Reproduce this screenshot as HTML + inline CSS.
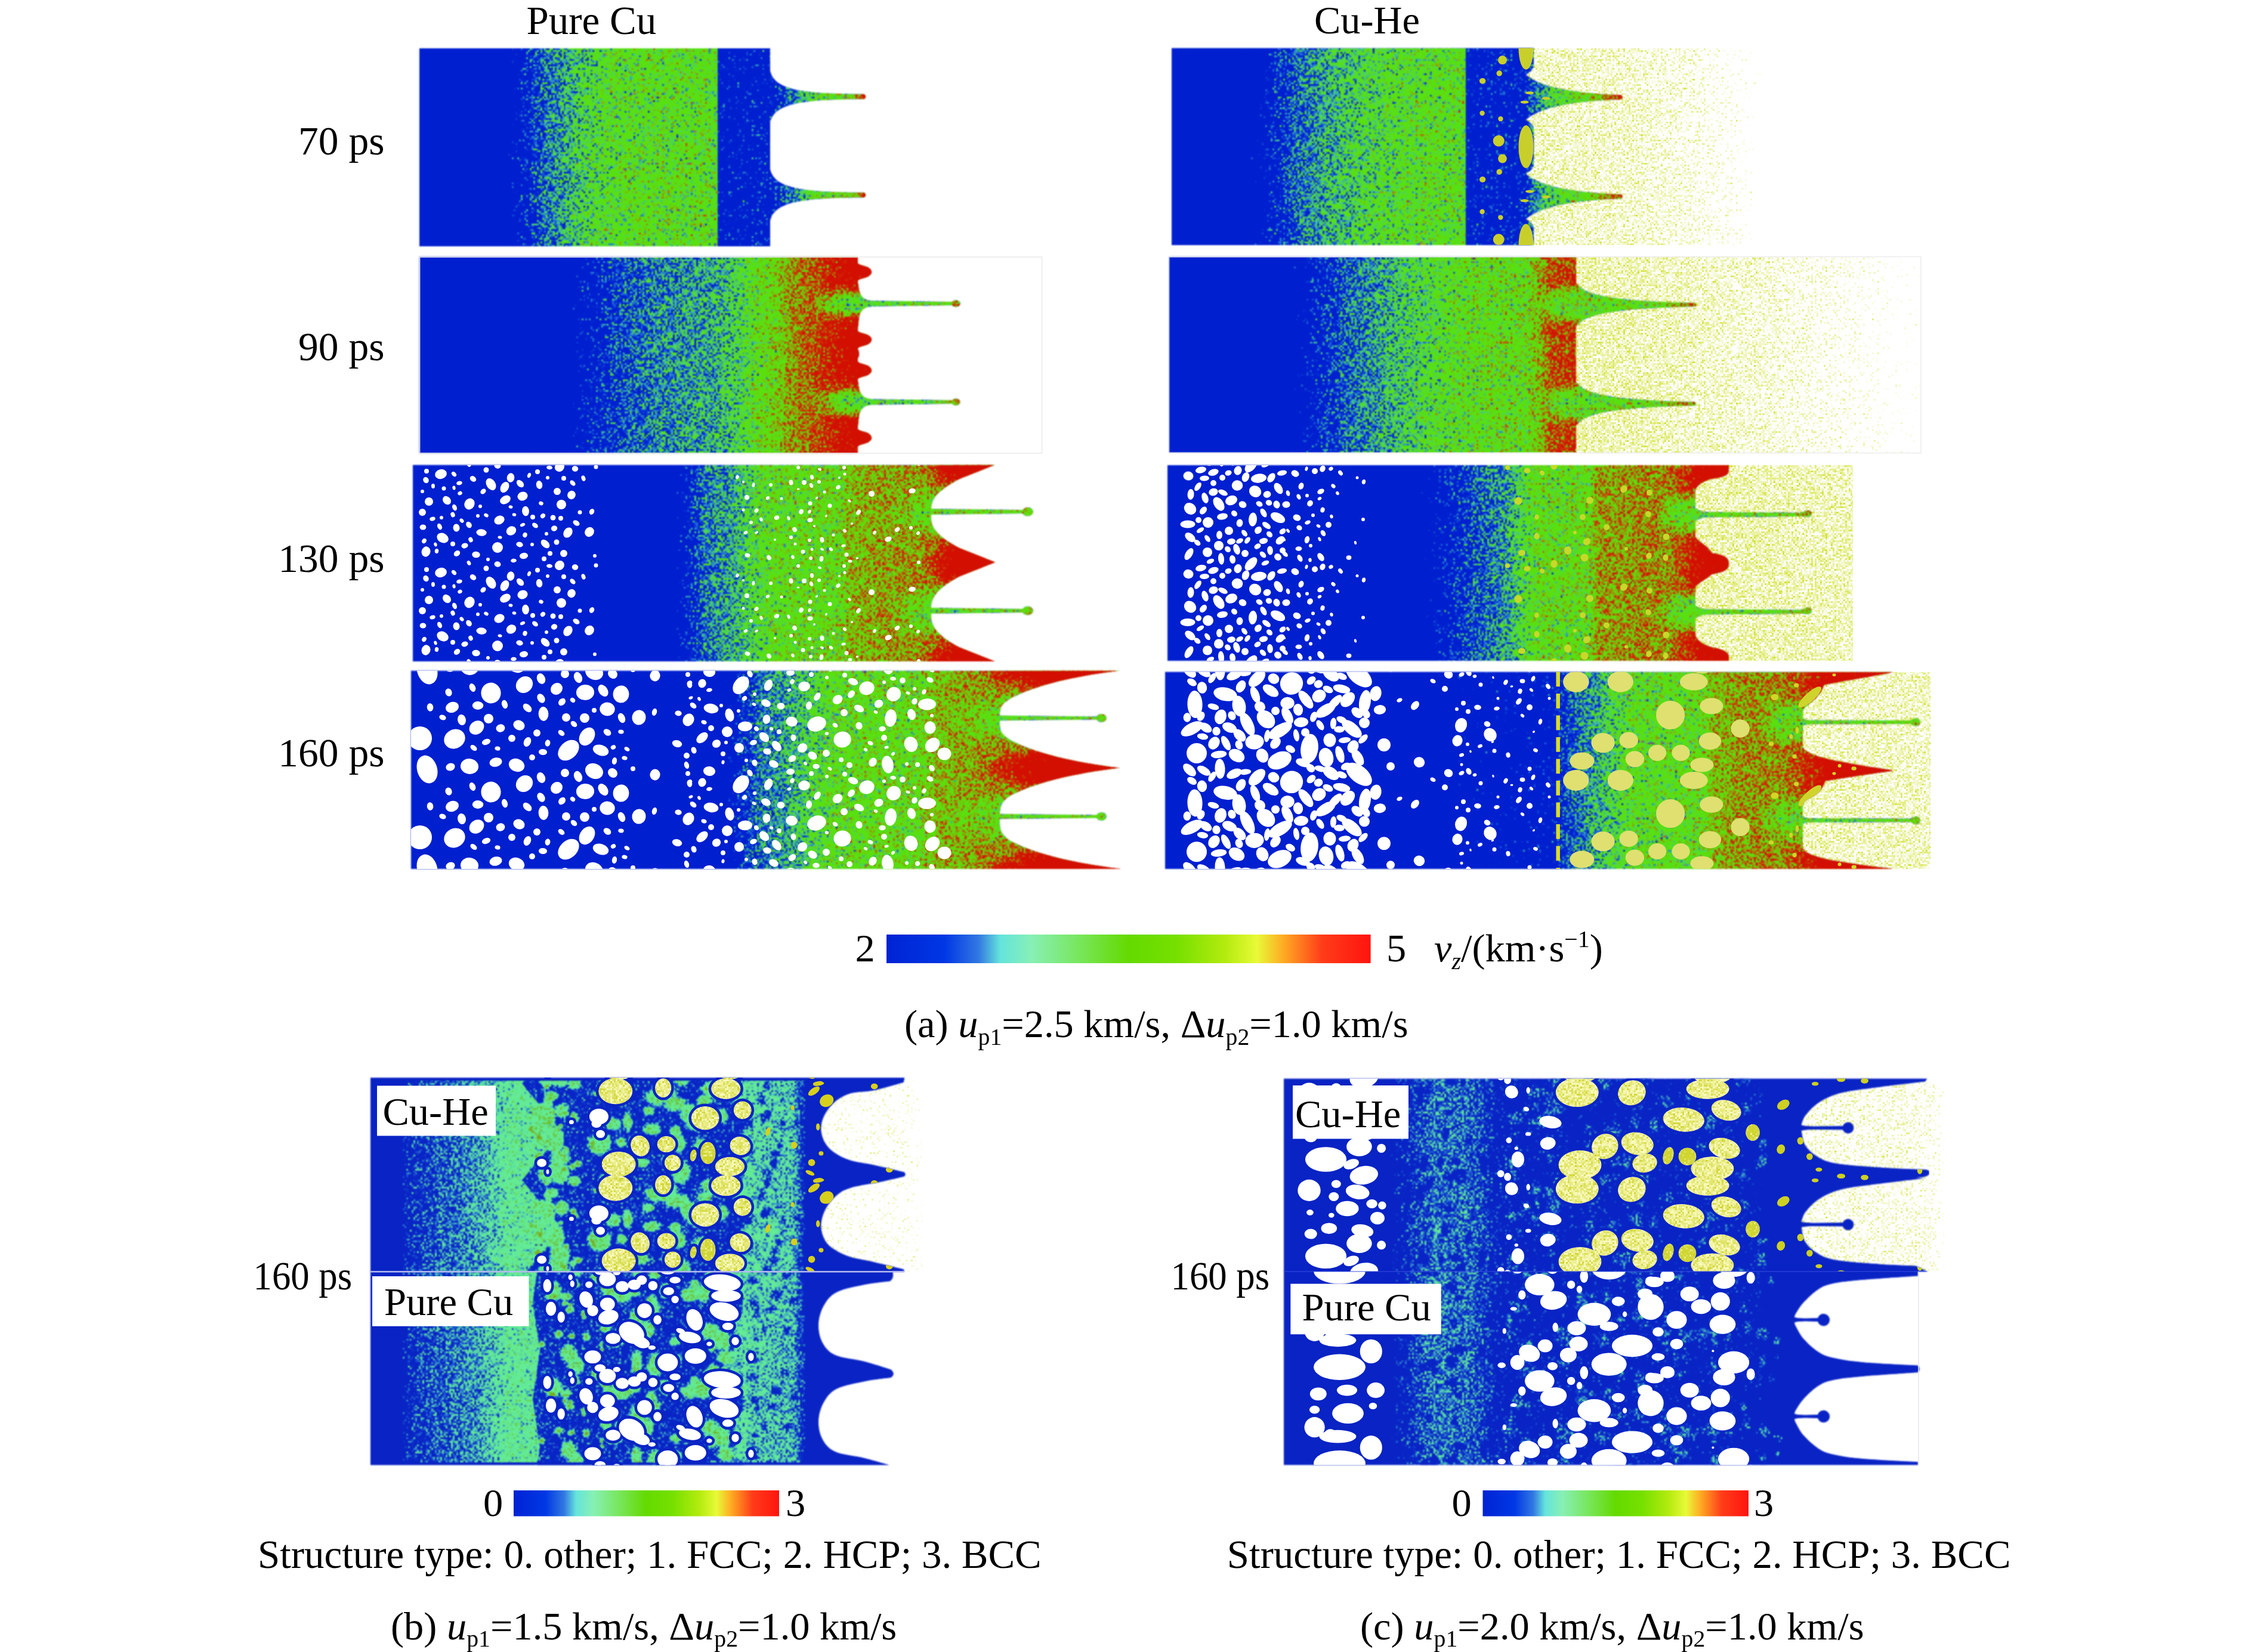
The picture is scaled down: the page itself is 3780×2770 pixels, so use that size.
<!DOCTYPE html>
<html><head><meta charset="utf-8"><title>figure</title>
<style>html,body{margin:0;padding:0;background:#fff;}body{width:3780px;height:2770px;overflow:hidden;}
svg{display:block;} text{font-family:"Liberation Serif",serif;fill:#000;}</style></head>
<body><svg width="3780" height="2770" viewBox="0 0 3780 2770">
<defs>
<filter id="fv" filterUnits="userSpaceOnUse" x="687" y="78" width="2535" height="1382" color-interpolation-filters="sRGB">
<feTurbulence type="fractalNoise" baseFrequency="0.46 0.54" numOctaves="1" seed="2" result="n"/>
<feColorMatrix in="n" type="matrix" values="1 0 0 0 0 1 0 0 0 0 1 0 0 0 0 0 0 0 0 1" result="n0"/>
<feFlood x="688" y="79" width="1" height="1" flood-color="#000" result="px"/>
<feComposite in="px" in2="px" operator="over" x="687" y="78" width="3" height="3" result="cell"/>
<feTile in="cell" result="grid"/>
<feComposite in="n0" in2="grid" operator="in" result="samp"/>
<feMorphology in="samp" operator="dilate" radius="1" result="n1"/>
<feComposite in="SourceGraphic" in2="n1" operator="arithmetic" k1="0" k2="1" k3="0.52" k4="-0.26" result="s"/>
<feComponentTransfer in="s" result="c"><feFuncR type="table" tableValues="0 0 0 0 0 0 0 0 0 0 0 0 0 0 0 0 0 0 0 0 0 0 0.065 0.131 0.206 0.277 0.305 0.333 0.338 0.342 0.347 0.352 0.356 0.361 0.456 0.55 0.642 0.732 0.805 0.813 0.82 0.824 0.824 0.824 0.824 0.824 0.824 0.824 0.824 0.824 0.824 0.824 0.824 0.824 0.824 0.824 0.824 0.824 0.824 0.824 0.824"/><feFuncG type="table" tableValues="0.122 0.122 0.122 0.122 0.122 0.122 0.122 0.122 0.122 0.122 0.122 0.122 0.122 0.122 0.122 0.122 0.124 0.125 0.127 0.129 0.131 0.133 0.294 0.455 0.637 0.808 0.845 0.882 0.882 0.882 0.882 0.882 0.882 0.882 0.776 0.67 0.529 0.366 0.222 0.157 0.092 0.059 0.059 0.059 0.059 0.059 0.059 0.059 0.059 0.059 0.059 0.059 0.059 0.059 0.059 0.059 0.059 0.059 0.059 0.059 0.059"/><feFuncB type="table" tableValues="0.812 0.812 0.812 0.812 0.812 0.812 0.812 0.812 0.812 0.812 0.812 0.812 0.812 0.812 0.812 0.812 0.814 0.816 0.818 0.82 0.822 0.824 0.838 0.853 0.702 0.528 0.313 0.098 0.088 0.078 0.069 0.059 0.049 0.039 0.039 0.039 0.034 0.026 0.018 0.011 0.004 0 0 0 0 0 0 0 0 0 0 0 0 0 0 0 0 0 0 0 0"/></feComponentTransfer>
<feComposite in="c" in2="SourceGraphic" operator="in" result="d"/><feGaussianBlur in="d" stdDeviation="0.85"/>
</filter>
<filter id="fh" filterUnits="userSpaceOnUse" x="1368" y="78" width="1893" height="2058" color-interpolation-filters="sRGB">
<feTurbulence type="fractalNoise" baseFrequency="0.46 0.54" numOctaves="1" seed="7" result="n"/>
<feColorMatrix in="n" type="matrix" values="1 0 0 0 0 1 0 0 0 0 1 0 0 0 0 0 0 0 0 1" result="n0"/>
<feFlood x="1369" y="79" width="1" height="1" flood-color="#000" result="px"/>
<feComposite in="px" in2="px" operator="over" x="1368" y="78" width="3" height="3" result="cell"/>
<feTile in="cell" result="grid"/>
<feComposite in="n0" in2="grid" operator="in" result="samp"/>
<feMorphology in="samp" operator="dilate" radius="1" result="n1"/>
<feComposite in="SourceGraphic" in2="n1" operator="arithmetic" k1="0" k2="1" k3="0.95" k4="-0.475" result="s"/>
<feComponentTransfer in="s" result="c"><feFuncR type="table" tableValues="1 1 1 1 1 1 1 1 1 1 1 1 1 1 1 1 1 1 1 0.996 0.987 0.978 0.969 0.96 0.951 0.942 0.933 0.924 0.915 0.906 0.897 0.888 0.879 0.869 0.86 0.851 0.842 0.833 0.831 0.831 0.831 0.831 0.831 0.831 0.831 0.831 0.831 0.831 0.831 0.831 0.831 0.831 0.831 0.831 0.831 0.831 0.831 0.831 0.831 0.831 0.831"/><feFuncG type="table" tableValues="1 1 1 1 1 1 1 1 1 1 1 1 1 1 1 1 1 1 1 0.998 0.992 0.986 0.981 0.975 0.969 0.964 0.958 0.952 0.946 0.941 0.935 0.929 0.924 0.918 0.912 0.907 0.901 0.895 0.894 0.894 0.894 0.894 0.894 0.894 0.894 0.894 0.894 0.894 0.894 0.894 0.894 0.894 0.894 0.894 0.894 0.894 0.894 0.894 0.894 0.894 0.894"/><feFuncB type="table" tableValues="1 1 1 1 1 1 1 1 1 1 1 1 1 1 1 1 1 1 1 0.984 0.942 0.901 0.86 0.819 0.778 0.737 0.696 0.655 0.614 0.572 0.531 0.49 0.449 0.408 0.367 0.326 0.285 0.244 0.235 0.235 0.235 0.235 0.235 0.235 0.235 0.235 0.235 0.235 0.235 0.235 0.235 0.235 0.235 0.235 0.235 0.235 0.235 0.235 0.235 0.235 0.235"/></feComponentTransfer>
<feComposite in="c" in2="SourceGraphic" operator="in" result="d"/><feGaussianBlur in="d" stdDeviation="0.6"/>
</filter>
<linearGradient id="g1" gradientUnits="userSpaceOnUse" x1="703" y1="0" x2="1452" y2="0"><stop offset="0.0000" stop-color="#1a1a1a"/><stop offset="0.1696" stop-color="#292929"/><stop offset="0.2296" stop-color="#4a4a4a"/><stop offset="0.2897" stop-color="#616161"/><stop offset="0.3431" stop-color="#6e6e6e"/><stop offset="0.3965" stop-color="#787878"/><stop offset="0.4633" stop-color="#7d7d7d"/><stop offset="0.6676" stop-color="#7e7e7e"/><stop offset="0.6677" stop-color="#444444"/><stop offset="0.7850" stop-color="#494949"/><stop offset="0.8238" stop-color="#595959"/><stop offset="0.8772" stop-color="#797979"/><stop offset="0.9506" stop-color="#868686"/><stop offset="0.9840" stop-color="#999999"/><stop offset="1.0000" stop-color="#b9b9b9"/></linearGradient>
<linearGradient id="g2" gradientUnits="userSpaceOnUse" x1="703" y1="0" x2="1462" y2="0"><stop offset="0.0000" stop-color="#1a1a1a"/><stop offset="0.2859" stop-color="#2d2d2d"/><stop offset="0.3781" stop-color="#4a4a4a"/><stop offset="0.4572" stop-color="#5b5b5b"/><stop offset="0.5231" stop-color="#636363"/><stop offset="0.6548" stop-color="#6a6a6a"/><stop offset="0.7075" stop-color="#737373"/><stop offset="0.7470" stop-color="#808080"/><stop offset="0.7866" stop-color="#878787"/><stop offset="0.8155" stop-color="#949494"/><stop offset="0.8709" stop-color="#a1a1a1"/><stop offset="0.9183" stop-color="#b2b2b2"/><stop offset="0.9684" stop-color="#c6c6c6"/><stop offset="1.0000" stop-color="#cccccc"/></linearGradient>
<clipPath id="c3"><path d="M703,430.5 H1438 L1438,441 C1442,445.5 1453,444.75 1459,450.75 Q1464,456 1459,461.25 C1453,467.25 1442,466.5 1438,471 L1440,483 Q1442,504 1462,504 L1462,514 Q1442,514 1440,535 L1438,554.5 C1442,559.0 1453,558.25 1459,564.25 Q1464,569.5 1459,574.75 C1453,580.75 1442,580.0 1438,584.5 Q1443,595 1438,601 L1438,606 C1442,610.5 1453,609.75 1459,615.75 Q1464,621 1459,626.25 C1453,632.25 1442,631.5 1438,636 L1440,648 Q1442,669 1462,669 L1462,679 Q1442,679 1440,700 L1438,719 C1442,723.5 1453,722.75 1459,728.75 Q1464,734 1459,739.25 C1453,745.25 1442,744.5 1438,749 L1438,760 H703 Z"/></clipPath>
<linearGradient id="g4" gradientUnits="userSpaceOnUse" x1="1440" y1="0" x2="1609" y2="0"><stop offset="0.0000" stop-color="#6c6c6c"/><stop offset="0.1775" stop-color="#797979"/><stop offset="0.7101" stop-color="#808080"/><stop offset="0.8876" stop-color="#8a8a8a"/><stop offset="1.0000" stop-color="#999999"/></linearGradient>
<radialGradient id="g5"><stop offset="0.3" stop-color="#7c7c7c" stop-opacity="1"/><stop offset="1" stop-color="#7c7c7c" stop-opacity="0"/></radialGradient>
<radialGradient id="g6"><stop offset="0.3" stop-color="#7c7c7c" stop-opacity="1"/><stop offset="1" stop-color="#7c7c7c" stop-opacity="0"/></radialGradient>
<linearGradient id="g7" gradientUnits="userSpaceOnUse" x1="692" y1="0" x2="1668" y2="0"><stop offset="0.0000" stop-color="#1a1a1a"/><stop offset="0.4283" stop-color="#262626"/><stop offset="0.4693" stop-color="#4a4a4a"/><stop offset="0.5051" stop-color="#616161"/><stop offset="0.5564" stop-color="#6b6b6b"/><stop offset="0.5922" stop-color="#797979"/><stop offset="0.6230" stop-color="#808080"/><stop offset="0.7377" stop-color="#828282"/><stop offset="0.7459" stop-color="#8e8e8e"/><stop offset="0.8074" stop-color="#939393"/><stop offset="0.8893" stop-color="#989898"/><stop offset="0.9303" stop-color="#acacac"/><stop offset="0.9713" stop-color="#c6c6c6"/></linearGradient>
<clipPath id="c8"><path d="M692,779.5 L1668,779.5 L1608,803.5 C1573,822.5 1561,836 1561,853 L1561,869 C1561,886 1573,899.5 1608,918.5 L1668,942.5 L1668,943.0 L1608,967.0 C1573,986.0 1561,1001 1561,1018 L1561,1034 C1561,1051 1573,1066.0 1608,1085.0 L1668,1109.0 L1668,1109 H692 Z"/></clipPath>
<radialGradient id="g9"><stop offset="0.35" stop-color="#808080" stop-opacity="1"/><stop offset="1" stop-color="#808080" stop-opacity="0"/></radialGradient>
<radialGradient id="g10"><stop offset="0.35" stop-color="#808080" stop-opacity="1"/><stop offset="1" stop-color="#808080" stop-opacity="0"/></radialGradient>
<radialGradient id="g11"><stop offset="0.3" stop-color="#cccccc" stop-opacity="1"/><stop offset="1" stop-color="#cccccc" stop-opacity="0"/></radialGradient>
<radialGradient id="g12"><stop offset="0.3" stop-color="#cccccc" stop-opacity="1"/><stop offset="1" stop-color="#cccccc" stop-opacity="0"/></radialGradient>
<radialGradient id="g13"><stop offset="0.3" stop-color="#cccccc" stop-opacity="1"/><stop offset="1" stop-color="#cccccc" stop-opacity="0"/></radialGradient>
<linearGradient id="g14" gradientUnits="userSpaceOnUse" x1="1555" y1="0" x2="1731" y2="0"><stop offset="0.0000" stop-color="#808080"/><stop offset="0.8239" stop-color="#828282"/><stop offset="1.0000" stop-color="#8c8c8c"/></linearGradient>
<linearGradient id="g15" gradientUnits="userSpaceOnUse" x1="689" y1="0" x2="1878" y2="0"><stop offset="0.0000" stop-color="#1a1a1a"/><stop offset="0.4256" stop-color="#262626"/><stop offset="0.4592" stop-color="#4a4a4a"/><stop offset="0.4929" stop-color="#606060"/><stop offset="0.5307" stop-color="#696969"/><stop offset="0.5601" stop-color="#737373"/><stop offset="0.5896" stop-color="#7c7c7c"/><stop offset="0.6148" stop-color="#808080"/><stop offset="0.7157" stop-color="#828282"/><stop offset="0.7325" stop-color="#8c8c8c"/><stop offset="0.7998" stop-color="#959595"/><stop offset="0.8503" stop-color="#9c9c9c"/><stop offset="0.9008" stop-color="#b2b2b2"/><stop offset="0.9344" stop-color="#c6c6c6"/></linearGradient>
<clipPath id="c16"><path d="M689,1124.5 L1878,1124.5 C1788,1135.5 1734,1151.5 1695,1170.5 C1680,1180.5 1676,1184 1676,1200 L1676,1212 C1676,1228 1680,1231.5 1695,1241.5 C1734,1260.5 1788,1276.5 1878,1287.5 L1878,1287.5 C1788,1298.5 1734,1314.5 1695,1333.5 C1680,1343.5 1676,1350 1676,1366 L1676,1378 C1676,1394 1680,1400.5 1695,1410.5 C1734,1429.5 1788,1445.5 1878,1456.5 L1878,1457 H689 Z"/></clipPath>
<radialGradient id="g17"><stop offset="0.35" stop-color="#828282" stop-opacity="1"/><stop offset="1" stop-color="#828282" stop-opacity="0"/></radialGradient>
<radialGradient id="g18"><stop offset="0.35" stop-color="#828282" stop-opacity="1"/><stop offset="1" stop-color="#828282" stop-opacity="0"/></radialGradient>
<radialGradient id="g19"><stop offset="0.3" stop-color="#cccccc" stop-opacity="1"/><stop offset="1" stop-color="#cccccc" stop-opacity="0"/></radialGradient>
<radialGradient id="g20"><stop offset="0.3" stop-color="#cccccc" stop-opacity="1"/><stop offset="1" stop-color="#cccccc" stop-opacity="0"/></radialGradient>
<radialGradient id="g21"><stop offset="0.3" stop-color="#cccccc" stop-opacity="1"/><stop offset="1" stop-color="#cccccc" stop-opacity="0"/></radialGradient>
<linearGradient id="g22" gradientUnits="userSpaceOnUse" x1="1670" y1="0" x2="1854" y2="0"><stop offset="0.0000" stop-color="#808080"/><stop offset="0.7065" stop-color="#808080"/><stop offset="1.0000" stop-color="#868686"/></linearGradient>
<linearGradient id="g23" gradientUnits="userSpaceOnUse" x1="2550" y1="0" x2="2960" y2="0"><stop offset="0.0000" stop-color="#666666"/><stop offset="0.4634" stop-color="#5c5c5c"/><stop offset="0.7317" stop-color="#4a4a4a"/><stop offset="0.9024" stop-color="#333333"/><stop offset="1.0000" stop-color="#131313"/></linearGradient>
<linearGradient id="g24" gradientUnits="userSpaceOnUse" x1="1964" y1="0" x2="2720" y2="0"><stop offset="0.0000" stop-color="#1a1a1a"/><stop offset="0.1534" stop-color="#2a2a2a"/><stop offset="0.2196" stop-color="#4a4a4a"/><stop offset="0.2791" stop-color="#5e5e5e"/><stop offset="0.3452" stop-color="#6a6a6a"/><stop offset="0.4180" stop-color="#737373"/><stop offset="0.4841" stop-color="#797979"/><stop offset="0.5767" stop-color="#7d7d7d"/><stop offset="0.6521" stop-color="#7e7e7e"/><stop offset="0.6522" stop-color="#454545"/><stop offset="0.7817" stop-color="#4a4a4a"/><stop offset="0.8082" stop-color="#626262"/><stop offset="0.8413" stop-color="#757575"/><stop offset="0.8942" stop-color="#808080"/><stop offset="0.9405" stop-color="#8a8a8a"/><stop offset="0.9669" stop-color="#999999"/><stop offset="1.0000" stop-color="#ababab"/></linearGradient>
<clipPath id="c25"><path d="M1964,80.5 H2571 L2571,112 Q2567,121 2558,125 L2558,125 C2576,141 2618,156 2716,159 A4,4 0 0 1 2716,167 C2618,170 2576,185 2558,201 Q2567,205 2571,214 L2571,278 Q2567,287 2558,291 L2558,291.5 C2576,307.5 2618,322.5 2716,325.5 A4,4 0 0 1 2716,333.5 C2618,336.5 2576,351.5 2558,367.5 Q2567,372 2571,380 L2571,411 H1964 Z"/></clipPath>
<linearGradient id="g26" gradientUnits="userSpaceOnUse" x1="2630" y1="0" x2="3219" y2="0"><stop offset="0.0000" stop-color="#6e6e6e"/><stop offset="0.2886" stop-color="#666666"/><stop offset="0.5433" stop-color="#575757"/><stop offset="0.7640" stop-color="#424242"/><stop offset="0.8998" stop-color="#303030"/><stop offset="1.0000" stop-color="#202020"/></linearGradient>
<linearGradient id="g27" gradientUnits="userSpaceOnUse" x1="1960" y1="0" x2="2843" y2="0"><stop offset="0.0000" stop-color="#1a1a1a"/><stop offset="0.2039" stop-color="#2a2a2a"/><stop offset="0.2718" stop-color="#4a4a4a"/><stop offset="0.3398" stop-color="#5e5e5e"/><stop offset="0.4077" stop-color="#6a6a6a"/><stop offset="0.4700" stop-color="#747474"/><stop offset="0.5323" stop-color="#7c7c7c"/><stop offset="0.5889" stop-color="#808080"/><stop offset="0.6795" stop-color="#828282"/><stop offset="0.7044" stop-color="#919191"/><stop offset="0.7248" stop-color="#a1a1a1"/><stop offset="0.7758" stop-color="#ababab"/><stop offset="0.7769" stop-color="#797979"/><stop offset="0.8381" stop-color="#808080"/><stop offset="0.9287" stop-color="#828282"/><stop offset="0.9513" stop-color="#8f8f8f"/><stop offset="1.0000" stop-color="#9c9c9c"/></linearGradient>
<clipPath id="c28"><path d="M1960,430.5 H2642 L2642,475 Q2648,478 2648,481 C2662,493 2697,504.8 2840,507.8 A3.2,3.2 0 0 1 2840,514.2 C2697,517.2 2662,529 2648,541 Q2648,544 2642,547 L2642,641 Q2648,644 2648,647 C2662,659 2697,670.8 2840,673.8 A3.2,3.2 0 0 1 2840,680.2 C2697,683.2 2662,695 2648,707 Q2648,710 2642,713 L2642,759 H1960 Z"/></clipPath>
<radialGradient id="g29"><stop offset="0.5" stop-color="#808080" stop-opacity="1"/><stop offset="1" stop-color="#808080" stop-opacity="0"/></radialGradient>
<radialGradient id="g30"><stop offset="0.5" stop-color="#808080" stop-opacity="1"/><stop offset="1" stop-color="#808080" stop-opacity="0"/></radialGradient>
<linearGradient id="g31" gradientUnits="userSpaceOnUse" x1="2830" y1="0" x2="3106" y2="0"><stop offset="0.0000" stop-color="#6e6e6e"/><stop offset="1.0000" stop-color="#666666"/></linearGradient>
<linearGradient id="g32" gradientUnits="userSpaceOnUse" x1="1957" y1="0" x2="2899" y2="0"><stop offset="0.0000" stop-color="#1a1a1a"/><stop offset="0.4278" stop-color="#262626"/><stop offset="0.4809" stop-color="#474747"/><stop offset="0.5446" stop-color="#595959"/><stop offset="0.6030" stop-color="#666666"/><stop offset="0.6348" stop-color="#787878"/><stop offset="0.6614" stop-color="#808080"/><stop offset="0.7527" stop-color="#828282"/><stop offset="0.7633" stop-color="#939393"/><stop offset="0.8100" stop-color="#969696"/><stop offset="0.8949" stop-color="#999999"/><stop offset="0.9268" stop-color="#acacac"/><stop offset="0.9586" stop-color="#c6c6c6"/><stop offset="1.0000" stop-color="#cccccc"/></linearGradient>
<linearGradient id="g33" gradientUnits="userSpaceOnUse" x1="2835" y1="0" x2="3036" y2="0"><stop offset="0.0000" stop-color="#7d7d7d"/><stop offset="0.6219" stop-color="#808080"/><stop offset="0.8209" stop-color="#878787"/><stop offset="1.0000" stop-color="#949494"/></linearGradient>
<clipPath id="c34"><path d="M1957,780 H2898 L2898,790 Q2898,800 2870,803 C2856,807 2846,812 2842,822 L2842,869 L2842,900 C2848,909 2862,914 2870,927 Q2898,931 2898,942 L2898,948 Q2898,959 2870,963 C2862,971 2848,976 2842,985 L2842,1032 L2842,1065 C2846,1075 2856,1081 2870,1085 Q2898,1090 2898,1100 L2898,1108 H1957 Z"/></clipPath>
<radialGradient id="g35"><stop offset="0.45" stop-color="#808080" stop-opacity="1"/><stop offset="1" stop-color="#808080" stop-opacity="0"/></radialGradient>
<radialGradient id="g36"><stop offset="0.45" stop-color="#808080" stop-opacity="1"/><stop offset="1" stop-color="#808080" stop-opacity="0"/></radialGradient>
<linearGradient id="g37" gradientUnits="userSpaceOnUse" x1="3000" y1="0" x2="3236.5" y2="0"><stop offset="0.0000" stop-color="#666666"/><stop offset="0.9979" stop-color="#626262"/></linearGradient>
<linearGradient id="g38" gradientUnits="userSpaceOnUse" x1="1953" y1="0" x2="3172" y2="0"><stop offset="0.0000" stop-color="#1a1a1a"/><stop offset="0.3257" stop-color="#202020"/><stop offset="0.4077" stop-color="#3b3b3b"/><stop offset="0.5398" stop-color="#444444"/><stop offset="0.5406" stop-color="#505050"/><stop offset="0.5718" stop-color="#626262"/><stop offset="0.6046" stop-color="#6e6e6e"/><stop offset="0.6374" stop-color="#7c7c7c"/><stop offset="0.7358" stop-color="#808080"/><stop offset="0.7564" stop-color="#8f8f8f"/><stop offset="0.7933" stop-color="#959595"/><stop offset="0.8507" stop-color="#999999"/><stop offset="0.8835" stop-color="#acacac"/><stop offset="0.9163" stop-color="#c6c6c6"/><stop offset="1.0000" stop-color="#cccccc"/></linearGradient>
<linearGradient id="g39" gradientUnits="userSpaceOnUse" x1="3015" y1="0" x2="3217" y2="0"><stop offset="0.0000" stop-color="#7d7d7d"/><stop offset="0.6683" stop-color="#808080"/><stop offset="1.0000" stop-color="#8a8a8a"/></linearGradient>
<clipPath id="c40"><path d="M1953,1126.5 H3171 L3171,1128 C3125,1137 3085,1143 3058,1149 C3053,1160 3050,1168 3027,1185 Q3022,1190 3022,1195 L3022,1207 L3022,1215 L3022,1252 C3026,1262 3047,1268 3067,1273 C3102,1280 3122,1284 3172,1291 L3172,1293 C3122,1300 3082,1306 3060,1310 C3055,1322 3052,1330 3027,1342 Q3022,1346 3022,1350 L3022,1371.5 L3022,1379.5 L3022,1421 C3026,1431 3045,1436 3065,1441 C3100,1447 3130,1452 3171,1456 L3171,1457 H1953 Z"/></clipPath>
<radialGradient id="g41"><stop offset="0.4" stop-color="#828282" stop-opacity="1"/><stop offset="1" stop-color="#828282" stop-opacity="0"/></radialGradient>
<radialGradient id="g42"><stop offset="0.4" stop-color="#828282" stop-opacity="1"/><stop offset="1" stop-color="#828282" stop-opacity="0"/></radialGradient>
<linearGradient id="cb43" x1="0" y1="0" x2="1" y2="0"><stop offset="0.0" stop-color="rgb(0,35,212)"/><stop offset="0.12" stop-color="rgb(0,55,228)"/><stop offset="0.19" stop-color="rgb(50,120,226)"/><stop offset="0.235" stop-color="rgb(100,228,220)"/><stop offset="0.3" stop-color="rgb(135,240,180)"/><stop offset="0.4" stop-color="rgb(120,230,90)"/><stop offset="0.5" stop-color="rgb(100,218,0)"/><stop offset="0.6" stop-color="rgb(118,224,0)"/><stop offset="0.7" stop-color="rgb(180,235,15)"/><stop offset="0.765" stop-color="rgb(232,250,55)"/><stop offset="0.82" stop-color="rgb(255,170,35)"/><stop offset="0.9" stop-color="rgb(255,60,25)"/><stop offset="1.0" stop-color="rgb(255,20,15)"/></linearGradient>
<linearGradient id="cb44" x1="0" y1="0" x2="1" y2="0"><stop offset="0.0" stop-color="rgb(0,35,212)"/><stop offset="0.12" stop-color="rgb(0,55,228)"/><stop offset="0.19" stop-color="rgb(50,120,226)"/><stop offset="0.235" stop-color="rgb(100,228,220)"/><stop offset="0.3" stop-color="rgb(135,240,180)"/><stop offset="0.4" stop-color="rgb(120,230,90)"/><stop offset="0.5" stop-color="rgb(100,218,0)"/><stop offset="0.6" stop-color="rgb(118,224,0)"/><stop offset="0.7" stop-color="rgb(180,235,15)"/><stop offset="0.765" stop-color="rgb(232,250,55)"/><stop offset="0.82" stop-color="rgb(255,170,35)"/><stop offset="0.9" stop-color="rgb(255,60,25)"/><stop offset="1.0" stop-color="rgb(255,20,15)"/></linearGradient>
<linearGradient id="cb45" x1="0" y1="0" x2="1" y2="0"><stop offset="0.0" stop-color="rgb(0,35,212)"/><stop offset="0.12" stop-color="rgb(0,55,228)"/><stop offset="0.19" stop-color="rgb(50,120,226)"/><stop offset="0.235" stop-color="rgb(100,228,220)"/><stop offset="0.3" stop-color="rgb(135,240,180)"/><stop offset="0.4" stop-color="rgb(120,230,90)"/><stop offset="0.5" stop-color="rgb(100,218,0)"/><stop offset="0.6" stop-color="rgb(118,224,0)"/><stop offset="0.7" stop-color="rgb(180,235,15)"/><stop offset="0.765" stop-color="rgb(232,250,55)"/><stop offset="0.82" stop-color="rgb(255,170,35)"/><stop offset="0.9" stop-color="rgb(255,60,25)"/><stop offset="1.0" stop-color="rgb(255,20,15)"/></linearGradient>
<filter id="fs" filterUnits="userSpaceOnUse" x="618" y="1804" width="2616" height="655" color-interpolation-filters="sRGB">
<feTurbulence type="fractalNoise" baseFrequency="0.46 0.54" numOctaves="1" seed="5" result="n"/>
<feColorMatrix in="n" type="matrix" values="1 0 0 0 0 1 0 0 0 0 1 0 0 0 0 0 0 0 0 1" result="n0"/>
<feFlood x="619" y="1805" width="1" height="1" flood-color="#000" result="px"/>
<feComposite in="px" in2="px" operator="over" x="618" y="1804" width="3" height="3" result="cell"/>
<feTile in="cell" result="grid"/>
<feComposite in="n0" in2="grid" operator="in" result="samp"/>
<feMorphology in="samp" operator="dilate" radius="1" result="n1"/>
<feComposite in="SourceGraphic" in2="n1" operator="arithmetic" k1="0" k2="1" k3="0.6" k4="-0.3" result="s"/>
<feComponentTransfer in="s" result="c"><feFuncR type="table" tableValues="0.039 0.039 0.039 0.039 0.039 0.039 0.039 0.039 0.039 0.039 0.039 0.039 0.039 0.039 0.039 0.039 0.038 0.036 0.035 0.033 0.032 0.073 0.12 0.174 0.259 0.344 0.371 0.384 0.392 0.392 0.392 0.392 0.392 0.392 0.394 0.398 0.402 0.406 0.41 0.421 0.436 0.452 0.467 0.483 0.49 0.49 0.49 0.49 0.49 0.49 0.49 0.49 0.49 0.49 0.49 0.49 0.49 0.49 0.49 0.49 0.49"/><feFuncG type="table" tableValues="0.141 0.141 0.141 0.141 0.141 0.141 0.141 0.141 0.141 0.141 0.141 0.141 0.141 0.141 0.141 0.141 0.143 0.144 0.146 0.147 0.149 0.256 0.375 0.504 0.671 0.837 0.889 0.912 0.925 0.925 0.925 0.925 0.925 0.925 0.914 0.884 0.855 0.825 0.796 0.768 0.741 0.714 0.687 0.661 0.647 0.647 0.647 0.647 0.647 0.647 0.647 0.647 0.647 0.647 0.647 0.647 0.647 0.647 0.647 0.647 0.647"/><feFuncB type="table" tableValues="0.769 0.769 0.769 0.769 0.769 0.769 0.769 0.769 0.769 0.769 0.769 0.769 0.769 0.769 0.769 0.769 0.772 0.775 0.778 0.781 0.784 0.804 0.826 0.827 0.745 0.663 0.627 0.603 0.588 0.588 0.588 0.588 0.588 0.588 0.559 0.485 0.412 0.338 0.265 0.221 0.198 0.175 0.152 0.129 0.118 0.118 0.118 0.118 0.118 0.118 0.118 0.118 0.118 0.118 0.118 0.118 0.118 0.118 0.118 0.118 0.118"/></feComponentTransfer>
<feComposite in="c" in2="SourceGraphic" operator="in" result="d"/><feGaussianBlur in="d" stdDeviation="0.85"/>
</filter>
<filter id="fb" filterUnits="userSpaceOnUse" x="990" y="1804" width="1972" height="332" color-interpolation-filters="sRGB">
<feTurbulence type="fractalNoise" baseFrequency="0.46 0.54" numOctaves="1" seed="9" result="n"/>
<feColorMatrix in="n" type="matrix" values="1 0 0 0 0 1 0 0 0 0 1 0 0 0 0 0 0 0 0 1" result="n0"/>
<feFlood x="991" y="1805" width="1" height="1" flood-color="#000" result="px"/>
<feComposite in="px" in2="px" operator="over" x="990" y="1804" width="3" height="3" result="cell"/>
<feTile in="cell" result="grid"/>
<feComposite in="n0" in2="grid" operator="in" result="samp"/>
<feMorphology in="samp" operator="dilate" radius="1" result="n1"/>
<feComposite in="SourceGraphic" in2="n1" operator="arithmetic" k1="0" k2="1" k3="0.8" k4="-0.4" result="s"/>
<feComponentTransfer in="s" result="c"><feFuncR type="table" tableValues="0.98 0.98 0.98 0.98 0.98 0.98 0.98 0.98 0.98 0.98 0.98 0.98 0.98 0.98 0.98 0.98 0.98 0.98 0.98 0.98 0.98 0.98 0.98 0.975 0.964 0.953 0.942 0.931 0.92 0.909 0.898 0.887 0.876 0.865 0.854 0.843 0.832 0.821 0.816 0.816 0.816 0.816 0.816 0.816 0.816 0.816 0.816 0.816 0.816 0.816 0.816 0.816 0.816 0.816 0.816 0.816 0.816 0.816 0.816 0.816 0.816"/><feFuncG type="table" tableValues="0.98 0.98 0.98 0.98 0.98 0.98 0.98 0.98 0.98 0.98 0.98 0.98 0.98 0.98 0.98 0.98 0.98 0.98 0.98 0.98 0.98 0.98 0.98 0.976 0.966 0.957 0.947 0.938 0.929 0.919 0.91 0.9 0.891 0.882 0.872 0.863 0.853 0.844 0.839 0.839 0.839 0.839 0.839 0.839 0.839 0.839 0.839 0.839 0.839 0.839 0.839 0.839 0.839 0.839 0.839 0.839 0.839 0.839 0.839 0.839 0.839"/><feFuncB type="table" tableValues="0.745 0.745 0.745 0.745 0.745 0.745 0.745 0.745 0.745 0.745 0.745 0.745 0.745 0.745 0.745 0.745 0.745 0.745 0.745 0.745 0.745 0.745 0.745 0.727 0.69 0.654 0.617 0.58 0.544 0.507 0.471 0.434 0.397 0.361 0.324 0.288 0.251 0.214 0.196 0.196 0.196 0.196 0.196 0.196 0.196 0.196 0.196 0.196 0.196 0.196 0.196 0.196 0.196 0.196 0.196 0.196 0.196 0.196 0.196 0.196 0.196"/></feComponentTransfer>
<feComposite in="c" in2="SourceGraphic" operator="in" result="d"/><feGaussianBlur in="d" stdDeviation="0.6"/>
</filter>
<linearGradient id="g46" gradientUnits="userSpaceOnUse" x1="1370" y1="0" x2="1546" y2="0"><stop offset="0.0000" stop-color="#3b3b3b"/><stop offset="0.7386" stop-color="#383838"/><stop offset="1.0000" stop-color="#2d2d2d"/></linearGradient>
<linearGradient id="g47" gradientUnits="userSpaceOnUse" x1="621" y1="0" x2="1520" y2="0"><stop offset="0.0000" stop-color="#1a1a1a"/><stop offset="0.0478" stop-color="#202020"/><stop offset="0.0701" stop-color="#4c4c4c"/><stop offset="0.1324" stop-color="#595959"/><stop offset="0.1991" stop-color="#656565"/><stop offset="0.2380" stop-color="#737373"/><stop offset="0.2547" stop-color="#808080"/><stop offset="0.6885" stop-color="#808080"/><stop offset="0.7130" stop-color="#707070"/><stop offset="0.7887" stop-color="#6e6e6e"/><stop offset="0.8065" stop-color="#4c4c4c"/><stop offset="0.8176" stop-color="#1a1a1a"/></linearGradient>
<clipPath id="c48"><path d="M621,1807 H1516.1 L1514.8,1815.0 C1506.6,1817.2 1480.4,1825.2 1465.6,1828.3 C1450.7,1831.4 1436.7,1830.3 1425.6,1833.6 C1414.6,1836.9 1406.3,1842.0 1399.0,1848.2 C1391.7,1854.4 1385.5,1863.3 1381.7,1870.8 C1378.0,1878.4 1376.2,1885.9 1376.4,1893.4 C1376.6,1901.0 1379.3,1909.5 1383.1,1916.1 C1386.8,1922.6 1391.9,1927.9 1399.0,1932.8 C1406.1,1937.8 1414.6,1942.1 1425.6,1945.6 C1436.7,1949.1 1450.6,1950.3 1465.6,1953.6 C1480.5,1956.9 1507.2,1963.3 1515.6,1965.3 Q1520.1,1969.3 1515.6,1972.7 L1515.6,1972.7 C1509.5,1974.2 1493.8,1978.1 1478.9,1981.3 C1463.9,1984.4 1438.5,1987.9 1425.6,1991.9 C1412.8,1995.9 1408.8,1999.0 1401.7,2005.2 C1394.6,2011.4 1387.3,2020.7 1383.1,2029.2 C1378.9,2037.6 1376.4,2047.3 1376.4,2055.8 C1376.4,2064.2 1379.3,2073.1 1383.1,2079.7 C1386.8,2086.3 1391.9,2090.5 1399.0,2095.1 C1406.1,2099.8 1414.6,2104.1 1425.6,2107.6 C1436.7,2111.1 1450.7,2112.7 1465.6,2116.2 C1480.4,2119.6 1506.6,2126.1 1514.8,2128.1 L1516.1,2132.3 H621 Z"/></clipPath>
<radialGradient id="g49"><stop offset="0.55" stop-color="#8f8f8f" stop-opacity="1"/><stop offset="1" stop-color="#8f8f8f" stop-opacity="0"/></radialGradient>
<radialGradient id="g50"><stop offset="0.2" stop-color="#b2b2b2" stop-opacity="1"/><stop offset="1" stop-color="#b2b2b2" stop-opacity="0"/></radialGradient>
<radialGradient id="g51"><stop offset="0.5" stop-color="#797979" stop-opacity="1"/><stop offset="1" stop-color="#797979" stop-opacity="0"/></radialGradient>
<radialGradient id="g52"><stop offset="0.35" stop-color="#464646" stop-opacity="1"/><stop offset="1" stop-color="#464646" stop-opacity="0"/></radialGradient>
<linearGradient id="g53" gradientUnits="userSpaceOnUse" x1="621" y1="0" x2="1520" y2="0"><stop offset="0.0000" stop-color="#1a1a1a"/><stop offset="0.0478" stop-color="#202020"/><stop offset="0.0701" stop-color="#4c4c4c"/><stop offset="0.1324" stop-color="#595959"/><stop offset="0.1991" stop-color="#656565"/><stop offset="0.2380" stop-color="#737373"/><stop offset="0.2547" stop-color="#808080"/><stop offset="0.6719" stop-color="#808080"/><stop offset="0.6974" stop-color="#6f6f6f"/><stop offset="0.7887" stop-color="#6b6b6b"/><stop offset="0.8065" stop-color="#4c4c4c"/><stop offset="0.8176" stop-color="#1a1a1a"/></linearGradient>
<clipPath id="c54"><path d="M621,2132.3 H1496.4 Q1499.4,2143.3 1491.7,2148.6 L1491.7,2148.6 C1484.7,2149.5 1464.5,2151.1 1449.8,2154.1 C1435.1,2157.1 1414.6,2160.9 1403.2,2166.6 C1391.9,2172.3 1386.7,2179.5 1381.5,2188.3 C1376.3,2197.1 1372.7,2209.0 1372.2,2219.3 C1371.7,2229.7 1373.7,2241.6 1378.4,2250.4 C1383.1,2259.2 1388.2,2266.7 1400.1,2272.1 C1412.0,2277.5 1434.3,2278.9 1449.8,2283.0 C1465.3,2287.0 1486.0,2294.1 1493.3,2296.3 Q1502.4,2303.8 1493.3,2310.0 L1493.3,2310.0 C1486.0,2311.0 1464.8,2313.1 1449.8,2316.2 C1434.8,2319.3 1414.6,2322.9 1403.2,2328.6 C1391.9,2334.3 1386.7,2341.5 1381.5,2350.3 C1376.3,2359.1 1372.7,2371.0 1372.2,2381.4 C1371.7,2391.7 1373.7,2403.6 1378.4,2412.4 C1383.1,2421.2 1388.2,2428.7 1400.1,2434.1 C1412.0,2439.6 1434.5,2441.2 1449.8,2445.0 C1465.1,2448.8 1484.7,2454.8 1491.7,2456.8 L1491.7,2456.5 H621 Z"/></clipPath>
<radialGradient id="g55"><stop offset="0.55" stop-color="#8f8f8f" stop-opacity="1"/><stop offset="1" stop-color="#8f8f8f" stop-opacity="0"/></radialGradient>
<radialGradient id="g56"><stop offset="0.2" stop-color="#b2b2b2" stop-opacity="1"/><stop offset="1" stop-color="#b2b2b2" stop-opacity="0"/></radialGradient>
<radialGradient id="g57"><stop offset="0.5" stop-color="#797979" stop-opacity="1"/><stop offset="1" stop-color="#797979" stop-opacity="0"/></radialGradient>
<radialGradient id="g58"><stop offset="0.35" stop-color="#464646" stop-opacity="1"/><stop offset="1" stop-color="#464646" stop-opacity="0"/></radialGradient>
<linearGradient id="g59" gradientUnits="userSpaceOnUse" x1="3000" y1="0" x2="3259" y2="0"><stop offset="0.0000" stop-color="#4f4f4f"/><stop offset="0.7722" stop-color="#4c4c4c"/><stop offset="0.9266" stop-color="#424242"/><stop offset="1.0000" stop-color="#2d2d2d"/></linearGradient>
<linearGradient id="g60" gradientUnits="userSpaceOnUse" x1="2152" y1="0" x2="3260" y2="0"><stop offset="0.0000" stop-color="#0d0d0d"/><stop offset="0.1498" stop-color="#0d0d0d"/><stop offset="0.1679" stop-color="#3d3d3d"/><stop offset="0.2013" stop-color="#525252"/><stop offset="0.2283" stop-color="#5d5d5d"/><stop offset="0.2735" stop-color="#5d5d5d"/><stop offset="0.3005" stop-color="#525252"/><stop offset="0.3249" stop-color="#404040"/><stop offset="0.3547" stop-color="#3d3d3d"/><stop offset="0.7202" stop-color="#3b3b3b"/><stop offset="0.7428" stop-color="#0d0d0d"/><stop offset="1.0000" stop-color="#0d0d0d"/></linearGradient>
<clipPath id="c61"><path d="M2152,1808.5 H3230.5 L3227.4,1813.6 C3214.5,1815.2 3173.1,1819.8 3149.8,1822.9 C3126.5,1826.0 3104.3,1828.1 3087.7,1832.3 C3071.2,1836.4 3060.6,1841.6 3050.5,1847.8 C3040.4,1854.0 3032.3,1863.3 3027.2,1869.5 C3022.1,1875.7 3021.2,1882.4 3020.0,1885.0 L3019.5,1886.2 Q3024,1888.2 3040,1888.4 L3089,1888.0 A9.5,9.5 0 1 1 3089,1894.4 L3040,1894.0 Q3024,1894.2 3019.5,1896.2 L3020.0,1897.4 C3021.0,1901.1 3021.6,1912.4 3025.6,1919.2 C3029.7,1925.9 3036.0,1932.6 3044.3,1937.8 C3052.5,1943.0 3057.7,1947.0 3075.3,1950.2 C3092.9,1953.5 3127.0,1955.6 3149.8,1957.3 C3172.6,1959.1 3201.5,1959.9 3211.9,1960.5 Q3236.5,1959.7 3234.5,1965.7 Q3236.5,1973.7 3211.9,1975.0 L3227.4,1975.7 C3214.5,1977.2 3173.1,1981.9 3149.8,1985.0 C3126.5,1988.1 3104.3,1990.2 3087.7,1994.3 C3071.2,1998.4 3060.6,2003.6 3050.5,2009.8 C3040.4,2016.0 3032.3,2025.3 3027.2,2031.5 C3022.1,2037.7 3021.2,2044.5 3020.0,2047.1 L3019.5,2048.3 Q3024,2050.3 3040,2050.5 L3089,2050.1 A9.5,9.5 0 1 1 3089,2056.5 L3040,2056.1 Q3024,2056.3 3019.5,2058.3 L3020.0,2059.5 C3021.0,2063.1 3021.6,2074.5 3025.6,2081.2 C3029.7,2087.9 3036.0,2094.7 3044.3,2099.8 C3052.5,2105.0 3057.7,2109.0 3075.3,2112.2 C3092.9,2115.5 3127.0,2117.7 3149.8,2119.4 C3172.6,2121.1 3201.5,2122.0 3211.9,2122.5 L3230.5,2132 H2152 Z"/></clipPath>
<radialGradient id="g62"><stop offset="0.3" stop-color="#595959" stop-opacity="1"/><stop offset="1" stop-color="#595959" stop-opacity="0"/></radialGradient>
<radialGradient id="g63"><stop offset="0.2" stop-color="#333333" stop-opacity="1"/><stop offset="1" stop-color="#333333" stop-opacity="0"/></radialGradient>
<linearGradient id="g64" gradientUnits="userSpaceOnUse" x1="2152" y1="0" x2="3260" y2="0"><stop offset="0.0000" stop-color="#0d0d0d"/><stop offset="0.1498" stop-color="#0d0d0d"/><stop offset="0.1679" stop-color="#3d3d3d"/><stop offset="0.2013" stop-color="#525252"/><stop offset="0.2283" stop-color="#5d5d5d"/><stop offset="0.2735" stop-color="#5d5d5d"/><stop offset="0.3005" stop-color="#525252"/><stop offset="0.3249" stop-color="#404040"/><stop offset="0.3547" stop-color="#3d3d3d"/><stop offset="0.7202" stop-color="#3b3b3b"/><stop offset="0.7428" stop-color="#0d0d0d"/><stop offset="1.0000" stop-color="#0d0d0d"/></linearGradient>
<clipPath id="c65"><path d="M2152,2132 H3215.3 L3215.3,2139.4 C3199.8,2140.5 3146.0,2143.9 3122.2,2146.1 C3098.4,2148.2 3084.9,2149.6 3072.5,2152.3 C3060.1,2155.0 3056.0,2156.8 3047.7,2162.2 C3039.4,2167.6 3029.3,2177.5 3022.8,2184.6 C3016.4,2191.6 3011.5,2201.1 3009.2,2204.4 L3008,2208.6 Q3012,2210.5 3026,2210.6 L3047,2210.1 A10.3,10.3 0 1 1 3047,2216.1 L3026,2215.6 Q3012,2215.7 3008,2217.6 L3009.2,2221.8 C3011.5,2225.5 3016.4,2236.7 3022.8,2244.2 C3029.3,2251.6 3039.4,2261.1 3047.7,2266.5 C3056.0,2271.9 3060.1,2273.6 3072.5,2276.5 C3084.9,2279.4 3098.4,2281.8 3122.2,2283.9 C3146.0,2286.1 3199.8,2288.5 3215.3,2289.4 Q3220.3,2295.1 3215.3,2301.1 L3215.3,2301.3 C3199.8,2302.4 3146.0,2305.8 3122.2,2308.0 C3098.4,2310.1 3084.9,2311.5 3072.5,2314.2 C3060.1,2316.9 3056.0,2318.8 3047.7,2324.1 C3039.4,2329.5 3029.3,2339.4 3022.8,2346.5 C3016.4,2353.5 3011.5,2363.0 3009.2,2366.4 L3008,2370.5 Q3012,2372.4 3026,2372.5 L3047,2372.0 A10.3,10.3 0 1 1 3047,2378.0 L3026,2377.5 Q3012,2377.6 3008,2379.5 L3009.2,2383.7 C3011.5,2387.5 3016.4,2398.6 3022.8,2406.1 C3029.3,2413.5 3039.4,2423.1 3047.7,2428.4 C3056.0,2433.8 3060.1,2435.5 3072.5,2438.4 C3084.9,2441.3 3098.4,2443.7 3122.2,2445.8 C3146.0,2448.0 3199.8,2450.4 3215.3,2451.3 L3215.3,2456.5 H2152 Z"/></clipPath>
<radialGradient id="g66"><stop offset="0.3" stop-color="#595959" stop-opacity="1"/><stop offset="1" stop-color="#595959" stop-opacity="0"/></radialGradient>
<radialGradient id="g67"><stop offset="0.2" stop-color="#333333" stop-opacity="1"/><stop offset="1" stop-color="#333333" stop-opacity="0"/></radialGradient>
</defs>
<g filter="url(#fh)"><rect x="2550" y="80.5" width="410" height="330.5" fill="url(#g23)"/><rect x="2630" y="431" width="589" height="328" fill="url(#g26)"/><rect x="2830" y="780" width="276" height="328" fill="url(#g31)"/><rect x="3000" y="1126.5" width="236.5" height="330.5" fill="url(#g37)"/><rect x="1370" y="1810" width="176" height="322.3000000000002" fill="url(#g46)"/><rect x="3000" y="1812.5" width="259" height="319.5" fill="url(#g59)"/></g><g filter="url(#fv)"><path d="M703,81 H1291 L1291.0,118.0 C1297.2,148.8 1337.8,157.5 1447.0,157.5 A4.5,4.5 0 0 1 1447.0,166.5 C1337.8,166.5 1297.2,175.2 1291.0,206.0 L1291.0,283.0 C1297.2,313.8 1337.8,322.5 1447.0,322.5 A4.5,4.5 0 0 1 1447.0,331.5 C1337.8,331.5 1297.2,340.2 1291.0,371.0 L1291,413 H703 Z" fill="url(#g1)"/><path d="M703,430.5 H1438 L1438,441 C1442,445.5 1453,444.75 1459,450.75 Q1464,456 1459,461.25 C1453,467.25 1442,466.5 1438,471 L1440,483 Q1442,504 1462,504 L1462,514 Q1442,514 1440,535 L1438,554.5 C1442,559.0 1453,558.25 1459,564.25 Q1464,569.5 1459,574.75 C1453,580.75 1442,580.0 1438,584.5 Q1443,595 1438,601 L1438,606 C1442,610.5 1453,609.75 1459,615.75 Q1464,621 1459,626.25 C1453,632.25 1442,631.5 1438,636 L1440,648 Q1442,669 1462,669 L1462,679 Q1442,679 1440,700 L1438,719 C1442,723.5 1453,722.75 1459,728.75 Q1464,734 1459,739.25 C1453,745.25 1442,744.5 1438,749 L1438,760 H703 Z" fill="url(#g2)"/><g clip-path="url(#c3)"><ellipse cx="1432" cy="509" rx="85" ry="34" fill="url(#g5)"/><ellipse cx="1432" cy="674" rx="85" ry="34" fill="url(#g6)"/></g><path d="M1455,504 L1603,506 L1603,512 L1455,514 Z" fill="url(#g4)"/><ellipse cx="1602.4" cy="509" rx="7.5" ry="6" fill="url(#g4)"/><path d="M1455,669 L1603,671 L1603,677 L1455,679 Z" fill="url(#g4)"/><ellipse cx="1602.4" cy="674" rx="7.5" ry="6" fill="url(#g4)"/><path d="M692,779.5 L1668,779.5 L1608,803.5 C1573,822.5 1561,836 1561,853 L1561,869 C1561,886 1573,899.5 1608,918.5 L1668,942.5 L1668,943.0 L1608,967.0 C1573,986.0 1561,1001 1561,1018 L1561,1034 C1561,1051 1573,1066.0 1608,1085.0 L1668,1109.0 L1668,1109 H692 Z" fill="url(#g7)"/><g clip-path="url(#c8)"><ellipse cx="1575" cy="859" rx="95" ry="48" fill="url(#g9)"/><ellipse cx="1575" cy="1024" rx="95" ry="48" fill="url(#g10)"/><ellipse cx="1640" cy="779" rx="100" ry="40" fill="url(#g11)"/><ellipse cx="1640" cy="943" rx="100" ry="40" fill="url(#g12)"/><ellipse cx="1640" cy="1109" rx="100" ry="40" fill="url(#g13)"/></g><path d="M1558,853 L1723.5,855 L1723.5,861 L1558,863 Z" fill="url(#g14)"/><ellipse cx="1722.75" cy="858" rx="9.375" ry="7.5" fill="url(#g14)"/><path d="M1558,1019 L1723.5,1021 L1723.5,1027 L1558,1029 Z" fill="url(#g14)"/><ellipse cx="1722.75" cy="1024" rx="9.375" ry="7.5" fill="url(#g14)"/><path d="M689,1124.5 L1878,1124.5 C1788,1135.5 1734,1151.5 1695,1170.5 C1680,1180.5 1676,1184 1676,1200 L1676,1212 C1676,1228 1680,1231.5 1695,1241.5 C1734,1260.5 1788,1276.5 1878,1287.5 L1878,1287.5 C1788,1298.5 1734,1314.5 1695,1333.5 C1680,1343.5 1676,1350 1676,1366 L1676,1378 C1676,1394 1680,1400.5 1695,1410.5 C1734,1429.5 1788,1445.5 1878,1456.5 L1878,1457 H689 Z" fill="url(#g15)"/><g clip-path="url(#c16)"><ellipse cx="1690" cy="1204" rx="110" ry="50" fill="url(#g17)"/><ellipse cx="1690" cy="1370" rx="110" ry="50" fill="url(#g18)"/><ellipse cx="1800" cy="1124" rx="170" ry="34" fill="url(#g19)"/><ellipse cx="1800" cy="1290" rx="170" ry="34" fill="url(#g20)"/><ellipse cx="1800" cy="1457" rx="170" ry="34" fill="url(#g21)"/></g><path d="M1672,1199.5 L1847,1201.5 L1847,1206.5 L1672,1208.5 Z" fill="url(#g22)"/><ellipse cx="1846.3" cy="1204" rx="8.75" ry="7" fill="url(#g22)"/><path d="M1672,1364.5 L1847,1366.5 L1847,1371.5 L1672,1373.5 Z" fill="url(#g22)"/><ellipse cx="1846.3" cy="1369" rx="8.75" ry="7" fill="url(#g22)"/><path d="M1964,80.5 H2571 L2571,112 Q2567,121 2558,125 L2558,125 C2576,141 2618,156 2716,159 A4,4 0 0 1 2716,167 C2618,170 2576,185 2558,201 Q2567,205 2571,214 L2571,278 Q2567,287 2558,291 L2558,291.5 C2576,307.5 2618,322.5 2716,325.5 A4,4 0 0 1 2716,333.5 C2618,336.5 2576,351.5 2558,367.5 Q2567,372 2571,380 L2571,411 H1964 Z" fill="url(#g24)"/><path d="M1960,430.5 H2642 L2642,475 Q2648,478 2648,481 C2662,493 2697,504.8 2840,507.8 A3.2,3.2 0 0 1 2840,514.2 C2697,517.2 2662,529 2648,541 Q2648,544 2642,547 L2642,641 Q2648,644 2648,647 C2662,659 2697,670.8 2840,673.8 A3.2,3.2 0 0 1 2840,680.2 C2697,683.2 2662,695 2648,707 Q2648,710 2642,713 L2642,759 H1960 Z" fill="url(#g27)"/><g clip-path="url(#c28)"><ellipse cx="2640" cy="511" rx="75" ry="36" fill="url(#g29)"/><ellipse cx="2640" cy="677" rx="75" ry="36" fill="url(#g30)"/></g><path d="M1957,780 H2898 L2898,790 Q2898,800 2870,803 C2856,807 2846,812 2842,822 L2842,869 L2842,900 C2848,909 2862,914 2870,927 Q2898,931 2898,942 L2898,948 Q2898,959 2870,963 C2862,971 2848,976 2842,985 L2842,1032 L2842,1065 C2846,1075 2856,1081 2870,1085 Q2898,1090 2898,1100 L2898,1108 H1957 Z" fill="url(#g32)"/><g clip-path="url(#c34)"><ellipse cx="2832" cy="862" rx="60" ry="42" fill="url(#g35)"/><ellipse cx="2832" cy="1025" rx="60" ry="42" fill="url(#g36)"/></g><path d="M2838,848 Q2846,858 2862,858.5 L3020,859.5 L3029,855.5 Q3038,855 3037,862 Q3036,867.5 3028,867 L3020,866 L2862,867.5 Q2846,868 2838,878 Z" fill="url(#g33)"/><path d="M2838,1011 Q2846,1021 2862,1021.5 L3020,1022.5 L3029,1018.5 Q3038,1018 3037,1025 Q3036,1030.5 3028,1030 L3020,1029 L2862,1030.5 Q2846,1031 2838,1041 Z" fill="url(#g33)"/><path d="M1953,1126.5 H3171 L3171,1128 C3125,1137 3085,1143 3058,1149 C3053,1160 3050,1168 3027,1185 Q3022,1190 3022,1195 L3022,1207 L3022,1215 L3022,1252 C3026,1262 3047,1268 3067,1273 C3102,1280 3122,1284 3172,1291 L3172,1293 C3122,1300 3082,1306 3060,1310 C3055,1322 3052,1330 3027,1342 Q3022,1346 3022,1350 L3022,1371.5 L3022,1379.5 L3022,1421 C3026,1431 3045,1436 3065,1441 C3100,1447 3130,1452 3171,1456 L3171,1457 H1953 Z" fill="url(#g38)"/><g clip-path="url(#c40)"><ellipse cx="3008" cy="1211" rx="70" ry="50" fill="url(#g41)"/><ellipse cx="3008" cy="1375" rx="70" ry="50" fill="url(#g42)"/></g><path d="M3018,1202 Q3024,1207.4 3036,1207.4 L3203,1208 Q3206,1204.5 3212,1204.5 Q3219,1205 3219,1211 Q3219,1217 3212,1217.5 Q3206,1217.5 3203,1214 L3036,1214.6 Q3024,1214.6 3018,1220 Z" fill="url(#g39)"/><path d="M3018,1366.5 Q3024,1371.9 3036,1371.9 L3203,1372.5 Q3206,1369.0 3212,1369.0 Q3219,1369.5 3219,1375.5 Q3219,1381.5 3212,1382.0 Q3206,1382.0 3203,1378.5 L3036,1379.1 Q3024,1379.1 3018,1384.5 Z" fill="url(#g39)"/></g><g filter="url(#fs)"><path d="M621,1807 H1516.1 L1514.8,1815.0 C1506.6,1817.2 1480.4,1825.2 1465.6,1828.3 C1450.7,1831.4 1436.7,1830.3 1425.6,1833.6 C1414.6,1836.9 1406.3,1842.0 1399.0,1848.2 C1391.7,1854.4 1385.5,1863.3 1381.7,1870.8 C1378.0,1878.4 1376.2,1885.9 1376.4,1893.4 C1376.6,1901.0 1379.3,1909.5 1383.1,1916.1 C1386.8,1922.6 1391.9,1927.9 1399.0,1932.8 C1406.1,1937.8 1414.6,1942.1 1425.6,1945.6 C1436.7,1949.1 1450.6,1950.3 1465.6,1953.6 C1480.5,1956.9 1507.2,1963.3 1515.6,1965.3 Q1520.1,1969.3 1515.6,1972.7 L1515.6,1972.7 C1509.5,1974.2 1493.8,1978.1 1478.9,1981.3 C1463.9,1984.4 1438.5,1987.9 1425.6,1991.9 C1412.8,1995.9 1408.8,1999.0 1401.7,2005.2 C1394.6,2011.4 1387.3,2020.7 1383.1,2029.2 C1378.9,2037.6 1376.4,2047.3 1376.4,2055.8 C1376.4,2064.2 1379.3,2073.1 1383.1,2079.7 C1386.8,2086.3 1391.9,2090.5 1399.0,2095.1 C1406.1,2099.8 1414.6,2104.1 1425.6,2107.6 C1436.7,2111.1 1450.7,2112.7 1465.6,2116.2 C1480.4,2119.6 1506.6,2126.1 1514.8,2128.1 L1516.1,2132.3 H621 Z" fill="url(#g47)"/><g clip-path="url(#c48)"><path d="M1262,1700 L875,1654.4 L942,1735.7 L875,1816.7 L942,1897.9 L875,1979.0 L942,2060.0 L875,2141.0 L942,2222.0 L1262,2222 Z" fill="#4a4a4a"/><g fill="url(#g49)"><g id="p6"><ellipse cx="1103" cy="1839" rx="27" ry="17"/><ellipse cx="1063" cy="1915" rx="10" ry="15"/><ellipse cx="1001" cy="1919" rx="16" ry="10"/><ellipse cx="925" cy="1838" rx="13" ry="10"/><ellipse cx="1028" cy="1884" rx="15" ry="13"/><ellipse cx="1041" cy="1841" rx="13" ry="17"/><ellipse cx="939" cy="1941" rx="20" ry="17"/><ellipse cx="1209" cy="1871" rx="14" ry="15"/><ellipse cx="1042" cy="1916" rx="10" ry="10"/><ellipse cx="1087" cy="1863" rx="12" ry="9"/><ellipse cx="903" cy="1899" rx="9" ry="16"/><ellipse cx="963" cy="1818" rx="13" ry="11"/><ellipse cx="1155" cy="1866" rx="18" ry="18"/><ellipse cx="1074" cy="1949" rx="17" ry="11"/><ellipse cx="1142" cy="1918" rx="8" ry="13"/><ellipse cx="911" cy="1863" rx="26" ry="17"/><ellipse cx="1194" cy="1826" rx="22" ry="16"/><ellipse cx="1183" cy="1936" rx="9" ry="14"/><ellipse cx="1177" cy="1927" rx="20" ry="21"/><ellipse cx="1211" cy="1830" rx="26" ry="17"/><ellipse cx="1018" cy="1818" rx="18" ry="15"/><ellipse cx="1023" cy="1816" rx="16" ry="11"/><ellipse cx="932" cy="1959" rx="11" ry="16"/><ellipse cx="939" cy="1966" rx="19" ry="23"/><ellipse cx="933" cy="1913" rx="15" ry="29"/><ellipse cx="1122" cy="1946" rx="16" ry="15"/><ellipse cx="1181" cy="1846" rx="15" ry="12"/><ellipse cx="1093" cy="1894" rx="18" ry="11"/><ellipse cx="1001" cy="1917" rx="19" ry="22"/><ellipse cx="919" cy="1843" rx="9" ry="14"/><ellipse cx="942" cy="1863" rx="14" ry="15"/><ellipse cx="1133" cy="1917" rx="17" ry="20"/><ellipse cx="1132" cy="1896" rx="12" ry="11"/><ellipse cx="1011" cy="1917" rx="16" ry="22"/><ellipse cx="1052" cy="1881" rx="10" ry="19"/><ellipse cx="917" cy="1968" rx="18" ry="20"/><ellipse cx="1133" cy="1851" rx="24" ry="15"/><ellipse cx="1171" cy="1882" rx="27" ry="17"/><ellipse cx="920" cy="1874" rx="13" ry="18"/><ellipse cx="1116" cy="1830" rx="23" ry="16"/><ellipse cx="922" cy="1919" rx="14" ry="12"/><ellipse cx="1142" cy="1966" rx="18" ry="22"/></g><use href="#p6" y="-162.3"/><use href="#p6" y="162.3"/><use href="#p6" y="324.6"/></g><g fill="url(#g50)"><g id="p7"><ellipse cx="904" cy="1907" rx="5" ry="4"/><ellipse cx="961" cy="1869" rx="7" ry="7"/><ellipse cx="890" cy="1893" rx="7" ry="7"/><ellipse cx="995" cy="1926" rx="5" ry="7"/><ellipse cx="901" cy="1938" rx="8" ry="7"/><ellipse cx="940" cy="1888" rx="5" ry="5"/><ellipse cx="903" cy="1908" rx="8" ry="6"/><ellipse cx="916" cy="1822" rx="6" ry="5"/><ellipse cx="949" cy="1928" rx="6" ry="7"/><ellipse cx="998" cy="1834" rx="5" ry="5"/><ellipse cx="964" cy="1877" rx="7" ry="7"/><ellipse cx="969" cy="1951" rx="9" ry="7"/><ellipse cx="944" cy="1961" rx="7" ry="6"/><ellipse cx="994" cy="1918" rx="7" ry="5"/><ellipse cx="960" cy="1956" rx="7" ry="7"/><ellipse cx="1007" cy="1893" rx="8" ry="5"/><ellipse cx="1003" cy="1835" rx="5" ry="4"/><ellipse cx="995" cy="1869" rx="6" ry="5"/></g><use href="#p7" y="-162.3"/><use href="#p7" y="162.3"/><use href="#p7" y="324.6"/></g><g fill="url(#g51)"><g id="p8"><ellipse cx="1259" cy="1864" rx="25" ry="16"/><ellipse cx="1247" cy="1932" rx="12" ry="19"/><ellipse cx="1248" cy="1929" rx="15" ry="12"/><ellipse cx="1248" cy="1834" rx="15" ry="17"/><ellipse cx="1250" cy="1950" rx="18" ry="25"/><ellipse cx="1262" cy="1906" rx="26" ry="18"/><ellipse cx="1252" cy="1848" rx="28" ry="16"/><ellipse cx="1254" cy="1826" rx="23" ry="17"/><ellipse cx="1259" cy="1965" rx="25" ry="19"/></g><use href="#p8" y="-162.3"/><use href="#p8" y="162.3"/><use href="#p8" y="324.6"/></g><g fill="url(#g52)"><g id="p9"><ellipse cx="1339" cy="1881" rx="11" ry="8"/><ellipse cx="1285" cy="1820" rx="7" ry="11"/><ellipse cx="1297" cy="1951" rx="8" ry="13"/><ellipse cx="1276" cy="1843" rx="7" ry="14"/><ellipse cx="1286" cy="1824" rx="6" ry="6"/><ellipse cx="1283" cy="1873" rx="11" ry="8"/><ellipse cx="1299" cy="1935" rx="10" ry="7"/><ellipse cx="1287" cy="1867" rx="11" ry="7"/><ellipse cx="1313" cy="1884" rx="6" ry="7"/><ellipse cx="1285" cy="1967" rx="13" ry="8"/><ellipse cx="1307" cy="1922" rx="7" ry="7"/><ellipse cx="1280" cy="1875" rx="5" ry="9"/></g><use href="#p9" y="-162.3"/><use href="#p9" y="162.3"/><use href="#p9" y="324.6"/></g><path d="M619,1807 h14 V2132.3 h-14 Z M621,1807 H1520 v5 H621Z" fill="#0d0d0d"/></g><path d="M621,2132.3 H1496.4 Q1499.4,2143.3 1491.7,2148.6 L1491.7,2148.6 C1484.7,2149.5 1464.5,2151.1 1449.8,2154.1 C1435.1,2157.1 1414.6,2160.9 1403.2,2166.6 C1391.9,2172.3 1386.7,2179.5 1381.5,2188.3 C1376.3,2197.1 1372.7,2209.0 1372.2,2219.3 C1371.7,2229.7 1373.7,2241.6 1378.4,2250.4 C1383.1,2259.2 1388.2,2266.7 1400.1,2272.1 C1412.0,2277.5 1434.3,2278.9 1449.8,2283.0 C1465.3,2287.0 1486.0,2294.1 1493.3,2296.3 Q1502.4,2303.8 1493.3,2310.0 L1493.3,2310.0 C1486.0,2311.0 1464.8,2313.1 1449.8,2316.2 C1434.8,2319.3 1414.6,2322.9 1403.2,2328.6 C1391.9,2334.3 1386.7,2341.5 1381.5,2350.3 C1376.3,2359.1 1372.7,2371.0 1372.2,2381.4 C1371.7,2391.7 1373.7,2403.6 1378.4,2412.4 C1383.1,2421.2 1388.2,2428.7 1400.1,2434.1 C1412.0,2439.6 1434.5,2441.2 1449.8,2445.0 C1465.1,2448.8 1484.7,2454.8 1491.7,2456.8 L1491.7,2456.5 H621 Z" fill="url(#g53)"/><g clip-path="url(#c54)"><path d="M1245,2100 L905,1939.5 L893,2020.7 L905,2101.8 L893,2183.0 L905,2264.2 L893,2345.4 L905,2426.5 L893,2507.7 L905,2588.9 L893,2670.1 L1245,2500 Z" fill="#4a4a4a"/><g fill="url(#g55)"><g id="p15"><ellipse cx="1179" cy="2167" rx="19" ry="19"/><ellipse cx="1039" cy="2232" rx="9" ry="13"/><ellipse cx="1047" cy="2170" rx="16" ry="17"/><ellipse cx="1035" cy="2177" rx="13" ry="10"/><ellipse cx="1203" cy="2189" rx="16" ry="20"/><ellipse cx="1157" cy="2171" rx="14" ry="16"/><ellipse cx="1193" cy="2256" rx="8" ry="13"/><ellipse cx="1060" cy="2167" rx="15" ry="9"/><ellipse cx="1216" cy="2135" rx="10" ry="9"/><ellipse cx="1218" cy="2276" rx="19" ry="15"/><ellipse cx="1067" cy="2212" rx="14" ry="24"/><ellipse cx="1132" cy="2249" rx="12" ry="9"/><ellipse cx="965" cy="2289" rx="17" ry="18"/><ellipse cx="1100" cy="2290" rx="11" ry="16"/><ellipse cx="1134" cy="2279" rx="12" ry="9"/><ellipse cx="1036" cy="2244" rx="18" ry="11"/><ellipse cx="1097" cy="2289" rx="15" ry="25"/><ellipse cx="1215" cy="2255" rx="11" ry="10"/><ellipse cx="998" cy="2140" rx="9" ry="10"/><ellipse cx="1194" cy="2144" rx="19" ry="13"/><ellipse cx="1028" cy="2249" rx="18" ry="13"/><ellipse cx="1067" cy="2292" rx="11" ry="16"/><ellipse cx="949" cy="2174" rx="13" ry="8"/><ellipse cx="953" cy="2269" rx="17" ry="18"/><ellipse cx="927" cy="2165" rx="18" ry="20"/><ellipse cx="1164" cy="2153" rx="9" ry="10"/><ellipse cx="1024" cy="2166" rx="17" ry="15"/><ellipse cx="1092" cy="2184" rx="12" ry="16"/><ellipse cx="1090" cy="2195" rx="21" ry="13"/><ellipse cx="1015" cy="2228" rx="12" ry="8"/><ellipse cx="1083" cy="2229" rx="12" ry="20"/><ellipse cx="1195" cy="2134" rx="11" ry="11"/><ellipse cx="1210" cy="2246" rx="17" ry="21"/><ellipse cx="1089" cy="2230" rx="9" ry="15"/><ellipse cx="1021" cy="2146" rx="7" ry="11"/><ellipse cx="1190" cy="2232" rx="18" ry="17"/><ellipse cx="1067" cy="2277" rx="11" ry="15"/><ellipse cx="1004" cy="2144" rx="8" ry="11"/><ellipse cx="1116" cy="2164" rx="12" ry="16"/><ellipse cx="1154" cy="2171" rx="16" ry="12"/></g><use href="#p15" y="-162.3"/><use href="#p15" y="162.3"/><use href="#p15" y="324.6"/></g><g fill="url(#g56)"><g id="p16"><ellipse cx="958" cy="2240" rx="8" ry="6"/><ellipse cx="1008" cy="2254" rx="4" ry="6"/><ellipse cx="955" cy="2196" rx="10" ry="8"/><ellipse cx="956" cy="2189" rx="5" ry="5"/><ellipse cx="1011" cy="2159" rx="6" ry="7"/><ellipse cx="973" cy="2174" rx="5" ry="4"/><ellipse cx="937" cy="2237" rx="9" ry="8"/><ellipse cx="1009" cy="2263" rx="4" ry="5"/><ellipse cx="979" cy="2210" rx="5" ry="3"/><ellipse cx="978" cy="2203" rx="5" ry="8"/><ellipse cx="966" cy="2155" rx="9" ry="6"/><ellipse cx="926" cy="2175" rx="8" ry="6"/><ellipse cx="920" cy="2196" rx="6" ry="9"/><ellipse cx="908" cy="2254" rx="7" ry="7"/><ellipse cx="965" cy="2149" rx="6" ry="6"/><ellipse cx="962" cy="2159" rx="4" ry="4"/><ellipse cx="983" cy="2241" rx="8" ry="9"/><ellipse cx="947" cy="2186" rx="7" ry="6"/><ellipse cx="1004" cy="2147" rx="8" ry="6"/><ellipse cx="990" cy="2202" rx="4" ry="5"/></g><use href="#p16" y="-162.3"/><use href="#p16" y="162.3"/><use href="#p16" y="324.6"/></g><g fill="url(#g57)"><g id="p17"><ellipse cx="1247" cy="2164" rx="10" ry="17"/><ellipse cx="1244" cy="2272" rx="24" ry="20"/><ellipse cx="1241" cy="2244" rx="17" ry="16"/><ellipse cx="1229" cy="2139" rx="24" ry="18"/><ellipse cx="1249" cy="2252" rx="14" ry="22"/><ellipse cx="1247" cy="2218" rx="24" ry="18"/><ellipse cx="1245" cy="2235" rx="19" ry="21"/><ellipse cx="1243" cy="2218" rx="23" ry="14"/><ellipse cx="1247" cy="2248" rx="15" ry="21"/></g><use href="#p17" y="-162.3"/><use href="#p17" y="162.3"/><use href="#p17" y="324.6"/></g><g fill="url(#g58)"><g id="p18"><ellipse cx="1258" cy="2273" rx="7" ry="14"/><ellipse cx="1302" cy="2171" rx="14" ry="9"/><ellipse cx="1281" cy="2229" rx="7" ry="10"/><ellipse cx="1292" cy="2196" rx="11" ry="7"/><ellipse cx="1317" cy="2139" rx="10" ry="6"/><ellipse cx="1320" cy="2231" rx="11" ry="9"/><ellipse cx="1269" cy="2198" rx="6" ry="9"/><ellipse cx="1314" cy="2138" rx="7" ry="6"/><ellipse cx="1331" cy="2181" rx="13" ry="9"/><ellipse cx="1268" cy="2281" rx="6" ry="6"/><ellipse cx="1262" cy="2148" rx="12" ry="8"/><ellipse cx="1265" cy="2185" rx="10" ry="9"/><ellipse cx="1267" cy="2245" rx="7" ry="5"/></g><use href="#p18" y="-162.3"/><use href="#p18" y="162.3"/><use href="#p18" y="324.6"/></g><path d="M619,2132.3 h14 V2456.5 h-14 Z M621,2452.5 H1520 v4 H621Z" fill="#0d0d0d"/></g><path d="M2152,1808.5 H3230.5 L3227.4,1813.6 C3214.5,1815.2 3173.1,1819.8 3149.8,1822.9 C3126.5,1826.0 3104.3,1828.1 3087.7,1832.3 C3071.2,1836.4 3060.6,1841.6 3050.5,1847.8 C3040.4,1854.0 3032.3,1863.3 3027.2,1869.5 C3022.1,1875.7 3021.2,1882.4 3020.0,1885.0 L3019.5,1886.2 Q3024,1888.2 3040,1888.4 L3089,1888.0 A9.5,9.5 0 1 1 3089,1894.4 L3040,1894.0 Q3024,1894.2 3019.5,1896.2 L3020.0,1897.4 C3021.0,1901.1 3021.6,1912.4 3025.6,1919.2 C3029.7,1925.9 3036.0,1932.6 3044.3,1937.8 C3052.5,1943.0 3057.7,1947.0 3075.3,1950.2 C3092.9,1953.5 3127.0,1955.6 3149.8,1957.3 C3172.6,1959.1 3201.5,1959.9 3211.9,1960.5 Q3236.5,1959.7 3234.5,1965.7 Q3236.5,1973.7 3211.9,1975.0 L3227.4,1975.7 C3214.5,1977.2 3173.1,1981.9 3149.8,1985.0 C3126.5,1988.1 3104.3,1990.2 3087.7,1994.3 C3071.2,1998.4 3060.6,2003.6 3050.5,2009.8 C3040.4,2016.0 3032.3,2025.3 3027.2,2031.5 C3022.1,2037.7 3021.2,2044.5 3020.0,2047.1 L3019.5,2048.3 Q3024,2050.3 3040,2050.5 L3089,2050.1 A9.5,9.5 0 1 1 3089,2056.5 L3040,2056.1 Q3024,2056.3 3019.5,2058.3 L3020.0,2059.5 C3021.0,2063.1 3021.6,2074.5 3025.6,2081.2 C3029.7,2087.9 3036.0,2094.7 3044.3,2099.8 C3052.5,2105.0 3057.7,2109.0 3075.3,2112.2 C3092.9,2115.5 3127.0,2117.7 3149.8,2119.4 C3172.6,2121.1 3201.5,2122.0 3211.9,2122.5 L3230.5,2132 H2152 Z" fill="url(#g60)"/><g clip-path="url(#c61)"><g fill="url(#g62)"><g id="p21"><ellipse cx="2559" cy="1861" rx="7" ry="9"/><ellipse cx="2854" cy="1921" rx="15" ry="11"/><ellipse cx="2724" cy="1949" rx="11" ry="18"/><ellipse cx="2774" cy="1886" rx="11" ry="16"/><ellipse cx="2829" cy="1839" rx="9" ry="13"/><ellipse cx="2645" cy="1838" rx="17" ry="14"/><ellipse cx="2543" cy="1902" rx="10" ry="8"/><ellipse cx="2705" cy="1896" rx="18" ry="13"/><ellipse cx="2824" cy="1856" rx="9" ry="9"/><ellipse cx="2760" cy="1953" rx="14" ry="21"/><ellipse cx="2707" cy="1924" rx="16" ry="10"/><ellipse cx="2536" cy="1876" rx="21" ry="13"/><ellipse cx="2748" cy="1849" rx="12" ry="16"/><ellipse cx="2830" cy="1864" rx="10" ry="9"/><ellipse cx="2862" cy="1888" rx="15" ry="13"/><ellipse cx="2755" cy="1809" rx="14" ry="10"/><ellipse cx="2750" cy="1936" rx="13" ry="24"/><ellipse cx="2843" cy="1888" rx="7" ry="10"/><ellipse cx="2742" cy="1883" rx="15" ry="18"/><ellipse cx="2869" cy="1875" rx="22" ry="14"/><ellipse cx="2600" cy="1941" rx="8" ry="10"/><ellipse cx="2911" cy="1879" rx="6" ry="12"/><ellipse cx="2954" cy="1948" rx="16" ry="20"/><ellipse cx="2661" cy="1920" rx="9" ry="8"/><ellipse cx="2596" cy="1839" rx="13" ry="18"/><ellipse cx="2955" cy="1917" rx="15" ry="13"/><ellipse cx="2633" cy="1964" rx="10" ry="7"/><ellipse cx="2759" cy="1906" rx="13" ry="14"/><ellipse cx="2601" cy="1866" rx="13" ry="16"/><ellipse cx="2872" cy="1921" rx="6" ry="11"/><ellipse cx="2894" cy="1895" rx="9" ry="9"/><ellipse cx="2766" cy="1923" rx="16" ry="10"/><ellipse cx="2536" cy="1952" rx="14" ry="16"/><ellipse cx="2574" cy="1832" rx="17" ry="14"/><ellipse cx="2758" cy="1822" rx="9" ry="9"/><ellipse cx="2576" cy="1856" rx="7" ry="10"/><ellipse cx="2767" cy="1939" rx="7" ry="9"/><ellipse cx="2673" cy="1844" rx="8" ry="17"/><ellipse cx="2611" cy="1851" rx="15" ry="19"/><ellipse cx="2827" cy="1932" rx="14" ry="16"/><ellipse cx="2665" cy="1894" rx="10" ry="13"/><ellipse cx="2690" cy="1818" rx="13" ry="15"/><ellipse cx="2556" cy="1863" rx="9" ry="9"/><ellipse cx="2767" cy="1966" rx="10" ry="9"/><ellipse cx="2870" cy="1848" rx="13" ry="12"/><ellipse cx="2578" cy="1881" rx="21" ry="14"/><ellipse cx="2921" cy="1811" rx="17" ry="13"/><ellipse cx="2665" cy="1847" rx="13" ry="16"/><ellipse cx="2923" cy="1860" rx="19" ry="15"/><ellipse cx="2696" cy="1924" rx="19" ry="15"/><ellipse cx="2651" cy="1827" rx="16" ry="12"/><ellipse cx="2793" cy="1847" rx="16" ry="13"/><ellipse cx="2698" cy="1921" rx="19" ry="12"/><ellipse cx="2538" cy="1963" rx="12" ry="20"/><ellipse cx="2601" cy="1869" rx="15" ry="13"/><ellipse cx="2709" cy="1948" rx="14" ry="13"/><ellipse cx="2832" cy="1945" rx="7" ry="13"/><ellipse cx="2732" cy="1943" rx="17" ry="17"/><ellipse cx="2594" cy="1912" rx="19" ry="14"/><ellipse cx="2606" cy="1816" rx="11" ry="15"/></g><use href="#p21" y="-162.2"/><use href="#p21" y="162.2"/><use href="#p21" y="324.4"/></g><g fill="url(#g63)"><g id="p22"><ellipse cx="2462" cy="1913" rx="8" ry="12"/><ellipse cx="2448" cy="1966" rx="12" ry="8"/><ellipse cx="2346" cy="1894" rx="8" ry="8"/><ellipse cx="2438" cy="1947" rx="13" ry="9"/><ellipse cx="2392" cy="1829" rx="12" ry="9"/><ellipse cx="2453" cy="1814" rx="7" ry="10"/><ellipse cx="2415" cy="1948" rx="6" ry="12"/><ellipse cx="2484" cy="1949" rx="9" ry="17"/><ellipse cx="2382" cy="1837" rx="10" ry="17"/><ellipse cx="2360" cy="1844" rx="10" ry="15"/><ellipse cx="2497" cy="1858" rx="9" ry="14"/><ellipse cx="2387" cy="1949" rx="12" ry="17"/><ellipse cx="2396" cy="1818" rx="8" ry="9"/><ellipse cx="2423" cy="1901" rx="8" ry="12"/><ellipse cx="2429" cy="1865" rx="12" ry="7"/><ellipse cx="2434" cy="1811" rx="18" ry="11"/></g><use href="#p22" y="-162.2"/><use href="#p22" y="162.2"/><use href="#p22" y="324.4"/></g></g><path d="M2152,2132 H3215.3 L3215.3,2139.4 C3199.8,2140.5 3146.0,2143.9 3122.2,2146.1 C3098.4,2148.2 3084.9,2149.6 3072.5,2152.3 C3060.1,2155.0 3056.0,2156.8 3047.7,2162.2 C3039.4,2167.6 3029.3,2177.5 3022.8,2184.6 C3016.4,2191.6 3011.5,2201.1 3009.2,2204.4 L3008,2208.6 Q3012,2210.5 3026,2210.6 L3047,2210.1 A10.3,10.3 0 1 1 3047,2216.1 L3026,2215.6 Q3012,2215.7 3008,2217.6 L3009.2,2221.8 C3011.5,2225.5 3016.4,2236.7 3022.8,2244.2 C3029.3,2251.6 3039.4,2261.1 3047.7,2266.5 C3056.0,2271.9 3060.1,2273.6 3072.5,2276.5 C3084.9,2279.4 3098.4,2281.8 3122.2,2283.9 C3146.0,2286.1 3199.8,2288.5 3215.3,2289.4 Q3220.3,2295.1 3215.3,2301.1 L3215.3,2301.3 C3199.8,2302.4 3146.0,2305.8 3122.2,2308.0 C3098.4,2310.1 3084.9,2311.5 3072.5,2314.2 C3060.1,2316.9 3056.0,2318.8 3047.7,2324.1 C3039.4,2329.5 3029.3,2339.4 3022.8,2346.5 C3016.4,2353.5 3011.5,2363.0 3009.2,2366.4 L3008,2370.5 Q3012,2372.4 3026,2372.5 L3047,2372.0 A10.3,10.3 0 1 1 3047,2378.0 L3026,2377.5 Q3012,2377.6 3008,2379.5 L3009.2,2383.7 C3011.5,2387.5 3016.4,2398.6 3022.8,2406.1 C3029.3,2413.5 3039.4,2423.1 3047.7,2428.4 C3056.0,2433.8 3060.1,2435.5 3072.5,2438.4 C3084.9,2441.3 3098.4,2443.7 3122.2,2445.8 C3146.0,2448.0 3199.8,2450.4 3215.3,2451.3 L3215.3,2456.5 H2152 Z" fill="url(#g64)"/><g clip-path="url(#c65)"><g fill="url(#g66)"><g id="p29"><ellipse cx="2790" cy="2252" rx="10" ry="7"/><ellipse cx="2821" cy="2238" rx="15" ry="18"/><ellipse cx="2898" cy="2242" rx="10" ry="8"/><ellipse cx="2804" cy="2265" rx="18" ry="15"/><ellipse cx="2810" cy="2283" rx="8" ry="12"/><ellipse cx="2831" cy="2241" rx="20" ry="16"/><ellipse cx="2778" cy="2278" rx="8" ry="11"/><ellipse cx="2980" cy="2248" rx="15" ry="14"/><ellipse cx="2559" cy="2194" rx="9" ry="12"/><ellipse cx="2748" cy="2149" rx="13" ry="21"/><ellipse cx="2531" cy="2215" rx="9" ry="13"/><ellipse cx="2864" cy="2235" rx="21" ry="13"/><ellipse cx="2656" cy="2219" rx="10" ry="13"/><ellipse cx="2654" cy="2189" rx="14" ry="11"/><ellipse cx="2979" cy="2275" rx="7" ry="10"/><ellipse cx="2955" cy="2282" rx="11" ry="16"/><ellipse cx="2561" cy="2137" rx="20" ry="15"/><ellipse cx="2792" cy="2234" rx="12" ry="11"/><ellipse cx="2629" cy="2249" rx="15" ry="13"/><ellipse cx="2587" cy="2139" rx="9" ry="7"/><ellipse cx="2955" cy="2237" rx="14" ry="16"/><ellipse cx="2751" cy="2167" rx="12" ry="23"/><ellipse cx="2893" cy="2276" rx="11" ry="9"/><ellipse cx="2733" cy="2269" rx="10" ry="10"/><ellipse cx="2769" cy="2187" rx="10" ry="14"/><ellipse cx="2784" cy="2234" rx="11" ry="19"/><ellipse cx="2957" cy="2239" rx="15" ry="10"/><ellipse cx="2969" cy="2150" rx="10" ry="16"/><ellipse cx="2879" cy="2230" rx="10" ry="9"/><ellipse cx="2929" cy="2227" rx="9" ry="15"/><ellipse cx="2544" cy="2190" rx="15" ry="18"/><ellipse cx="2580" cy="2146" rx="23" ry="14"/><ellipse cx="2560" cy="2253" rx="10" ry="7"/><ellipse cx="2744" cy="2207" rx="18" ry="15"/><ellipse cx="2799" cy="2210" rx="19" ry="14"/><ellipse cx="2815" cy="2140" rx="16" ry="10"/><ellipse cx="2714" cy="2140" rx="17" ry="13"/><ellipse cx="2759" cy="2223" rx="11" ry="7"/><ellipse cx="2737" cy="2133" rx="10" ry="6"/><ellipse cx="2624" cy="2285" rx="15" ry="12"/><ellipse cx="2558" cy="2259" rx="15" ry="13"/><ellipse cx="2695" cy="2173" rx="15" ry="16"/><ellipse cx="2874" cy="2247" rx="9" ry="16"/><ellipse cx="2667" cy="2173" rx="12" ry="8"/><ellipse cx="2716" cy="2212" rx="8" ry="8"/><ellipse cx="2684" cy="2246" rx="17" ry="14"/><ellipse cx="2873" cy="2288" rx="9" ry="15"/><ellipse cx="2651" cy="2177" rx="13" ry="21"/><ellipse cx="2823" cy="2275" rx="15" ry="12"/><ellipse cx="2558" cy="2268" rx="14" ry="24"/><ellipse cx="2632" cy="2231" rx="9" ry="14"/><ellipse cx="2618" cy="2244" rx="15" ry="12"/><ellipse cx="2616" cy="2233" rx="13" ry="13"/><ellipse cx="2923" cy="2195" rx="9" ry="14"/><ellipse cx="2732" cy="2242" rx="14" ry="11"/><ellipse cx="2533" cy="2237" rx="16" ry="17"/></g><use href="#p29" y="-162.2"/><use href="#p29" y="162.2"/><use href="#p29" y="324.4"/></g><g fill="url(#g67)"><g id="p30"><ellipse cx="2403" cy="2291" rx="9" ry="16"/><ellipse cx="2429" cy="2157" rx="9" ry="6"/><ellipse cx="2498" cy="2217" rx="9" ry="15"/><ellipse cx="2354" cy="2179" rx="9" ry="6"/><ellipse cx="2366" cy="2208" rx="6" ry="9"/><ellipse cx="2395" cy="2215" rx="9" ry="9"/><ellipse cx="2437" cy="2158" rx="8" ry="14"/><ellipse cx="2445" cy="2264" rx="17" ry="11"/><ellipse cx="2434" cy="2285" rx="13" ry="11"/><ellipse cx="2349" cy="2139" rx="11" ry="7"/><ellipse cx="2484" cy="2265" rx="8" ry="13"/><ellipse cx="2400" cy="2284" rx="11" ry="7"/><ellipse cx="2438" cy="2220" rx="8" ry="10"/><ellipse cx="2380" cy="2264" rx="7" ry="8"/><ellipse cx="2445" cy="2176" rx="11" ry="6"/><ellipse cx="2389" cy="2292" rx="12" ry="10"/></g><use href="#p30" y="-162.2"/><use href="#p30" y="162.2"/><use href="#p30" y="324.4"/></g></g></g>
<rect x="703.5" y="431" width="1043" height="329" fill="none" stroke="#e9e9e9" stroke-width="1.5"/>
<g clip-path="url(#c8)" fill="#fff"><g id="p1"><ellipse cx="837" cy="872" rx="8.9" ry="7.2" transform="rotate(154 837 872)"/><circle cx="759" cy="912" r="4.0"/><ellipse cx="730" cy="913" rx="3.4" ry="2.6" transform="rotate(71 730 913)"/><ellipse cx="838" cy="901" rx="3.6" ry="2.5" transform="rotate(11 838 901)"/><ellipse cx="714" cy="925" rx="8.7" ry="7.4" transform="rotate(106 714 925)"/><ellipse cx="761" cy="818" rx="3.5" ry="2.6" transform="rotate(82 761 818)"/><ellipse cx="786" cy="944" rx="4.1" ry="3.0" transform="rotate(57 786 944)"/><ellipse cx="771" cy="827" rx="3.9" ry="3.2" transform="rotate(152 771 827)"/><circle cx="818" cy="938" r="3.0"/><circle cx="719" cy="841" r="7.0"/><circle cx="934" cy="824" r="6.0"/><ellipse cx="759" cy="863" rx="4.4" ry="3.6" transform="rotate(69 759 863)"/><circle cx="999" cy="783" r="3.5"/><ellipse cx="834" cy="781" rx="5.5" ry="4.6" transform="rotate(13 834 781)"/><ellipse cx="765" cy="885" rx="6.6" ry="5.5" transform="rotate(82 765 885)"/><ellipse cx="960" cy="810" rx="5.4" ry="3.7" transform="rotate(45 960 810)"/><ellipse cx="907" cy="844" rx="3.9" ry="3.2" transform="rotate(19 907 844)"/><ellipse cx="779" cy="915" rx="5.7" ry="4.4" transform="rotate(167 779 915)"/><ellipse cx="897" cy="881" rx="5.5" ry="3.7" transform="rotate(37 897 881)"/><circle cx="708" cy="824" r="3.0"/><ellipse cx="861" cy="940" rx="4.9" ry="3.3" transform="rotate(176 861 940)"/><ellipse cx="878" cy="932" rx="7.1" ry="5.1" transform="rotate(173 878 932)"/><ellipse cx="709" cy="884" rx="5.4" ry="4.6" transform="rotate(180 709 884)"/><ellipse cx="725" cy="870" rx="4.8" ry="3.3" transform="rotate(165 725 870)"/><ellipse cx="807" cy="893" rx="8.7" ry="5.7" transform="rotate(5 807 893)"/><ellipse cx="876" cy="880" rx="4.4" ry="2.8" transform="rotate(158 876 880)"/><circle cx="834" cy="918" r="9.0"/><ellipse cx="846" cy="817" rx="9.6" ry="6.7" transform="rotate(119 846 817)"/><ellipse cx="904" cy="813" rx="7.0" ry="5.2" transform="rotate(80 904 813)"/><ellipse cx="762" cy="851" rx="5.5" ry="3.7" transform="rotate(69 762 851)"/><ellipse cx="876" cy="832" rx="8.7" ry="7.4" transform="rotate(161 876 832)"/><circle cx="715" cy="790" r="4.0"/><ellipse cx="857" cy="890" rx="8.6" ry="7.4" transform="rotate(149 857 890)"/><ellipse cx="786" cy="880" rx="5.7" ry="4.4" transform="rotate(56 786 880)"/><ellipse cx="938" cy="783" rx="8.4" ry="7.6" transform="rotate(138 938 783)"/><ellipse cx="988" cy="892" rx="8.5" ry="7.5" transform="rotate(129 988 892)"/><circle cx="927" cy="868" r="4.5"/><ellipse cx="910" cy="865" rx="4.4" ry="3.6" transform="rotate(143 910 865)"/><circle cx="918" cy="801" r="3.0"/><ellipse cx="766" cy="928" rx="5.7" ry="4.4" transform="rotate(142 766 928)"/><ellipse cx="798" cy="930" rx="6.8" ry="5.3" transform="rotate(7 798 930)"/><circle cx="805" cy="849" r="3.0"/><ellipse cx="952" cy="893" rx="9.2" ry="7.0" transform="rotate(124 952 893)"/><ellipse cx="793" cy="803" rx="5.7" ry="4.4" transform="rotate(36 793 803)"/><ellipse cx="862" cy="863" rx="3.4" ry="2.6" transform="rotate(8 862 863)"/><ellipse cx="739" cy="795" rx="10.0" ry="8.1" transform="rotate(166 739 795)"/><circle cx="941" cy="846" r="8.0"/><circle cx="945" cy="928" r="6.0"/><ellipse cx="714" cy="805" rx="5.4" ry="4.6" transform="rotate(64 714 805)"/><ellipse cx="887" cy="797" rx="4.2" ry="2.9" transform="rotate(112 887 797)"/><circle cx="916" cy="895" r="3.0"/><circle cx="893" cy="867" r="4.0"/><ellipse cx="761" cy="795" rx="4.7" ry="3.4" transform="rotate(47 761 795)"/><circle cx="972" cy="859" r="3.5"/><circle cx="997" cy="932" r="3.0"/><ellipse cx="856" cy="850" rx="3.5" ry="2.6" transform="rotate(7 856 850)"/><ellipse cx="823" cy="812" rx="10.8" ry="7.5" transform="rotate(58 823 812)"/><ellipse cx="872" cy="811" rx="7.2" ry="5.0" transform="rotate(46 872 811)"/><ellipse cx="929" cy="886" rx="5.3" ry="4.7" transform="rotate(163 929 886)"/><circle cx="892" cy="913" r="3.0"/><ellipse cx="787" cy="845" rx="9.6" ry="8.4" transform="rotate(118 787 845)"/><ellipse cx="711" cy="907" rx="4.4" ry="3.6" transform="rotate(123 711 907)"/><ellipse cx="737" cy="883" rx="5.5" ry="3.7" transform="rotate(64 737 883)"/><ellipse cx="749" cy="839" rx="7.8" ry="6.3" transform="rotate(47 749 839)"/><circle cx="945" cy="802" r="4.0"/><ellipse cx="810" cy="824" rx="5.2" ry="3.9" transform="rotate(136 810 824)"/><ellipse cx="964" cy="786" rx="5.3" ry="4.7" transform="rotate(5 964 786)"/><ellipse cx="847" cy="838" rx="9.5" ry="6.7" transform="rotate(151 847 838)"/><ellipse cx="789" cy="905" rx="4.4" ry="3.6" transform="rotate(66 789 905)"/><ellipse cx="732" cy="924" rx="3.9" ry="3.2" transform="rotate(102 732 924)"/><ellipse cx="726" cy="815" rx="4.1" ry="3.0" transform="rotate(89 726 815)"/><circle cx="940" cy="869" r="4.0"/><circle cx="922" cy="928" r="4.0"/><ellipse cx="914" cy="912" rx="8.6" ry="5.7" transform="rotate(44 914 912)"/><circle cx="708" cy="859" r="6.0"/><ellipse cx="770" cy="810" rx="4.9" ry="3.3" transform="rotate(169 770 810)"/><ellipse cx="742" cy="902" rx="10.2" ry="7.9" transform="rotate(27 742 902)"/><ellipse cx="958" cy="830" rx="7.3" ry="6.7" transform="rotate(123 958 830)"/><circle cx="901" cy="791" r="4.0"/><ellipse cx="978" cy="802" rx="4.8" ry="3.3" transform="rotate(69 978 802)"/><ellipse cx="815" cy="864" rx="4.0" ry="3.0" transform="rotate(29 815 864)"/><ellipse cx="774" cy="873" rx="4.0" ry="3.1" transform="rotate(48 774 873)"/><ellipse cx="881" cy="857" rx="8.3" ry="5.9" transform="rotate(87 881 857)"/><circle cx="801" cy="865" r="3.0"/><ellipse cx="992" cy="858" rx="5.1" ry="4.0" transform="rotate(118 992 858)"/><circle cx="740" cy="868" r="3.0"/><ellipse cx="966" cy="877" rx="6.1" ry="4.1" transform="rotate(33 966 877)"/><ellipse cx="921" cy="784" rx="5.0" ry="3.2" transform="rotate(6 921 784)"/><circle cx="933" cy="909" r="4.5"/><ellipse cx="880" cy="897" rx="4.3" ry="3.7" transform="rotate(109 880 897)"/><circle cx="912" cy="937" r="4.0"/><circle cx="815" cy="788" r="4.5"/><circle cx="744" cy="819" r="3.5"/><ellipse cx="856" cy="801" rx="7.7" ry="6.3" transform="rotate(98 856 801)"/><ellipse cx="871" cy="913" rx="5.8" ry="4.3" transform="rotate(12 871 913)"/><ellipse cx="1332" cy="888" rx="4.3" ry="3.7" transform="rotate(69 1332 888)"/><ellipse cx="1439" cy="859" rx="4.8" ry="3.3" transform="rotate(124 1439 859)"/><ellipse cx="1358" cy="872" rx="4.6" ry="3.5" transform="rotate(176 1358 872)"/><circle cx="1310" cy="836" r="2.5"/><ellipse cx="1250" cy="893" rx="3.5" ry="2.6" transform="rotate(144 1250 893)"/><ellipse cx="1253" cy="931" rx="4.5" ry="3.5" transform="rotate(16 1253 931)"/><ellipse cx="1437" cy="936" rx="2.3" ry="1.7" transform="rotate(175 1437 936)"/><circle cx="1346" cy="925" r="3.5"/><circle cx="1246" cy="808" r="2.0"/><ellipse cx="1357" cy="858" rx="3.4" ry="2.6" transform="rotate(115 1357 858)"/><ellipse cx="1289" cy="935" rx="4.4" ry="3.6" transform="rotate(56 1289 935)"/><ellipse cx="1287" cy="835" rx="3.4" ry="2.7" transform="rotate(146 1287 835)"/><circle cx="1338" cy="784" r="3.0"/><ellipse cx="1374" cy="787" rx="3.0" ry="2.1" transform="rotate(18 1374 787)"/><circle cx="1348" cy="809" r="4.0"/><circle cx="1246" cy="855" r="2.5"/><ellipse cx="1378" cy="921" rx="3.1" ry="2.0" transform="rotate(30 1378 921)"/><ellipse cx="1424" cy="840" rx="3.0" ry="2.1" transform="rotate(40 1424 840)"/><circle cx="1359" cy="936" r="3.0"/><ellipse cx="1338" cy="820" rx="2.5" ry="1.6" transform="rotate(180 1338 820)"/><ellipse cx="1416" cy="890" rx="3.5" ry="2.6" transform="rotate(41 1416 890)"/><ellipse cx="1343" cy="858" rx="4.4" ry="3.7" transform="rotate(123 1343 858)"/><circle cx="1326" cy="901" r="3.0"/><ellipse cx="1385" cy="865" rx="2.3" ry="1.7" transform="rotate(125 1385 865)"/><ellipse cx="1263" cy="813" rx="3.7" ry="2.4" transform="rotate(101 1263 813)"/><circle cx="1391" cy="848" r="3.5"/><ellipse cx="1276" cy="871" rx="3.5" ry="2.6" transform="rotate(69 1276 871)"/><ellipse cx="1268" cy="893" rx="3.1" ry="2.0" transform="rotate(144 1268 893)"/><circle cx="1419" cy="930" r="3.5"/><circle cx="1397" cy="897" r="2.5"/><ellipse cx="1360" cy="814" rx="4.1" ry="3.0" transform="rotate(71 1360 814)"/><circle cx="1252" cy="834" r="4.0"/><ellipse cx="1378" cy="905" rx="4.6" ry="3.5" transform="rotate(78 1378 905)"/><ellipse cx="1326" cy="809" rx="4.6" ry="3.5" transform="rotate(82 1326 809)"/><circle cx="1416" cy="795" r="2.5"/><circle cx="1292" cy="813" r="3.0"/><ellipse cx="1268" cy="856" rx="3.9" ry="3.1" transform="rotate(127 1268 856)"/><ellipse cx="1405" cy="817" rx="4.1" ry="3.0" transform="rotate(143 1405 817)"/><circle cx="1299" cy="905" r="2.0"/><circle cx="1333" cy="912" r="2.5"/><circle cx="1358" cy="844" r="3.5"/><ellipse cx="1414" cy="915" rx="3.7" ry="2.4" transform="rotate(165 1414 915)"/><ellipse cx="1393" cy="921" rx="3.6" ry="2.5" transform="rotate(38 1393 921)"/><circle cx="1415" cy="784" r="3.0"/><ellipse cx="1425" cy="941" rx="3.4" ry="2.6" transform="rotate(4 1425 941)"/><ellipse cx="1236" cy="800" rx="3.4" ry="2.7" transform="rotate(114 1236 800)"/><circle cx="1382" cy="825" r="2.5"/><ellipse cx="1377" cy="937" rx="4.8" ry="3.3" transform="rotate(99 1377 937)"/><circle cx="1407" cy="801" r="2.0"/><ellipse cx="1322" cy="869" rx="3.6" ry="2.5" transform="rotate(70 1322 869)"/><ellipse cx="1369" cy="835" rx="2.5" ry="1.6" transform="rotate(138 1369 835)"/><circle cx="1357" cy="906" r="3.0"/><circle cx="1365" cy="882" r="2.0"/><ellipse cx="1361" cy="800" rx="4.1" ry="3.0" transform="rotate(79 1361 800)"/><circle cx="1259" cy="876" r="3.0"/><circle cx="1428" cy="878" r="2.0"/><circle cx="1361" cy="921" r="2.5"/><ellipse cx="1302" cy="868" rx="4.5" ry="3.5" transform="rotate(156 1302 868)"/><circle cx="1373" cy="808" r="3.0"/><ellipse cx="1329" cy="934" rx="3.3" ry="2.7" transform="rotate(70 1329 934)"/><ellipse cx="1466" cy="893" rx="3.5" ry="2.6" transform="rotate(120 1466 893)"/><circle cx="1527" cy="885" r="3.0"/><circle cx="1461" cy="828" r="5.0"/><circle cx="1540" cy="943" r="3.0"/><ellipse cx="1529" cy="823" rx="5.9" ry="4.2" transform="rotate(171 1529 823)"/><ellipse cx="1489" cy="904" rx="5.8" ry="4.3" transform="rotate(160 1489 904)"/><ellipse cx="1504" cy="888" rx="4.8" ry="3.3" transform="rotate(144 1504 888)"/><ellipse cx="1539" cy="894" rx="3.3" ry="2.7" transform="rotate(131 1539 894)"/></g><use href="#p1" y="-165.0"/><use href="#p1" y="165.0"/><use href="#p1" y="330.0"/></g>
<g clip-path="url(#c16)" fill="#fff"><g id="p2"><ellipse cx="762" cy="1239" rx="18.2" ry="15.9" transform="rotate(152 762 1239)"/><ellipse cx="1071" cy="1203" rx="12.6" ry="11.5" transform="rotate(95 1071 1203)"/><ellipse cx="996" cy="1127" rx="15.5" ry="12.6" transform="rotate(26 996 1127)"/><ellipse cx="716" cy="1290" rx="23.9" ry="16.8" transform="rotate(73 716 1290)"/><ellipse cx="866" cy="1283" rx="13.5" ry="10.7" transform="rotate(21 866 1283)"/><ellipse cx="870" cy="1216" rx="9.9" ry="8.2" transform="rotate(27 870 1216)"/><circle cx="949" cy="1203" r="7.0"/><ellipse cx="953" cy="1258" rx="20.2" ry="14.3" transform="rotate(137 953 1258)"/><ellipse cx="918" cy="1246" rx="5.7" ry="4.4" transform="rotate(101 918 1246)"/><ellipse cx="846" cy="1181" rx="7.3" ry="4.9" transform="rotate(74 846 1181)"/><circle cx="819" cy="1205" r="8.0"/><ellipse cx="981" cy="1161" rx="15.1" ry="13.0" transform="rotate(176 981 1161)"/><ellipse cx="831" cy="1278" rx="10.7" ry="7.6" transform="rotate(167 831 1278)"/><ellipse cx="792" cy="1153" rx="7.2" ry="5.0" transform="rotate(67 792 1153)"/><ellipse cx="884" cy="1187" rx="8.6" ry="5.7" transform="rotate(44 884 1187)"/><ellipse cx="911" cy="1197" rx="11.9" ry="8.4" transform="rotate(87 911 1197)"/><circle cx="947" cy="1130" r="7.0"/><circle cx="980" cy="1204" r="8.0"/><ellipse cx="1042" cy="1204" rx="8.6" ry="5.7" transform="rotate(66 1042 1204)"/><ellipse cx="758" cy="1186" rx="11.2" ry="8.9" transform="rotate(162 758 1186)"/><ellipse cx="879" cy="1148" rx="15.0" ry="13.1" transform="rotate(138 879 1148)"/><circle cx="704" cy="1238" r="20.0"/><circle cx="858" cy="1238" r="6.0"/><ellipse cx="933" cy="1155" rx="10.5" ry="9.5" transform="rotate(134 933 1155)"/><ellipse cx="1028" cy="1253" rx="4.4" ry="3.6" transform="rotate(156 1028 1253)"/><ellipse cx="787" cy="1285" rx="15.1" ry="13.0" transform="rotate(8 787 1285)"/><ellipse cx="1007" cy="1258" rx="13.6" ry="8.9" transform="rotate(18 1007 1258)"/><circle cx="892" cy="1270" r="5.0"/><ellipse cx="823" cy="1162" rx="17.4" ry="16.6" transform="rotate(86 823 1162)"/><ellipse cx="884" cy="1244" rx="8.4" ry="5.9" transform="rotate(113 884 1244)"/><ellipse cx="984" cy="1235" rx="16.4" ry="11.9" transform="rotate(123 984 1235)"/><circle cx="1061" cy="1289" r="4.0"/><ellipse cx="907" cy="1138" rx="9.2" ry="6.9" transform="rotate(68 907 1138)"/><ellipse cx="839" cy="1221" rx="7.5" ry="6.6" transform="rotate(171 839 1221)"/><ellipse cx="755" cy="1286" rx="7.8" ry="6.3" transform="rotate(161 755 1286)"/><ellipse cx="1047" cy="1271" rx="4.7" ry="3.4" transform="rotate(13 1047 1271)"/><ellipse cx="801" cy="1183" rx="9.3" ry="6.9" transform="rotate(2 801 1183)"/><circle cx="996" cy="1191" r="4.0"/><circle cx="900" cy="1229" r="6.0"/><ellipse cx="1051" cy="1256" rx="4.9" ry="3.3" transform="rotate(31 1051 1256)"/><ellipse cx="1041" cy="1164" rx="14.6" ry="13.4" transform="rotate(97 1041 1164)"/><ellipse cx="752" cy="1161" rx="6.6" ry="5.5" transform="rotate(71 752 1161)"/><ellipse cx="721" cy="1186" rx="6.7" ry="5.3" transform="rotate(83 721 1186)"/><ellipse cx="969" cy="1136" rx="9.5" ry="6.7" transform="rotate(67 969 1136)"/><ellipse cx="794" cy="1254" rx="6.2" ry="4.1" transform="rotate(36 794 1254)"/><ellipse cx="960" cy="1174" rx="4.5" ry="3.6" transform="rotate(36 960 1174)"/><ellipse cx="941" cy="1229" rx="6.0" ry="4.2" transform="rotate(37 941 1229)"/><ellipse cx="962" cy="1214" rx="6.0" ry="4.2" transform="rotate(40 962 1214)"/><ellipse cx="834" cy="1255" rx="4.6" ry="3.5" transform="rotate(8 834 1255)"/><ellipse cx="774" cy="1207" rx="9.2" ry="6.9" transform="rotate(78 774 1207)"/><ellipse cx="910" cy="1261" rx="7.1" ry="5.1" transform="rotate(5 910 1261)"/><ellipse cx="742" cy="1203" rx="5.8" ry="4.3" transform="rotate(20 742 1203)"/><ellipse cx="1018" cy="1228" rx="6.9" ry="5.2" transform="rotate(36 1018 1228)"/><ellipse cx="1030" cy="1276" rx="6.1" ry="4.1" transform="rotate(100 1030 1276)"/><ellipse cx="1041" cy="1227" rx="4.7" ry="3.4" transform="rotate(6 1041 1227)"/><ellipse cx="907" cy="1171" rx="8.2" ry="6.0" transform="rotate(57 907 1171)"/><ellipse cx="799" cy="1220" rx="13.3" ry="10.8" transform="rotate(141 799 1220)"/><ellipse cx="815" cy="1244" rx="7.4" ry="4.8" transform="rotate(161 815 1244)"/><ellipse cx="1018" cy="1189" rx="12.7" ry="11.4" transform="rotate(5 1018 1189)"/><ellipse cx="1011" cy="1158" rx="10.9" ry="7.4" transform="rotate(56 1011 1158)"/><ellipse cx="1027" cy="1130" rx="8.5" ry="7.5" transform="rotate(47 1027 1130)"/><ellipse cx="942" cy="1177" rx="6.8" ry="5.3" transform="rotate(134 942 1177)"/><ellipse cx="1156" cy="1148" rx="5.8" ry="4.3" transform="rotate(80 1156 1148)"/><ellipse cx="1135" cy="1247" rx="8.4" ry="5.8" transform="rotate(14 1135 1247)"/><ellipse cx="1098" cy="1133" rx="9.4" ry="8.6" transform="rotate(99 1098 1133)"/><ellipse cx="1137" cy="1196" rx="5.7" ry="4.4" transform="rotate(4 1137 1196)"/><ellipse cx="1097" cy="1194" rx="6.1" ry="4.1" transform="rotate(105 1097 1194)"/><circle cx="1538" cy="1282" r="4.0"/><ellipse cx="1309" cy="1184" rx="6.4" ry="5.6" transform="rotate(3 1309 1184)"/><circle cx="1410" cy="1274" r="4.0"/><ellipse cx="1327" cy="1210" rx="9.8" ry="8.3" transform="rotate(10 1327 1210)"/><ellipse cx="1479" cy="1222" rx="5.8" ry="4.3" transform="rotate(175 1479 1222)"/><ellipse cx="1302" cy="1251" rx="9.9" ry="6.4" transform="rotate(51 1302 1251)"/><ellipse cx="1559" cy="1220" rx="10.4" ry="9.6" transform="rotate(87 1559 1220)"/><circle cx="1482" cy="1237" r="5.0"/><ellipse cx="1286" cy="1260" rx="6.9" ry="5.2" transform="rotate(15 1286 1260)"/><ellipse cx="1268" cy="1222" rx="4.4" ry="3.7" transform="rotate(52 1268 1222)"/><ellipse cx="1242" cy="1149" rx="16.7" ry="11.7" transform="rotate(127 1242 1149)"/><ellipse cx="1498" cy="1164" rx="12.4" ry="11.6" transform="rotate(134 1498 1164)"/><ellipse cx="1192" cy="1188" rx="12.4" ry="8.0" transform="rotate(10 1192 1188)"/><ellipse cx="1325" cy="1128" rx="7.0" ry="5.1" transform="rotate(175 1325 1128)"/><ellipse cx="1488" cy="1282" rx="14.8" ry="9.7" transform="rotate(80 1488 1282)"/><ellipse cx="1189" cy="1127" rx="10.1" ry="8.0" transform="rotate(7 1189 1127)"/><ellipse cx="1549" cy="1160" rx="4.6" ry="3.5" transform="rotate(117 1549 1160)"/><ellipse cx="1440" cy="1217" rx="6.4" ry="5.6" transform="rotate(76 1440 1217)"/><ellipse cx="1528" cy="1198" rx="9.3" ry="6.9" transform="rotate(75 1528 1198)"/><circle cx="1219" cy="1227" r="9.0"/><ellipse cx="1527" cy="1248" rx="12.9" ry="11.2" transform="rotate(74 1527 1248)"/><ellipse cx="1172" cy="1172" rx="3.5" ry="2.6" transform="rotate(60 1172 1172)"/><circle cx="1385" cy="1263" r="6.0"/><ellipse cx="1249" cy="1218" rx="12.0" ry="8.3" transform="rotate(178 1249 1218)"/><ellipse cx="1264" cy="1181" rx="3.6" ry="2.5" transform="rotate(26 1264 1181)"/><ellipse cx="1223" cy="1199" rx="11.1" ry="7.3" transform="rotate(76 1223 1199)"/><ellipse cx="1453" cy="1154" rx="12.9" ry="11.2" transform="rotate(162 1453 1154)"/><ellipse cx="1404" cy="1173" rx="8.8" ry="7.3" transform="rotate(145 1404 1173)"/><ellipse cx="1265" cy="1279" rx="5.5" ry="4.6" transform="rotate(76 1265 1279)"/><ellipse cx="1493" cy="1204" rx="14.7" ry="9.8" transform="rotate(97 1493 1204)"/><ellipse cx="1440" cy="1188" rx="8.7" ry="5.6" transform="rotate(26 1440 1188)"/><circle cx="1306" cy="1227" r="4.0"/><circle cx="1153" cy="1131" r="4.0"/><circle cx="1416" cy="1132" r="4.0"/><circle cx="1212" cy="1264" r="4.0"/><ellipse cx="1412" cy="1240" rx="14.6" ry="13.4" transform="rotate(176 1412 1240)"/><circle cx="1533" cy="1155" r="3.0"/><ellipse cx="1162" cy="1183" rx="6.1" ry="4.1" transform="rotate(37 1162 1183)"/><ellipse cx="1463" cy="1278" rx="7.8" ry="6.3" transform="rotate(119 1463 1278)"/><ellipse cx="1356" cy="1183" rx="7.1" ry="5.0" transform="rotate(96 1356 1183)"/><circle cx="1238" cy="1192" r="3.0"/><ellipse cx="1348" cy="1151" rx="9.8" ry="8.2" transform="rotate(172 1348 1151)"/><circle cx="1562" cy="1200" r="3.0"/><ellipse cx="1297" cy="1281" rx="8.3" ry="5.9" transform="rotate(26 1297 1281)"/><ellipse cx="1563" cy="1249" rx="13.4" ry="10.8" transform="rotate(135 1563 1249)"/><ellipse cx="1430" cy="1143" rx="8.7" ry="5.6" transform="rotate(20 1430 1143)"/><ellipse cx="1497" cy="1138" rx="5.0" ry="3.2" transform="rotate(6 1497 1138)"/><ellipse cx="1350" cy="1280" rx="3.4" ry="2.7" transform="rotate(49 1350 1280)"/><ellipse cx="1391" cy="1289" rx="3.7" ry="2.5" transform="rotate(36 1391 1289)"/><ellipse cx="1459" cy="1246" rx="4.7" ry="3.4" transform="rotate(24 1459 1246)"/><ellipse cx="1468" cy="1194" rx="3.5" ry="2.6" transform="rotate(25 1468 1194)"/><ellipse cx="1154" cy="1207" rx="10.8" ry="9.2" transform="rotate(121 1154 1207)"/><ellipse cx="1369" cy="1214" rx="16.1" ry="12.2" transform="rotate(161 1369 1214)"/><circle cx="1192" cy="1221" r="5.0"/><ellipse cx="1177" cy="1237" rx="11.2" ry="7.2" transform="rotate(138 1177 1237)"/><circle cx="1415" cy="1195" r="6.0"/><ellipse cx="1559" cy="1140" rx="5.9" ry="4.2" transform="rotate(27 1559 1140)"/><ellipse cx="1386" cy="1230" rx="3.3" ry="2.7" transform="rotate(10 1386 1230)"/><ellipse cx="1345" cy="1254" rx="8.6" ry="7.4" transform="rotate(144 1345 1254)"/><circle cx="1520" cy="1281" r="3.0"/><ellipse cx="1288" cy="1149" rx="9.9" ry="6.5" transform="rotate(114 1288 1149)"/><ellipse cx="1263" cy="1245" rx="6.0" ry="4.2" transform="rotate(161 1263 1245)"/><ellipse cx="1328" cy="1272" rx="6.9" ry="5.2" transform="rotate(147 1328 1272)"/><ellipse cx="1370" cy="1168" rx="7.5" ry="4.8" transform="rotate(124 1370 1168)"/><ellipse cx="1562" cy="1288" rx="5.6" ry="4.5" transform="rotate(58 1562 1288)"/><circle cx="1482" cy="1144" r="3.0"/><ellipse cx="1201" cy="1247" rx="7.3" ry="6.7" transform="rotate(150 1201 1247)"/><ellipse cx="1323" cy="1157" rx="3.6" ry="2.5" transform="rotate(162 1323 1157)"/><ellipse cx="1522" cy="1162" rx="3.6" ry="2.5" transform="rotate(24 1522 1162)"/><ellipse cx="1189" cy="1157" rx="5.0" ry="3.2" transform="rotate(170 1189 1157)"/><ellipse cx="1451" cy="1257" rx="3.4" ry="2.6" transform="rotate(31 1451 1257)"/><circle cx="1251" cy="1275" r="3.0"/><ellipse cx="1328" cy="1143" rx="4.4" ry="3.6" transform="rotate(120 1328 1143)"/><ellipse cx="1163" cy="1258" rx="5.7" ry="4.4" transform="rotate(69 1163 1258)"/><circle cx="1217" cy="1245" r="3.0"/><ellipse cx="1212" cy="1278" rx="3.4" ry="2.6" transform="rotate(100 1212 1278)"/><ellipse cx="1156" cy="1145" rx="4.6" ry="3.5" transform="rotate(146 1156 1145)"/><circle cx="1151" cy="1267" r="5.0"/><ellipse cx="1281" cy="1236" rx="9.5" ry="6.7" transform="rotate(46 1281 1236)"/><circle cx="1209" cy="1183" r="3.0"/><ellipse cx="1368" cy="1285" rx="5.9" ry="4.3" transform="rotate(4 1368 1285)"/><circle cx="1265" cy="1164" r="3.0"/><ellipse cx="1248" cy="1171" rx="4.5" ry="3.6" transform="rotate(146 1248 1171)"/><ellipse cx="1293" cy="1222" rx="3.4" ry="2.6" transform="rotate(22 1293 1222)"/><ellipse cx="1497" cy="1264" rx="3.5" ry="2.6" transform="rotate(136 1497 1264)"/><ellipse cx="1473" cy="1180" rx="7.6" ry="6.5" transform="rotate(153 1473 1180)"/><ellipse cx="1158" cy="1170" rx="3.7" ry="2.5" transform="rotate(157 1158 1170)"/><circle cx="1386" cy="1136" r="3.0"/><ellipse cx="1400" cy="1216" rx="4.8" ry="3.4" transform="rotate(32 1400 1216)"/><circle cx="1360" cy="1131" r="4.0"/><ellipse cx="1177" cy="1146" rx="7.4" ry="6.7" transform="rotate(105 1177 1146)"/><ellipse cx="1284" cy="1179" rx="8.3" ry="5.9" transform="rotate(25 1284 1179)"/><circle cx="1239" cy="1254" r="8.0"/><ellipse cx="1330" cy="1237" rx="5.6" ry="4.5" transform="rotate(83 1330 1237)"/><ellipse cx="1427" cy="1164" rx="7.1" ry="5.1" transform="rotate(131 1427 1164)"/><ellipse cx="1257" cy="1130" rx="6.0" ry="4.2" transform="rotate(59 1257 1130)"/><ellipse cx="1180" cy="1211" rx="4.8" ry="3.4" transform="rotate(19 1180 1211)"/><circle cx="1513" cy="1141" r="5.0"/><ellipse cx="1486" cy="1253" rx="3.7" ry="2.4" transform="rotate(169 1486 1253)"/><ellipse cx="1285" cy="1206" rx="7.8" ry="6.3" transform="rotate(97 1285 1206)"/><circle cx="1424" cy="1283" r="5.0"/><ellipse cx="1554" cy="1181" rx="14.9" ry="9.7" transform="rotate(178 1554 1181)"/><ellipse cx="1151" cy="1283" rx="6.2" ry="4.0" transform="rotate(73 1151 1283)"/><ellipse cx="1362" cy="1267" rx="8.1" ry="6.1" transform="rotate(32 1362 1267)"/><ellipse cx="1533" cy="1176" rx="5.4" ry="4.6" transform="rotate(125 1533 1176)"/><ellipse cx="1583" cy="1264" rx="11.5" ry="10.5" transform="rotate(180 1583 1264)"/></g><use href="#p2" y="-166.0"/><use href="#p2" y="166.0"/><use href="#p2" y="332.0"/></g>
<g clip-path="url(#c25)" fill="#c9cf2a"><circle cx="2518.5" cy="-64.6" r="7.4"/><circle cx="2513.2" cy="-42.3" r="4.2"/><circle cx="2484.6" cy="-29.6" r="4.7"/><circle cx="2484.6" cy="24.4" r="4.2"/><circle cx="2515.4" cy="34.0" r="4.2"/><circle cx="2512.2" cy="71.0" r="9.5"/><circle cx="2518.5" cy="100.7" r="6.8"/><circle cx="2513.2" cy="123.0" r="4.7"/><circle cx="2485.7" cy="135.7" r="4.7"/><ellipse cx="2558" cy="80.7" rx="12.5" ry="36"/><ellipse cx="2564.1" cy="-9.5" rx="7" ry="2.5"/><ellipse cx="2591.6" cy="-0.4" rx="7" ry="2.5"/><ellipse cx="2555.6" cy="6.0" rx="7" ry="2.5"/><circle cx="2518.5" cy="100.7" r="7.4"/><circle cx="2513.2" cy="123.0" r="4.2"/><circle cx="2484.6" cy="135.7" r="4.7"/><circle cx="2484.6" cy="189.7" r="4.2"/><circle cx="2515.4" cy="199.3" r="4.2"/><circle cx="2512.2" cy="236.3" r="9.5"/><circle cx="2518.5" cy="266.0" r="6.8"/><circle cx="2513.2" cy="288.3" r="4.7"/><circle cx="2485.7" cy="301.0" r="4.7"/><ellipse cx="2558" cy="246.0" rx="12.5" ry="36"/><ellipse cx="2564.1" cy="155.8" rx="7" ry="2.5"/><ellipse cx="2591.6" cy="164.9" rx="7" ry="2.5"/><ellipse cx="2555.6" cy="171.3" rx="7" ry="2.5"/><circle cx="2518.5" cy="266.0" r="7.4"/><circle cx="2513.2" cy="288.3" r="4.2"/><circle cx="2484.6" cy="301.0" r="4.7"/><circle cx="2484.6" cy="355.0" r="4.2"/><circle cx="2515.4" cy="364.6" r="4.2"/><circle cx="2512.2" cy="401.6" r="9.5"/><circle cx="2518.5" cy="431.3" r="6.8"/><circle cx="2513.2" cy="453.6" r="4.7"/><circle cx="2485.7" cy="466.3" r="4.7"/><ellipse cx="2558" cy="411.3" rx="12.5" ry="36"/><ellipse cx="2564.1" cy="321.1" rx="7" ry="2.5"/><ellipse cx="2591.6" cy="330.2" rx="7" ry="2.5"/><ellipse cx="2555.6" cy="336.6" rx="7" ry="2.5"/></g>
<path d="M1960,430.5 H3220 V759.5 H1960" fill="none" stroke="#ececec" stroke-width="1.5"/>
<g clip-path="url(#c34)" fill="#fff"><g id="p3"><ellipse cx="1992" cy="798" rx="8.5" ry="7.6" transform="rotate(8 1992 798)"/><ellipse cx="2142" cy="868" rx="13.0" ry="7.7" transform="rotate(27 2142 868)"/><ellipse cx="2109" cy="889" rx="6.6" ry="5.5" transform="rotate(132 2109 889)"/><ellipse cx="2074" cy="814" rx="9.3" ry="8.7" transform="rotate(4 2074 814)"/><ellipse cx="2140" cy="846" rx="6.5" ry="5.5" transform="rotate(71 2140 846)"/><circle cx="2025" cy="876" r="9.0"/><ellipse cx="2019" cy="802" rx="8.0" ry="4.5" transform="rotate(178 2019 802)"/><ellipse cx="1995" cy="901" rx="10.1" ry="6.3" transform="rotate(39 1995 901)"/><circle cx="2043" cy="915" r="8.0"/><ellipse cx="2043" cy="845" rx="12.6" ry="7.9" transform="rotate(57 2043 845)"/><ellipse cx="2024" cy="903" rx="6.6" ry="3.8" transform="rotate(55 2024 903)"/><ellipse cx="2124" cy="829" rx="6.5" ry="5.6" transform="rotate(166 2124 829)"/><ellipse cx="2086" cy="894" rx="6.3" ry="3.9" transform="rotate(51 2086 894)"/><ellipse cx="2104" cy="824" rx="10.5" ry="9.5" transform="rotate(35 2104 824)"/><ellipse cx="2044" cy="897" rx="7.1" ry="5.0" transform="rotate(90 2044 897)"/><ellipse cx="2146" cy="906" rx="8.4" ry="5.9" transform="rotate(141 2146 906)"/><ellipse cx="2050" cy="826" rx="8.4" ry="4.3" transform="rotate(24 2050 826)"/><ellipse cx="2100" cy="871" rx="11.5" ry="7.0" transform="rotate(94 2100 871)"/><ellipse cx="2049" cy="866" rx="9.1" ry="5.4" transform="rotate(170 2049 866)"/><ellipse cx="2108" cy="916" rx="5.9" ry="4.2" transform="rotate(149 2108 916)"/><ellipse cx="1995" cy="853" rx="10.8" ry="9.3" transform="rotate(39 1995 853)"/><ellipse cx="2008" cy="816" rx="8.1" ry="4.4" transform="rotate(125 2008 816)"/><circle cx="2034" cy="810" r="5.0"/><ellipse cx="2034" cy="825" rx="7.8" ry="6.2" transform="rotate(164 2034 825)"/><ellipse cx="2083" cy="846" rx="6.6" ry="5.5" transform="rotate(26 2083 846)"/><ellipse cx="2091" cy="906" rx="6.3" ry="3.9" transform="rotate(127 2091 906)"/><ellipse cx="1993" cy="929" rx="11.0" ry="5.8" transform="rotate(121 1993 929)"/><ellipse cx="2073" cy="921" rx="9.2" ry="5.3" transform="rotate(72 2073 921)"/><circle cx="2024" cy="926" r="8.0"/><ellipse cx="2143" cy="819" rx="10.2" ry="6.3" transform="rotate(58 2143 819)"/><ellipse cx="2013" cy="788" rx="9.2" ry="5.3" transform="rotate(168 2013 788)"/><ellipse cx="2097" cy="781" rx="13.3" ry="7.5" transform="rotate(131 2097 781)"/><ellipse cx="2064" cy="839" rx="10.4" ry="7.8" transform="rotate(157 2064 839)"/><ellipse cx="2110" cy="802" rx="13.1" ry="7.6" transform="rotate(172 2110 802)"/><ellipse cx="2129" cy="923" rx="7.5" ry="4.8" transform="rotate(84 2129 923)"/><circle cx="2060" cy="890" r="7.0"/><ellipse cx="2059" cy="793" rx="5.7" ry="4.4" transform="rotate(162 2059 793)"/><ellipse cx="2078" cy="907" rx="6.4" ry="3.9" transform="rotate(152 2078 907)"/><ellipse cx="2078" cy="877" rx="6.6" ry="5.4" transform="rotate(98 2078 877)"/><ellipse cx="2118" cy="860" rx="8.0" ry="4.5" transform="rotate(60 2118 860)"/><ellipse cx="2128" cy="896" rx="5.7" ry="4.4" transform="rotate(45 2128 896)"/><ellipse cx="2047" cy="937" rx="9.7" ry="5.0" transform="rotate(84 2047 937)"/><ellipse cx="2111" cy="845" rx="5.9" ry="4.2" transform="rotate(29 2111 845)"/><circle cx="2009" cy="872" r="5.0"/><ellipse cx="2121" cy="944" rx="6.7" ry="3.7" transform="rotate(158 2121 944)"/><ellipse cx="1996" cy="829" rx="9.0" ry="5.5" transform="rotate(93 1996 829)"/><ellipse cx="1991" cy="879" rx="12.5" ry="6.5" transform="rotate(179 1991 879)"/><ellipse cx="2075" cy="789" rx="7.6" ry="6.4" transform="rotate(108 2075 789)"/><ellipse cx="2142" cy="934" rx="6.4" ry="5.6" transform="rotate(40 2142 934)"/><ellipse cx="2069" cy="861" rx="5.4" ry="4.6" transform="rotate(43 2069 861)"/><ellipse cx="2020" cy="835" rx="9.2" ry="5.3" transform="rotate(72 2020 835)"/><ellipse cx="2118" cy="907" rx="7.3" ry="4.9" transform="rotate(169 2118 907)"/><ellipse cx="2123" cy="881" rx="8.1" ry="4.4" transform="rotate(36 2123 881)"/><ellipse cx="2034" cy="792" rx="9.0" ry="5.4" transform="rotate(162 2034 792)"/><circle cx="2087" cy="928" r="6.0"/><ellipse cx="2131" cy="801" rx="8.6" ry="5.7" transform="rotate(124 2131 801)"/><circle cx="2049" cy="801" r="5.0"/><ellipse cx="2149" cy="793" rx="8.3" ry="4.3" transform="rotate(167 2149 793)"/><ellipse cx="2058" cy="921" rx="5.5" ry="4.5" transform="rotate(46 2058 921)"/><ellipse cx="2029" cy="941" rx="6.6" ry="3.8" transform="rotate(157 2029 941)"/><ellipse cx="2017" cy="856" rx="7.3" ry="5.0" transform="rotate(131 2017 856)"/><ellipse cx="2150" cy="891" rx="5.9" ry="4.3" transform="rotate(143 2150 891)"/><ellipse cx="2012" cy="889" rx="6.9" ry="3.6" transform="rotate(149 2012 889)"/><ellipse cx="2088" cy="800" rx="8.3" ry="5.9" transform="rotate(112 2088 800)"/><ellipse cx="2127" cy="843" rx="5.4" ry="4.7" transform="rotate(21 2127 843)"/><ellipse cx="2066" cy="938" rx="7.1" ry="5.0" transform="rotate(81 2066 938)"/><ellipse cx="2117" cy="930" rx="6.3" ry="4.0" transform="rotate(44 2117 930)"/><circle cx="2150" cy="923" r="5.0"/><ellipse cx="2064" cy="908" rx="7.1" ry="5.1" transform="rotate(172 2064 908)"/><ellipse cx="2007" cy="910" rx="6.1" ry="4.1" transform="rotate(39 2007 910)"/><ellipse cx="2192" cy="876" rx="5.1" ry="3.2" transform="rotate(159 2192 876)"/><ellipse cx="2179" cy="936" rx="6.4" ry="3.9" transform="rotate(61 2179 936)"/><circle cx="2197" cy="915" r="3.0"/><ellipse cx="2212" cy="904" rx="3.7" ry="2.4" transform="rotate(66 2212 904)"/><ellipse cx="2214" cy="934" rx="7.6" ry="4.8" transform="rotate(56 2214 934)"/><ellipse cx="2181" cy="815" rx="5.8" ry="4.3" transform="rotate(109 2181 815)"/><ellipse cx="2196" cy="844" rx="5.4" ry="4.7" transform="rotate(123 2196 844)"/><ellipse cx="2159" cy="890" rx="3.7" ry="2.4" transform="rotate(51 2159 890)"/><ellipse cx="2159" cy="827" rx="4.9" ry="3.2" transform="rotate(73 2159 827)"/><ellipse cx="2212" cy="836" rx="3.5" ry="2.6" transform="rotate(149 2212 836)"/><circle cx="2227" cy="880" r="5.0"/><ellipse cx="2177" cy="833" rx="4.9" ry="3.3" transform="rotate(62 2177 833)"/><circle cx="2201" cy="864" r="3.0"/><ellipse cx="2171" cy="794" rx="6.8" ry="5.3" transform="rotate(26 2171 794)"/><ellipse cx="2214" cy="824" rx="6.1" ry="4.1" transform="rotate(154 2214 824)"/><ellipse cx="2196" cy="939" rx="3.4" ry="2.7" transform="rotate(83 2196 939)"/><ellipse cx="2156" cy="846" rx="6.6" ry="5.5" transform="rotate(177 2156 846)"/><ellipse cx="2217" cy="855" rx="4.5" ry="3.6" transform="rotate(104 2217 855)"/><ellipse cx="2210" cy="882" rx="3.6" ry="2.5" transform="rotate(27 2210 882)"/><circle cx="2191" cy="831" r="3.0"/><ellipse cx="2174" cy="868" rx="6.6" ry="5.4" transform="rotate(19 2174 868)"/><ellipse cx="2177" cy="920" rx="5.5" ry="3.7" transform="rotate(178 2177 920)"/><ellipse cx="2178" cy="885" rx="4.9" ry="4.1" transform="rotate(31 2178 885)"/><ellipse cx="2190" cy="786" rx="3.7" ry="2.5" transform="rotate(104 2190 786)"/><ellipse cx="2217" cy="786" rx="5.6" ry="4.5" transform="rotate(115 2217 786)"/><ellipse cx="2218" cy="894" rx="5.5" ry="3.7" transform="rotate(57 2218 894)"/><ellipse cx="2154" cy="929" rx="5.8" ry="3.5" transform="rotate(42 2154 929)"/><circle cx="2204" cy="790" r="5.0"/><ellipse cx="2191" cy="905" rx="6.1" ry="4.1" transform="rotate(105 2191 905)"/><ellipse cx="2152" cy="904" rx="3.9" ry="2.3" transform="rotate(54 2152 904)"/><ellipse cx="2235" cy="815" rx="4.1" ry="3.0" transform="rotate(43 2235 815)"/><ellipse cx="2231" cy="786" rx="3.9" ry="3.1" transform="rotate(152 2231 786)"/><ellipse cx="2261" cy="935" rx="4.4" ry="3.7" transform="rotate(0 2261 935)"/><circle cx="2275" cy="801" r="2.5"/><ellipse cx="2242" cy="827" rx="3.3" ry="2.7" transform="rotate(60 2242 827)"/><ellipse cx="2232" cy="866" rx="3.3" ry="2.7" transform="rotate(78 2232 866)"/><circle cx="2285" cy="871" r="3.0"/><ellipse cx="2286" cy="808" rx="4.0" ry="3.1" transform="rotate(104 2286 808)"/><ellipse cx="2247" cy="793" rx="4.8" ry="3.3" transform="rotate(52 2247 793)"/><ellipse cx="2272" cy="910" rx="3.0" ry="2.1" transform="rotate(80 2272 910)"/></g><use href="#p3" y="-164.5"/><use href="#p3" y="164.5"/><use href="#p3" y="329.0"/></g>
<g clip-path="url(#c34)" fill="#c8d82a"><g id="p4"><circle cx="2693" cy="884" r="5.0"/><ellipse cx="2792" cy="935" rx="5.5" ry="4.6" transform="rotate(95 2792 935)"/><circle cx="2656" cy="935" r="6.5"/><circle cx="2765" cy="826" r="5.0"/><ellipse cx="2560" cy="789" rx="5.5" ry="4.5" transform="rotate(178 2560 789)"/><circle cx="2545" cy="840" r="6.5"/><ellipse cx="2605" cy="781" rx="6.4" ry="5.6" transform="rotate(100 2605 781)"/><circle cx="2640" cy="893" r="3.0"/><circle cx="2726" cy="920" r="3.0"/><ellipse cx="2628" cy="923" rx="6.9" ry="6.1" transform="rotate(82 2628 923)"/><circle cx="2665" cy="839" r="6.0"/><ellipse cx="2722" cy="820" rx="6.4" ry="5.6" transform="rotate(130 2722 820)"/><circle cx="2793" cy="900" r="5.5"/><ellipse cx="2576" cy="899" rx="5.4" ry="4.6" transform="rotate(78 2576 899)"/><ellipse cx="2764" cy="932" rx="5.4" ry="4.7" transform="rotate(106 2764 932)"/><circle cx="2653" cy="867" r="5.0"/><ellipse cx="2660" cy="908" rx="6.5" ry="5.6" transform="rotate(142 2660 908)"/><ellipse cx="2551" cy="927" rx="6.0" ry="5.1" transform="rotate(174 2551 927)"/><ellipse cx="2763" cy="862" rx="5.3" ry="4.7" transform="rotate(59 2763 862)"/><ellipse cx="2585" cy="793" rx="4.3" ry="3.7" transform="rotate(47 2585 793)"/><ellipse cx="2576" cy="867" rx="4.3" ry="3.7" transform="rotate(98 2576 867)"/><circle cx="2527" cy="784" r="4.0"/></g><use href="#p4" y="-164.5"/><use href="#p4" y="164.5"/><use href="#p4" y="329.0"/></g>
<g clip-path="url(#c40)" fill="#fff"><g id="p5"><ellipse cx="2104" cy="1165" rx="14.5" ry="6.9" transform="rotate(69 2104 1165)"/><ellipse cx="2259" cy="1173" rx="14.3" ry="10.1" transform="rotate(132 2259 1173)"/><ellipse cx="2163" cy="1256" rx="8.5" ry="5.7" transform="rotate(28 2163 1256)"/><ellipse cx="2035" cy="1246" rx="11.3" ry="8.9" transform="rotate(124 2035 1246)"/><ellipse cx="2165" cy="1146" rx="19.3" ry="18.7" transform="rotate(156 2165 1146)"/><ellipse cx="2210" cy="1147" rx="7.4" ry="6.6" transform="rotate(164 2210 1147)"/><ellipse cx="2197" cy="1288" rx="7.9" ry="6.2" transform="rotate(41 2197 1288)"/><ellipse cx="1998" cy="1222" rx="20.2" ry="9.7" transform="rotate(152 1998 1222)"/><ellipse cx="2080" cy="1151" rx="10.8" ry="7.5" transform="rotate(119 2080 1151)"/><circle cx="2138" cy="1192" r="7.0"/><ellipse cx="2213" cy="1216" rx="9.3" ry="5.3" transform="rotate(58 2213 1216)"/><ellipse cx="2032" cy="1137" rx="9.5" ry="5.1" transform="rotate(123 2032 1137)"/><ellipse cx="2246" cy="1265" rx="14.5" ry="6.9" transform="rotate(74 2246 1265)"/><ellipse cx="2116" cy="1267" rx="12.2" ry="9.9" transform="rotate(65 2116 1267)"/><ellipse cx="2054" cy="1164" rx="20.0" ry="11.3" transform="rotate(12 2054 1164)"/><ellipse cx="2061" cy="1220" rx="12.5" ry="8.0" transform="rotate(22 2061 1220)"/><ellipse cx="2222" cy="1191" rx="18.8" ry="9.0" transform="rotate(148 2222 1191)"/><ellipse cx="2181" cy="1211" rx="12.1" ry="8.3" transform="rotate(175 2181 1211)"/><ellipse cx="2278" cy="1133" rx="25.6" ry="14.1" transform="rotate(39 2278 1133)"/><ellipse cx="2229" cy="1241" rx="11.5" ry="10.5" transform="rotate(85 2229 1241)"/><ellipse cx="2122" cy="1206" rx="17.2" ry="13.1" transform="rotate(44 2122 1206)"/><circle cx="2006" cy="1263" r="17.0"/><ellipse cx="2266" cy="1222" rx="20.1" ry="9.8" transform="rotate(40 2266 1222)"/><ellipse cx="2003" cy="1181" rx="22.9" ry="12.6" transform="rotate(88 2003 1181)"/><ellipse cx="2107" cy="1138" rx="17.4" ry="9.7" transform="rotate(135 2107 1138)"/><ellipse cx="2249" cy="1155" rx="14.6" ry="6.9" transform="rotate(12 2249 1155)"/><ellipse cx="2087" cy="1129" rx="10.2" ry="4.8" transform="rotate(175 2087 1129)"/><ellipse cx="2254" cy="1241" rx="10.2" ry="4.8" transform="rotate(173 2254 1241)"/><ellipse cx="2073" cy="1267" rx="14.1" ry="10.2" transform="rotate(30 2073 1267)"/><ellipse cx="2231" cy="1131" rx="15.1" ry="9.5" transform="rotate(35 2231 1131)"/><ellipse cx="2189" cy="1173" rx="17.6" ry="8.2" transform="rotate(53 2189 1173)"/><ellipse cx="2288" cy="1177" rx="20.1" ry="9.7" transform="rotate(99 2288 1177)"/><ellipse cx="2045" cy="1289" rx="16.8" ry="8.6" transform="rotate(87 2045 1289)"/><ellipse cx="2211" cy="1167" rx="11.9" ry="10.2" transform="rotate(149 2211 1167)"/><ellipse cx="2034" cy="1185" rx="9.7" ry="5.0" transform="rotate(15 2034 1185)"/><ellipse cx="2015" cy="1153" rx="9.8" ry="8.2" transform="rotate(82 2015 1153)"/><ellipse cx="2077" cy="1184" rx="17.5" ry="11.2" transform="rotate(80 2077 1184)"/><ellipse cx="2145" cy="1275" rx="20.9" ry="13.8" transform="rotate(156 2145 1275)"/><ellipse cx="2146" cy="1225" rx="22.2" ry="10.1" transform="rotate(149 2146 1225)"/><ellipse cx="2202" cy="1202" rx="8.9" ry="5.5" transform="rotate(109 2202 1202)"/><ellipse cx="2130" cy="1158" rx="14.8" ry="8.2" transform="rotate(33 2130 1158)"/><ellipse cx="2268" cy="1252" rx="11.1" ry="9.0" transform="rotate(118 2268 1252)"/><ellipse cx="2135" cy="1138" rx="9.7" ry="8.4" transform="rotate(28 2135 1138)"/><ellipse cx="2275" cy="1195" rx="10.9" ry="7.4" transform="rotate(40 2275 1195)"/><ellipse cx="2195" cy="1255" rx="24.5" ry="14.7" transform="rotate(97 2195 1255)"/><ellipse cx="2091" cy="1214" rx="20.9" ry="9.4" transform="rotate(64 2091 1214)"/><ellipse cx="2103" cy="1244" rx="15.6" ry="12.5" transform="rotate(172 2103 1244)"/><ellipse cx="2176" cy="1190" rx="10.0" ry="8.1" transform="rotate(80 2176 1190)"/><ellipse cx="2138" cy="1246" rx="10.7" ry="7.5" transform="rotate(129 2138 1246)"/><ellipse cx="2016" cy="1235" rx="9.3" ry="5.2" transform="rotate(9 2016 1235)"/><ellipse cx="2043" cy="1265" rx="13.3" ry="6.1" transform="rotate(173 2043 1265)"/><ellipse cx="2046" cy="1202" rx="12.5" ry="9.7" transform="rotate(108 2046 1202)"/><ellipse cx="2018" cy="1127" rx="12.4" ry="6.5" transform="rotate(31 2018 1127)"/><ellipse cx="2077" cy="1249" rx="7.9" ry="6.2" transform="rotate(66 2077 1249)"/><ellipse cx="2235" cy="1213" rx="9.6" ry="5.1" transform="rotate(95 2235 1213)"/><ellipse cx="2021" cy="1220" rx="11.4" ry="7.1" transform="rotate(33 2021 1220)"/><ellipse cx="2069" cy="1132" rx="13.5" ry="7.4" transform="rotate(156 2069 1132)"/><ellipse cx="2158" cy="1179" rx="11.7" ry="10.3" transform="rotate(177 2158 1179)"/><ellipse cx="1994" cy="1291" rx="13.2" ry="7.6" transform="rotate(44 1994 1291)"/><ellipse cx="2158" cy="1200" rx="15.3" ry="7.9" transform="rotate(63 2158 1200)"/><ellipse cx="2256" cy="1285" rx="8.7" ry="5.7" transform="rotate(156 2256 1285)"/><ellipse cx="2249" cy="1207" rx="9.1" ry="5.4" transform="rotate(23 2249 1207)"/><ellipse cx="2276" cy="1270" rx="15.0" ry="8.1" transform="rotate(59 2276 1270)"/><ellipse cx="1998" cy="1144" rx="8.7" ry="5.6" transform="rotate(32 1998 1144)"/><ellipse cx="2245" cy="1223" rx="8.9" ry="5.5" transform="rotate(2 2245 1223)"/><ellipse cx="2290" cy="1197" rx="8.0" ry="6.1" transform="rotate(59 2290 1197)"/><ellipse cx="2173" cy="1233" rx="10.3" ry="4.8" transform="rotate(80 2173 1233)"/><ellipse cx="2055" cy="1246" rx="13.2" ry="6.2" transform="rotate(63 2055 1246)"/><ellipse cx="2198" cy="1141" rx="8.4" ry="5.8" transform="rotate(140 2198 1141)"/><ellipse cx="2223" cy="1270" rx="16.2" ry="12.1" transform="rotate(78 2223 1270)"/><ellipse cx="2285" cy="1239" rx="9.6" ry="5.1" transform="rotate(136 2285 1239)"/><ellipse cx="2213" cy="1289" rx="9.8" ry="5.0" transform="rotate(14 2213 1289)"/><ellipse cx="2013" cy="1201" rx="8.2" ry="6.0" transform="rotate(119 2013 1201)"/><circle cx="2287" cy="1212" r="9.0"/><ellipse cx="2238" cy="1177" rx="15.0" ry="6.7" transform="rotate(134 2238 1177)"/><ellipse cx="2112" cy="1185" rx="9.4" ry="8.6" transform="rotate(42 2112 1185)"/><ellipse cx="2124" cy="1234" rx="10.5" ry="4.7" transform="rotate(99 2124 1234)"/><ellipse cx="2184" cy="1279" rx="12.2" ry="6.7" transform="rotate(18 2184 1279)"/><circle cx="2188" cy="1228" r="7.0"/><ellipse cx="1990" cy="1203" rx="7.7" ry="6.4" transform="rotate(91 1990 1203)"/><ellipse cx="2065" cy="1200" rx="7.7" ry="6.4" transform="rotate(66 2065 1200)"/><ellipse cx="2039" cy="1226" rx="7.3" ry="6.7" transform="rotate(89 2039 1226)"/><ellipse cx="2249" cy="1134" rx="9.1" ry="5.4" transform="rotate(22 2249 1134)"/><ellipse cx="2078" cy="1233" rx="12.4" ry="8.1" transform="rotate(46 2078 1233)"/><ellipse cx="2226" cy="1156" rx="9.0" ry="5.5" transform="rotate(25 2226 1156)"/><ellipse cx="2428" cy="1131" rx="7.4" ry="6.6" transform="rotate(25 2428 1131)"/><circle cx="2320" cy="1249" r="11.0"/><ellipse cx="2306" cy="1163" rx="12.7" ry="9.6" transform="rotate(101 2306 1163)"/><ellipse cx="2443" cy="1242" rx="9.5" ry="8.5" transform="rotate(106 2443 1242)"/><ellipse cx="2462" cy="1128" rx="5.9" ry="4.3" transform="rotate(61 2462 1128)"/><circle cx="2331" cy="1285" r="7.0"/><ellipse cx="2372" cy="1183" rx="8.4" ry="5.8" transform="rotate(131 2372 1183)"/><ellipse cx="2477" cy="1186" rx="5.9" ry="4.3" transform="rotate(8 2477 1186)"/><ellipse cx="2346" cy="1174" rx="4.9" ry="3.3" transform="rotate(156 2346 1174)"/><circle cx="2422" cy="1155" r="5.0"/><ellipse cx="2498" cy="1232" rx="11.6" ry="10.4" transform="rotate(58 2498 1232)"/><circle cx="2461" cy="1193" r="4.0"/><ellipse cx="2379" cy="1278" rx="9.3" ry="8.7" transform="rotate(25 2379 1278)"/><ellipse cx="2449" cy="1216" rx="12.2" ry="9.9" transform="rotate(105 2449 1216)"/><ellipse cx="2402" cy="1142" rx="4.9" ry="3.3" transform="rotate(28 2402 1142)"/><ellipse cx="2313" cy="1190" rx="10.2" ry="7.9" transform="rotate(175 2313 1190)"/><ellipse cx="2446" cy="1242" rx="3.1" ry="2.0" transform="rotate(67 2446 1242)"/><ellipse cx="2552" cy="1142" rx="4.5" ry="3.6" transform="rotate(3 2552 1142)"/><ellipse cx="2509" cy="1188" rx="4.9" ry="3.3" transform="rotate(171 2509 1188)"/><ellipse cx="2503" cy="1136" rx="2.4" ry="1.7" transform="rotate(68 2503 1136)"/><circle cx="2455" cy="1211" r="3.5"/><circle cx="2597" cy="1171" r="2.5"/><circle cx="2450" cy="1282" r="2.5"/><ellipse cx="2524" cy="1144" rx="4.7" ry="3.4" transform="rotate(117 2524 1144)"/><ellipse cx="2450" cy="1266" rx="4.2" ry="2.9" transform="rotate(162 2450 1266)"/><ellipse cx="2493" cy="1214" rx="5.5" ry="4.5" transform="rotate(23 2493 1214)"/><circle cx="2453" cy="1179" r="4.0"/><ellipse cx="2546" cy="1176" rx="6.2" ry="4.0" transform="rotate(129 2546 1176)"/><circle cx="2564" cy="1186" r="5.0"/><ellipse cx="2465" cy="1260" rx="2.3" ry="1.7" transform="rotate(76 2465 1260)"/><ellipse cx="2534" cy="1151" rx="2.5" ry="1.6" transform="rotate(176 2534 1151)"/><circle cx="2460" cy="1248" r="3.0"/><ellipse cx="2481" cy="1251" rx="4.2" ry="2.9" transform="rotate(154 2481 1251)"/><ellipse cx="2502" cy="1244" rx="2.4" ry="1.7" transform="rotate(153 2502 1244)"/><ellipse cx="2548" cy="1159" rx="4.4" ry="3.6" transform="rotate(107 2548 1159)"/><circle cx="2505" cy="1259" r="3.5"/><circle cx="2564" cy="1289" r="3.5"/><ellipse cx="2450" cy="1131" rx="4.9" ry="3.3" transform="rotate(152 2450 1131)"/><ellipse cx="2582" cy="1210" rx="5.0" ry="3.2" transform="rotate(104 2582 1210)"/><circle cx="2482" cy="1148" r="3.5"/><circle cx="2442" cy="1189" r="3.0"/><ellipse cx="2472" cy="1134" rx="3.4" ry="2.7" transform="rotate(168 2472 1134)"/><ellipse cx="2574" cy="1258" rx="4.1" ry="3.0" transform="rotate(26 2574 1258)"/><ellipse cx="2595" cy="1151" rx="4.7" ry="3.4" transform="rotate(54 2595 1151)"/><ellipse cx="2528" cy="1266" rx="4.4" ry="3.6" transform="rotate(78 2528 1266)"/><ellipse cx="2570" cy="1138" rx="4.9" ry="3.2" transform="rotate(115 2570 1138)"/><ellipse cx="2571" cy="1227" rx="2.3" ry="1.7" transform="rotate(144 2571 1227)"/><circle cx="2511" cy="1171" r="2.5"/><ellipse cx="2552" cy="1200" rx="3.6" ry="2.5" transform="rotate(38 2552 1200)"/><ellipse cx="2567" cy="1157" rx="3.7" ry="2.4" transform="rotate(43 2567 1157)"/></g><use href="#p5" y="-165.3"/><use href="#p5" y="165.3"/><use href="#p5" y="330.6"/></g>
<path d="M2611.7,1126.5 V1457" stroke="#d9dc28" stroke-width="6.5" stroke-dasharray="24.7 11.8" fill="none"/>
<g clip-path="url(#c40)" fill="#dfe070"><ellipse cx="2641.8" cy="977.9" rx="21.7" ry="17.5"/><ellipse cx="2716.3" cy="977.9" rx="21.7" ry="17.5"/><ellipse cx="2839.3" cy="977.9" rx="23.5" ry="14.5"/><ellipse cx="2800.1" cy="1033.7" rx="24.1" ry="24.1"/><ellipse cx="2868.9" cy="1018.6" rx="19.6" ry="13.6"/><ellipse cx="2917.1" cy="1056.3" rx="15.7" ry="15.1"/><ellipse cx="2687.1" cy="1080.4" rx="19.6" ry="16.6"/><ellipse cx="2730.2" cy="1075.9" rx="15.7" ry="13.6"/><ellipse cx="2866.5" cy="1077.4" rx="18.7" ry="14.5"/><ellipse cx="2651.8" cy="1110.6" rx="20.5" ry="14.5"/><ellipse cx="2740.4" cy="1107.6" rx="15.7" ry="13.6"/><ellipse cx="2778.1" cy="1097.0" rx="15.1" ry="13.6"/><ellipse cx="2817.6" cy="1097.0" rx="15.1" ry="13.6"/><ellipse cx="2852.9" cy="1117.2" rx="19.6" ry="12.1"/><ellipse cx="2975.0" cy="1003.6" rx="6.6" ry="5.4" fill="#d2d628"/><ellipse cx="3011.2" cy="984.0" rx="4.2" ry="3.6" fill="#d2d628"/><ellipse cx="2969.0" cy="1082.0" rx="4.2" ry="3.6" fill="#d2d628"/><ellipse cx="3008.2" cy="1103.1" rx="3.6" ry="3.6" fill="#d2d628"/><ellipse cx="3002.2" cy="1069.9" rx="3.0" ry="4.2" fill="#d2d628"/><ellipse cx="3012.7" cy="1059.3" rx="2.7" ry="6.0" fill="#d2d628"/><ellipse cx="3083.6" cy="1118.7" rx="3.0" ry="3.0" fill="#d2d628"/><ellipse cx="3107.7" cy="1123.3" rx="4.2" ry="3.3" fill="#d2d628"/><ellipse cx="3074.5" cy="1131.7" rx="3.0" ry="2.4" fill="#d2d628"/><ellipse cx="3033.8" cy="1003.6" rx="25" ry="7.5" transform="rotate(-42 3033.8 1003.6)" fill="#cfd42c"/><ellipse cx="2641.8" cy="1143.2" rx="21.7" ry="17.5"/><ellipse cx="2716.3" cy="1143.2" rx="21.7" ry="17.5"/><ellipse cx="2839.3" cy="1143.2" rx="23.5" ry="14.5"/><ellipse cx="2800.1" cy="1199.0" rx="24.1" ry="24.1"/><ellipse cx="2868.9" cy="1183.9" rx="19.6" ry="13.6"/><ellipse cx="2917.1" cy="1221.6" rx="15.7" ry="15.1"/><ellipse cx="2687.1" cy="1245.7" rx="19.6" ry="16.6"/><ellipse cx="2730.2" cy="1241.2" rx="15.7" ry="13.6"/><ellipse cx="2866.5" cy="1242.7" rx="18.7" ry="14.5"/><ellipse cx="2651.8" cy="1275.9" rx="20.5" ry="14.5"/><ellipse cx="2740.4" cy="1272.8" rx="15.7" ry="13.6"/><ellipse cx="2778.1" cy="1262.3" rx="15.1" ry="13.6"/><ellipse cx="2817.6" cy="1262.3" rx="15.1" ry="13.6"/><ellipse cx="2852.9" cy="1282.5" rx="19.6" ry="12.1"/><ellipse cx="2975.0" cy="1168.8" rx="6.6" ry="5.4" fill="#d2d628"/><ellipse cx="3011.2" cy="1149.2" rx="4.2" ry="3.6" fill="#d2d628"/><ellipse cx="2969.0" cy="1247.2" rx="4.2" ry="3.6" fill="#d2d628"/><ellipse cx="3008.2" cy="1268.3" rx="3.6" ry="3.6" fill="#d2d628"/><ellipse cx="3002.2" cy="1235.1" rx="3.0" ry="4.2" fill="#d2d628"/><ellipse cx="3012.7" cy="1224.6" rx="2.7" ry="6.0" fill="#d2d628"/><ellipse cx="3083.6" cy="1284.0" rx="3.0" ry="3.0" fill="#d2d628"/><ellipse cx="3107.7" cy="1288.5" rx="4.2" ry="3.3" fill="#d2d628"/><ellipse cx="3074.5" cy="1297.0" rx="3.0" ry="2.4" fill="#d2d628"/><ellipse cx="3033.8" cy="1168.8" rx="25" ry="7.5" transform="rotate(-42 3033.8 1168.8)" fill="#cfd42c"/><ellipse cx="2641.8" cy="1308.4" rx="21.7" ry="17.5"/><ellipse cx="2716.3" cy="1308.4" rx="21.7" ry="17.5"/><ellipse cx="2839.3" cy="1308.4" rx="23.5" ry="14.5"/><ellipse cx="2800.1" cy="1364.2" rx="24.1" ry="24.1"/><ellipse cx="2868.9" cy="1349.1" rx="19.6" ry="13.6"/><ellipse cx="2917.1" cy="1386.8" rx="15.7" ry="15.1"/><ellipse cx="2687.1" cy="1410.9" rx="19.6" ry="16.6"/><ellipse cx="2730.2" cy="1406.4" rx="15.7" ry="13.6"/><ellipse cx="2866.5" cy="1407.9" rx="18.7" ry="14.5"/><ellipse cx="2651.8" cy="1441.1" rx="20.5" ry="14.5"/><ellipse cx="2740.4" cy="1438.1" rx="15.7" ry="13.6"/><ellipse cx="2778.1" cy="1427.5" rx="15.1" ry="13.6"/><ellipse cx="2817.6" cy="1427.5" rx="15.1" ry="13.6"/><ellipse cx="2852.9" cy="1447.7" rx="19.6" ry="12.1"/><ellipse cx="2975.0" cy="1334.1" rx="6.6" ry="5.4" fill="#d2d628"/><ellipse cx="3011.2" cy="1314.5" rx="4.2" ry="3.6" fill="#d2d628"/><ellipse cx="2969.0" cy="1412.5" rx="4.2" ry="3.6" fill="#d2d628"/><ellipse cx="3008.2" cy="1433.6" rx="3.6" ry="3.6" fill="#d2d628"/><ellipse cx="3002.2" cy="1400.4" rx="3.0" ry="4.2" fill="#d2d628"/><ellipse cx="3012.7" cy="1389.8" rx="2.7" ry="6.0" fill="#d2d628"/><ellipse cx="3083.6" cy="1449.2" rx="3.0" ry="3.0" fill="#d2d628"/><ellipse cx="3107.7" cy="1453.8" rx="4.2" ry="3.3" fill="#d2d628"/><ellipse cx="3074.5" cy="1462.2" rx="3.0" ry="2.4" fill="#d2d628"/><ellipse cx="3033.8" cy="1334.1" rx="25" ry="7.5" transform="rotate(-42 3033.8 1334.1)" fill="#cfd42c"/><ellipse cx="2641.8" cy="1473.7" rx="21.7" ry="17.5"/><ellipse cx="2716.3" cy="1473.7" rx="21.7" ry="17.5"/><ellipse cx="2839.3" cy="1473.7" rx="23.5" ry="14.5"/><ellipse cx="2800.1" cy="1529.5" rx="24.1" ry="24.1"/><ellipse cx="2868.9" cy="1514.4" rx="19.6" ry="13.6"/><ellipse cx="2917.1" cy="1552.1" rx="15.7" ry="15.1"/><ellipse cx="2687.1" cy="1576.2" rx="19.6" ry="16.6"/><ellipse cx="2730.2" cy="1571.7" rx="15.7" ry="13.6"/><ellipse cx="2866.5" cy="1573.2" rx="18.7" ry="14.5"/><ellipse cx="2651.8" cy="1606.4" rx="20.5" ry="14.5"/><ellipse cx="2740.4" cy="1603.3" rx="15.7" ry="13.6"/><ellipse cx="2778.1" cy="1592.8" rx="15.1" ry="13.6"/><ellipse cx="2817.6" cy="1592.8" rx="15.1" ry="13.6"/><ellipse cx="2852.9" cy="1613.0" rx="19.6" ry="12.1"/><ellipse cx="2975.0" cy="1499.3" rx="6.6" ry="5.4" fill="#d2d628"/><ellipse cx="3011.2" cy="1479.7" rx="4.2" ry="3.6" fill="#d2d628"/><ellipse cx="2969.0" cy="1577.7" rx="4.2" ry="3.6" fill="#d2d628"/><ellipse cx="3008.2" cy="1598.8" rx="3.6" ry="3.6" fill="#d2d628"/><ellipse cx="3002.2" cy="1565.6" rx="3.0" ry="4.2" fill="#d2d628"/><ellipse cx="3012.7" cy="1555.1" rx="2.7" ry="6.0" fill="#d2d628"/><ellipse cx="3083.6" cy="1614.5" rx="3.0" ry="3.0" fill="#d2d628"/><ellipse cx="3107.7" cy="1619.0" rx="4.2" ry="3.3" fill="#d2d628"/><ellipse cx="3074.5" cy="1627.5" rx="3.0" ry="2.4" fill="#d2d628"/><ellipse cx="3033.8" cy="1499.3" rx="25" ry="7.5" transform="rotate(-42 3033.8 1499.3)" fill="#cfd42c"/></g>
<text x="882.5" y="57" font-size="67" text-anchor="start" >Pure Cu</text>
<text x="2203" y="55.5" font-size="66.4" text-anchor="start" >Cu-He</text>
<text x="644.5" y="259" font-size="67.5" text-anchor="end" >70 ps</text>
<text x="644.5" y="604" font-size="67.5" text-anchor="end" >90 ps</text>
<text x="644.5" y="958.5" font-size="67.5" text-anchor="end" >130 ps</text>
<text x="644.5" y="1284.6" font-size="67.5" text-anchor="end" >160 ps</text>
<rect x="1486" y="1567" width="811.5999999999999" height="48" fill="url(#cb43)"/>
<text x="1433.5" y="1612" font-size="66.4" text-anchor="start" >2</text>
<text x="2324" y="1612" font-size="66.4" text-anchor="start" >5</text>
<text x="2404" y="1612" font-size="66.4" text-anchor="start" ><tspan font-style="italic">v</tspan><tspan font-style="italic" font-size="39.8" dy="12.6">z</tspan><tspan dy="-12.6">/(km·s</tspan><tspan font-size="39.8" dy="-23.9">−1</tspan><tspan dy="23.9">)</tspan></text>
<text x="1516" y="1739" font-size="66.4" text-anchor="start" >(a) <tspan font-style="italic">u</tspan><tspan font-size="39.8" dy="12.6">p1</tspan><tspan dy="-12.6">=2.5 km/s, Δ</tspan><tspan font-style="italic">u</tspan><tspan font-size="39.8" dy="12.6">p2</tspan><tspan dy="-12.6">=1.0 km/s</tspan></text>
<rect x="861" y="2499" width="445" height="43.40000000000009" fill="url(#cb44)"/>
<text x="810" y="2541.5" font-size="66.4" text-anchor="start" >0</text>
<text x="1317" y="2541.5" font-size="66.4" text-anchor="start" >3</text>
<rect x="2485.5" y="2499" width="445.5" height="43.40000000000009" fill="url(#cb45)"/>
<text x="2433.6" y="2541.5" font-size="66.4" text-anchor="start" >0</text>
<text x="2940" y="2541.5" font-size="66.4" text-anchor="start" >3</text>
<text x="432" y="2629" font-size="66.9" text-anchor="start" >Structure type: 0. other; 1. FCC; 2. HCP; 3. BCC</text>
<text x="2056.8" y="2629" font-size="66.9" text-anchor="start" >Structure type: 0. other; 1. FCC; 2. HCP; 3. BCC</text>
<text x="655" y="2748.5" font-size="66.4" text-anchor="start" >(b) <tspan font-style="italic">u</tspan><tspan font-size="39.8" dy="12.6">p1</tspan><tspan dy="-12.6">=1.5 km/s, Δ</tspan><tspan font-style="italic">u</tspan><tspan font-size="39.8" dy="12.6">p2</tspan><tspan dy="-12.6">=1.0 km/s</tspan></text>
<text x="2280" y="2748.5" font-size="66.4" text-anchor="start" >(c) <tspan font-style="italic">u</tspan><tspan font-size="39.8" dy="12.6">p1</tspan><tspan dy="-12.6">=2.0 km/s, Δ</tspan><tspan font-style="italic">u</tspan><tspan font-size="39.8" dy="12.6">p2</tspan><tspan dy="-12.6">=1.0 km/s</tspan></text>
<text transform="translate(424.5,2161.8) scale(0.93,1)" font-size="67.5">160 ps</text>
<text transform="translate(1962.5,2162.2) scale(0.93,1)" font-size="67.5">160 ps</text>
<g clip-path="url(#c48)" fill="#0a24c4"><g id="p10"><ellipse cx="1031.8" cy="1829.6" rx="28.5" ry="21.8" stroke="#0a24c4" stroke-width="9"/><ellipse cx="1037.2" cy="1789.7" rx="28.5" ry="21.0" stroke="#0a24c4" stroke-width="9"/><ellipse cx="1111.7" cy="1824.3" rx="13.6" ry="16.0" stroke="#0a24c4" stroke-width="9"/><ellipse cx="1216.8" cy="1825.6" rx="24.7" ry="17.3" stroke="#0a24c4" stroke-width="9"/><ellipse cx="1223.4" cy="1793.7" rx="24.7" ry="16.0" stroke="#0a24c4" stroke-width="9"/><ellipse cx="1182.2" cy="1874.8" rx="23.4" ry="19.7" stroke="#0a24c4" stroke-width="9"/><ellipse cx="1244.7" cy="1861.5" rx="14.9" ry="14.9" transform="rotate(20 1244.7 1861.5)" stroke="#0a24c4" stroke-width="9"/><ellipse cx="1073.1" cy="1921.4" rx="15.4" ry="17.8" transform="rotate(-25 1073.1 1921.4)" stroke="#0a24c4" stroke-width="9"/><ellipse cx="1117.0" cy="1918.7" rx="15.4" ry="13.6" stroke="#0a24c4" stroke-width="9"/><ellipse cx="1127.6" cy="1949.9" rx="13.6" ry="13.6" stroke="#0a24c4" stroke-width="9"/><ellipse cx="1240.7" cy="1921.4" rx="17.3" ry="15.4" transform="rotate(15 1240.7 1921.4)" stroke="#0a24c4" stroke-width="9"/><ellipse cx="1186.7" cy="1933.4" rx="12.8" ry="18.6" stroke="#0a24c4" stroke-width="9"/><ellipse cx="1162.2" cy="1937.4" rx="5.3" ry="10.1" transform="rotate(10 1162.2 1937.4)" stroke="#0a24c4" stroke-width="9"/><ellipse cx="1003.9" cy="1872.2" rx="16.0" ry="13.3" stroke="#0a24c4" stroke-width="9"/><ellipse cx="999.9" cy="1884.1" rx="8.5" ry="6.9" stroke="#0a24c4" stroke-width="9"/><ellipse cx="1006.6" cy="1901.4" rx="7.5" ry="6.7" stroke="#0a24c4" stroke-width="9"/><ellipse cx="908.1" cy="1949.9" rx="8.0" ry="6.9" stroke="#0a24c4" stroke-width="9"/><ellipse cx="918.0" cy="1964.8" rx="2.4" ry="4.0" stroke="#0a24c4" stroke-width="9"/><ellipse cx="957.9" cy="1881.5" rx="4.0" ry="3.5" stroke="#0a24c4" stroke-width="9"/></g><use href="#p10" y="-162.3"/><use href="#p10" y="162.3"/><use href="#p10" y="324.6"/></g>
<g filter="url(#fb)"><g clip-path="url(#c48)"><g fill="#7a7a7a"><g id="p11"><ellipse cx="1031.8" cy="1829.6" rx="28.5" ry="21.8"/><ellipse cx="1037.2" cy="1789.7" rx="28.5" ry="21.0"/><ellipse cx="1111.7" cy="1824.3" rx="13.6" ry="16.0"/><ellipse cx="1216.8" cy="1825.6" rx="24.7" ry="17.3"/><ellipse cx="1223.4" cy="1793.7" rx="24.7" ry="16.0"/><ellipse cx="1182.2" cy="1874.8" rx="23.4" ry="19.7"/><ellipse cx="1244.7" cy="1861.5" rx="14.9" ry="14.9" transform="rotate(20 1244.7 1861.5)"/><ellipse cx="1073.1" cy="1921.4" rx="15.4" ry="17.8" transform="rotate(-25 1073.1 1921.4)"/><ellipse cx="1117.0" cy="1918.7" rx="15.4" ry="13.6"/><ellipse cx="1127.6" cy="1949.9" rx="13.6" ry="13.6"/><ellipse cx="1240.7" cy="1921.4" rx="17.3" ry="15.4" transform="rotate(15 1240.7 1921.4)"/></g><use href="#p11" y="-162.3"/><use href="#p11" y="162.3"/><use href="#p11" y="324.6"/></g><g fill="#9f9f9f"><g id="p12"><ellipse cx="1186.7" cy="1933.4" rx="12.8" ry="18.6"/><ellipse cx="1162.2" cy="1937.4" rx="5.3" ry="10.1" transform="rotate(10 1162.2 1937.4)"/></g><use href="#p12" y="-162.3"/><use href="#p12" y="162.3"/><use href="#p12" y="324.6"/></g></g></g>
<g clip-path="url(#c48)" fill="#fff"><g id="p13"><ellipse cx="1003.9" cy="1872.2" rx="16.0" ry="13.3"/><ellipse cx="999.9" cy="1884.1" rx="8.5" ry="6.9"/><ellipse cx="1006.6" cy="1901.4" rx="7.5" ry="6.7"/><ellipse cx="908.1" cy="1949.9" rx="8.0" ry="6.9"/><ellipse cx="918.0" cy="1964.8" rx="2.4" ry="4.0"/><ellipse cx="957.9" cy="1881.5" rx="4.0" ry="3.5"/></g><use href="#p13" y="-162.3"/><use href="#p13" y="162.3"/><use href="#p13" y="324.6"/></g>
<g clip-path="url(#c48)" fill="#d6cf1c"><g id="p14"><ellipse cx="1364.4" cy="1829.6" rx="11.2" ry="5.3" transform="rotate(-35 1364.4 1829.6)"/><ellipse cx="1385.7" cy="1845.6" rx="12.0" ry="10.1" transform="rotate(-30 1385.7 1845.6)"/><ellipse cx="1371.1" cy="1816.3" rx="8.5" ry="3.2" transform="rotate(-10 1371.1 1816.3)"/><ellipse cx="1465.6" cy="1821.6" rx="5.9" ry="4.8"/><ellipse cx="1328.5" cy="1857.5" rx="2.9" ry="4.0"/><ellipse cx="1371.1" cy="1889.5" rx="3.2" ry="5.9"/><ellipse cx="1287.3" cy="1897.4" rx="3.7" ry="7.5" transform="rotate(20 1287.3 1897.4)"/><ellipse cx="1331.2" cy="1920.1" rx="5.3" ry="5.9"/><ellipse cx="1376.4" cy="1933.9" rx="4.0" ry="3.7"/><ellipse cx="1360.5" cy="1949.3" rx="5.9" ry="5.9"/><ellipse cx="1357.8" cy="1966.6" rx="8.0" ry="3.5" transform="rotate(25 1357.8 1966.6)"/><ellipse cx="1372.4" cy="1979.9" rx="9.3" ry="2.9" transform="rotate(-10 1372.4 1979.9)"/><ellipse cx="1490.8" cy="1961.3" rx="5.9" ry="4.8"/></g><use href="#p14" y="-162.3"/><use href="#p14" y="162.3"/><use href="#p14" y="324.6"/></g>
<g clip-path="url(#c54)" fill="#fff"><g id="p19"><ellipse cx="917.4" cy="2155.7" rx="6.8" ry="10.9" stroke="#0a24c4" stroke-width="9"/><ellipse cx="923.6" cy="2194.5" rx="8.7" ry="11.8" stroke="#0a24c4" stroke-width="9"/><ellipse cx="940.7" cy="2208.5" rx="6.2" ry="9.3" stroke="#0a24c4" stroke-width="9"/><ellipse cx="956.2" cy="2141.7" rx="3.7" ry="4.7" stroke="#0a24c4" stroke-width="9"/><ellipse cx="959.3" cy="2152.6" rx="3.7" ry="5.6" stroke="#0a24c4" stroke-width="9"/><ellipse cx="987.3" cy="2154.1" rx="6.2" ry="5.6" stroke="#0a24c4" stroke-width="9"/><ellipse cx="982.6" cy="2179.0" rx="10.9" ry="14.0" transform="rotate(-20 982.6 2179.0)" stroke="#0a24c4" stroke-width="9"/><ellipse cx="993.5" cy="2197.6" rx="9.3" ry="9.3" stroke="#0a24c4" stroke-width="9"/><ellipse cx="1018.3" cy="2186.7" rx="12.4" ry="10.9" stroke="#0a24c4" stroke-width="9"/><ellipse cx="1019.9" cy="2208.5" rx="17.1" ry="11.8" transform="rotate(-15 1019.9 2208.5)" stroke="#0a24c4" stroke-width="9"/><ellipse cx="1018.3" cy="2144.8" rx="14.0" ry="11.8" stroke="#0a24c4" stroke-width="9"/><ellipse cx="1043.1" cy="2157.3" rx="10.9" ry="9.3" stroke="#0a24c4" stroke-width="9"/><ellipse cx="1063.3" cy="2154.1" rx="10.9" ry="8.7" stroke="#0a24c4" stroke-width="9"/><ellipse cx="1075.7" cy="2146.4" rx="8.7" ry="7.8" stroke="#0a24c4" stroke-width="9"/><ellipse cx="1094.4" cy="2155.7" rx="7.8" ry="7.8" stroke="#0a24c4" stroke-width="9"/><ellipse cx="1131.6" cy="2146.4" rx="9.3" ry="5.6" stroke="#0a24c4" stroke-width="9"/><ellipse cx="1120.8" cy="2165.0" rx="9.3" ry="6.8" stroke="#0a24c4" stroke-width="9"/><ellipse cx="1131.6" cy="2179.0" rx="6.2" ry="6.2" stroke="#0a24c4" stroke-width="9"/><ellipse cx="1080.4" cy="2197.6" rx="12.4" ry="12.4" stroke="#0a24c4" stroke-width="9"/><ellipse cx="1102.1" cy="2213.1" rx="6.8" ry="7.8" stroke="#0a24c4" stroke-width="9"/><ellipse cx="1058.7" cy="2234.9" rx="22.4" ry="17.1" transform="rotate(30 1058.7 2234.9)" stroke="#0a24c4" stroke-width="9"/><ellipse cx="1074.2" cy="2250.4" rx="15.5" ry="9.3" transform="rotate(20 1074.2 2250.4)" stroke="#0a24c4" stroke-width="9"/><ellipse cx="1027.6" cy="2244.2" rx="12.4" ry="9.3" stroke="#0a24c4" stroke-width="9"/><ellipse cx="1092.8" cy="2259.7" rx="6.2" ry="3.7" stroke="#0a24c4" stroke-width="9"/><ellipse cx="993.5" cy="2275.2" rx="14.0" ry="10.9" stroke="#0a24c4" stroke-width="9"/><ellipse cx="1119.2" cy="2284.5" rx="17.1" ry="14.9" stroke="#0a24c4" stroke-width="9"/><ellipse cx="1210.8" cy="2151.0" rx="31.0" ry="14.0" transform="rotate(5 1210.8 2151.0)" stroke="#0a24c4" stroke-width="9"/><ellipse cx="1217.0" cy="2172.8" rx="24.8" ry="9.9" stroke="#0a24c4" stroke-width="9"/><ellipse cx="1213.9" cy="2199.2" rx="24.8" ry="14.9" transform="rotate(15 1213.9 2199.2)" stroke="#0a24c4" stroke-width="9"/><ellipse cx="1220.1" cy="2224.0" rx="9.3" ry="6.2" stroke="#0a24c4" stroke-width="9"/><ellipse cx="1164.2" cy="2213.1" rx="13.0" ry="18.6" transform="rotate(-20 1164.2 2213.1)" stroke="#0a24c4" stroke-width="9"/><ellipse cx="1156.5" cy="2242.6" rx="18.6" ry="9.3" transform="rotate(10 1156.5 2242.6)" stroke="#0a24c4" stroke-width="9"/><ellipse cx="1165.8" cy="2273.7" rx="18.0" ry="13.0" stroke="#0a24c4" stroke-width="9"/><ellipse cx="1189.0" cy="2253.5" rx="4.7" ry="3.7" stroke="#0a24c4" stroke-width="9"/><ellipse cx="1232.5" cy="2248.8" rx="6.2" ry="6.8" stroke="#0a24c4" stroke-width="9"/><ellipse cx="1258.9" cy="2275.2" rx="4.7" ry="6.8" stroke="#0a24c4" stroke-width="9"/><ellipse cx="1005.9" cy="2293.8" rx="9.3" ry="6.2" stroke="#0a24c4" stroke-width="9"/><ellipse cx="1033.8" cy="2134.0" rx="6.2" ry="4.3" stroke="#0a24c4" stroke-width="9"/><ellipse cx="1140.9" cy="2231.8" rx="7.8" ry="4.3" transform="rotate(20 1140.9 2231.8)" stroke="#0a24c4" stroke-width="9"/></g><use href="#p19" y="-162.3"/><use href="#p19" y="162.3"/><use href="#p19" y="324.7"/></g>
<g clip-path="url(#c54)" fill="#fff"><g id="p20"><ellipse cx="917.4" cy="2155.7" rx="6.8" ry="10.9"/><ellipse cx="923.6" cy="2194.5" rx="8.7" ry="11.8"/><ellipse cx="940.7" cy="2208.5" rx="6.2" ry="9.3"/><ellipse cx="956.2" cy="2141.7" rx="3.7" ry="4.7"/><ellipse cx="959.3" cy="2152.6" rx="3.7" ry="5.6"/><ellipse cx="987.3" cy="2154.1" rx="6.2" ry="5.6"/><ellipse cx="982.6" cy="2179.0" rx="10.9" ry="14.0" transform="rotate(-20 982.6 2179.0)"/><ellipse cx="993.5" cy="2197.6" rx="9.3" ry="9.3"/><ellipse cx="1018.3" cy="2186.7" rx="12.4" ry="10.9"/><ellipse cx="1019.9" cy="2208.5" rx="17.1" ry="11.8" transform="rotate(-15 1019.9 2208.5)"/><ellipse cx="1018.3" cy="2144.8" rx="14.0" ry="11.8"/><ellipse cx="1043.1" cy="2157.3" rx="10.9" ry="9.3"/><ellipse cx="1063.3" cy="2154.1" rx="10.9" ry="8.7"/><ellipse cx="1075.7" cy="2146.4" rx="8.7" ry="7.8"/><ellipse cx="1094.4" cy="2155.7" rx="7.8" ry="7.8"/><ellipse cx="1131.6" cy="2146.4" rx="9.3" ry="5.6"/><ellipse cx="1120.8" cy="2165.0" rx="9.3" ry="6.8"/><ellipse cx="1131.6" cy="2179.0" rx="6.2" ry="6.2"/><ellipse cx="1080.4" cy="2197.6" rx="12.4" ry="12.4"/><ellipse cx="1102.1" cy="2213.1" rx="6.8" ry="7.8"/><ellipse cx="1058.7" cy="2234.9" rx="22.4" ry="17.1" transform="rotate(30 1058.7 2234.9)"/><ellipse cx="1074.2" cy="2250.4" rx="15.5" ry="9.3" transform="rotate(20 1074.2 2250.4)"/><ellipse cx="1027.6" cy="2244.2" rx="12.4" ry="9.3"/><ellipse cx="1092.8" cy="2259.7" rx="6.2" ry="3.7"/><ellipse cx="993.5" cy="2275.2" rx="14.0" ry="10.9"/><ellipse cx="1119.2" cy="2284.5" rx="17.1" ry="14.9"/><ellipse cx="1210.8" cy="2151.0" rx="31.0" ry="14.0" transform="rotate(5 1210.8 2151.0)"/><ellipse cx="1217.0" cy="2172.8" rx="24.8" ry="9.9"/><ellipse cx="1213.9" cy="2199.2" rx="24.8" ry="14.9" transform="rotate(15 1213.9 2199.2)"/><ellipse cx="1220.1" cy="2224.0" rx="9.3" ry="6.2"/><ellipse cx="1164.2" cy="2213.1" rx="13.0" ry="18.6" transform="rotate(-20 1164.2 2213.1)"/><ellipse cx="1156.5" cy="2242.6" rx="18.6" ry="9.3" transform="rotate(10 1156.5 2242.6)"/><ellipse cx="1165.8" cy="2273.7" rx="18.0" ry="13.0"/><ellipse cx="1189.0" cy="2253.5" rx="4.7" ry="3.7"/><ellipse cx="1232.5" cy="2248.8" rx="6.2" ry="6.8"/><ellipse cx="1258.9" cy="2275.2" rx="4.7" ry="6.8"/><ellipse cx="1005.9" cy="2293.8" rx="9.3" ry="6.2"/><ellipse cx="1033.8" cy="2134.0" rx="6.2" ry="4.3"/><ellipse cx="1140.9" cy="2231.8" rx="7.8" ry="4.3" transform="rotate(20 1140.9 2231.8)"/></g><use href="#p20" y="-162.3"/><use href="#p20" y="162.3"/><use href="#p20" y="324.7"/></g>
<rect x="621" y="2131.1000000000004" width="895.1" height="2.4" fill="#b9bdf0"/>
<rect x="632" y="1820.5" width="199" height="84" fill="#fff"/><rect x="624" y="2140" width="262.5" height="83.7" fill="#fff"/>
<text x="641.5" y="1886" font-size="66.5">Cu-He</text><text x="644" y="2204.8" font-size="66.5">Pure Cu</text>
<g clip-path="url(#c61)" fill="#0a24c4"><g id="p23"><ellipse cx="2643.8" cy="1831.6" rx="36.0" ry="24.5" stroke="#0a24c4" stroke-width="9"/><ellipse cx="2648.5" cy="1791.3" rx="36.0" ry="24.5" stroke="#0a24c4" stroke-width="9"/><ellipse cx="2735.4" cy="1832.3" rx="23.6" ry="20.8" transform="rotate(-20 2735.4 1832.3)" stroke="#0a24c4" stroke-width="9"/><ellipse cx="2862.7" cy="1826.0" rx="36.0" ry="16.8" stroke="#0a24c4" stroke-width="9"/><ellipse cx="2870.4" cy="1797.5" rx="36.0" ry="20.2" stroke="#0a24c4" stroke-width="9"/><ellipse cx="2893.7" cy="1861.7" rx="25.5" ry="16.8" transform="rotate(15 2893.7 1861.7)" stroke="#0a24c4" stroke-width="9"/><ellipse cx="2822.3" cy="1877.3" rx="34.8" ry="20.2" transform="rotate(5 2822.3 1877.3)" stroke="#0a24c4" stroke-width="9"/><ellipse cx="2690.4" cy="1922.3" rx="22.7" ry="20.8" transform="rotate(-30 2690.4 1922.3)" stroke="#0a24c4" stroke-width="9"/><ellipse cx="2744.7" cy="1917.6" rx="27.3" ry="18.9" transform="rotate(10 2744.7 1917.6)" stroke="#0a24c4" stroke-width="9"/><ellipse cx="2757.1" cy="1950.2" rx="20.8" ry="15.8" transform="rotate(-10 2757.1 1950.2)" stroke="#0a24c4" stroke-width="9"/><ellipse cx="2890.6" cy="1925.4" rx="26.7" ry="16.8" transform="rotate(15 2890.6 1925.4)" stroke="#0a24c4" stroke-width="9"/><ellipse cx="2796.5" cy="1937.8" rx="8.7" ry="14.9" transform="rotate(15 2796.5 1937.8)" stroke="#0a24c4" stroke-width="9"/><ellipse cx="2828.5" cy="1939.3" rx="14.9" ry="14.9" stroke="#0a24c4" stroke-width="9"/><ellipse cx="2938.1" cy="1899.0" rx="11.8" ry="14.0" stroke="#0a24c4" stroke-width="9"/></g><use href="#p23" y="-162.0"/><use href="#p23" y="162.0"/><use href="#p23" y="324.1"/></g>
<g filter="url(#fb)"><g clip-path="url(#c61)"><g fill="#757575"><g id="p24"><ellipse cx="2643.8" cy="1831.6" rx="36.0" ry="24.5"/><ellipse cx="2648.5" cy="1791.3" rx="36.0" ry="24.5"/><ellipse cx="2735.4" cy="1832.3" rx="23.6" ry="20.8" transform="rotate(-20 2735.4 1832.3)"/><ellipse cx="2862.7" cy="1826.0" rx="36.0" ry="16.8"/><ellipse cx="2870.4" cy="1797.5" rx="36.0" ry="20.2"/><ellipse cx="2893.7" cy="1861.7" rx="25.5" ry="16.8" transform="rotate(15 2893.7 1861.7)"/><ellipse cx="2822.3" cy="1877.3" rx="34.8" ry="20.2" transform="rotate(5 2822.3 1877.3)"/><ellipse cx="2690.4" cy="1922.3" rx="22.7" ry="20.8" transform="rotate(-30 2690.4 1922.3)"/><ellipse cx="2744.7" cy="1917.6" rx="27.3" ry="18.9" transform="rotate(10 2744.7 1917.6)"/><ellipse cx="2757.1" cy="1950.2" rx="20.8" ry="15.8" transform="rotate(-10 2757.1 1950.2)"/><ellipse cx="2890.6" cy="1925.4" rx="26.7" ry="16.8" transform="rotate(15 2890.6 1925.4)"/></g><use href="#p24" y="-162.0"/><use href="#p24" y="162.0"/><use href="#p24" y="324.1"/></g><g fill="#a6a6a6"><g id="p25"><ellipse cx="2796.5" cy="1937.8" rx="8.7" ry="14.9" transform="rotate(15 2796.5 1937.8)"/><ellipse cx="2828.5" cy="1939.3" rx="14.9" ry="14.9"/><ellipse cx="2938.1" cy="1899.0" rx="11.8" ry="14.0"/></g><use href="#p25" y="-162.0"/><use href="#p25" y="162.0"/><use href="#p25" y="324.1"/></g></g></g>
<g clip-path="url(#c61)" fill="#fff"><g id="p26"><ellipse cx="2278.4" cy="1922.7" rx="21.3" ry="16.0"/><ellipse cx="2315.6" cy="1925.4" rx="7.5" ry="7.5"/><ellipse cx="2222.5" cy="1944.0" rx="34.6" ry="20.8"/><ellipse cx="2265.1" cy="1952.0" rx="13.3" ry="8.0" transform="rotate(-20 2265.1 1952.0)"/><ellipse cx="2286.3" cy="1970.6" rx="23.9" ry="15.4" transform="rotate(-10 2286.3 1970.6)"/><ellipse cx="2194.5" cy="1995.9" rx="19.2" ry="18.1"/><ellipse cx="2239.8" cy="1985.2" rx="8.0" ry="6.7"/><ellipse cx="2235.8" cy="2006.5" rx="8.5" ry="7.5"/><ellipse cx="2275.7" cy="1998.6" rx="20.0" ry="12.0" transform="rotate(10 2275.7 1998.6)"/><ellipse cx="2258.4" cy="2026.5" rx="19.2" ry="12.8"/><ellipse cx="2299.6" cy="2018.5" rx="9.3" ry="7.5"/><ellipse cx="2316.9" cy="2021.2" rx="6.7" ry="6.7"/><ellipse cx="2195.9" cy="2033.1" rx="5.9" ry="4.8"/><ellipse cx="2231.8" cy="2037.7" rx="4.8" ry="4.0"/><ellipse cx="2309.0" cy="2042.5" rx="12.0" ry="10.6"/><ellipse cx="2227.8" cy="2059.7" rx="13.3" ry="9.3"/><ellipse cx="2197.2" cy="2069.1" rx="10.6" ry="8.5"/><ellipse cx="2283.7" cy="2063.7" rx="18.6" ry="10.6" transform="rotate(10 2283.7 2063.7)"/><ellipse cx="2533.8" cy="1830.9" rx="10.6" ry="10.6"/><ellipse cx="2561.7" cy="1828.3" rx="2.7" ry="5.3"/><ellipse cx="2559.1" cy="1860.2" rx="4.0" ry="3.2"/><ellipse cx="2599.0" cy="1881.5" rx="18.6" ry="10.1" transform="rotate(10 2599.0 1881.5)"/><ellipse cx="2561.7" cy="1901.4" rx="4.8" ry="3.2"/><ellipse cx="2529.3" cy="1912.1" rx="4.8" ry="4.8"/><ellipse cx="2595.0" cy="1917.4" rx="12.8" ry="10.1" transform="rotate(-15 2595.0 1917.4)"/><ellipse cx="2544.4" cy="1944.0" rx="10.6" ry="13.3"/><ellipse cx="2541.8" cy="1925.4" rx="3.2" ry="2.7"/><ellipse cx="2515.7" cy="1968.0" rx="5.9" ry="5.9"/><ellipse cx="2527.1" cy="1973.3" rx="5.9" ry="6.7"/><ellipse cx="2533.8" cy="1993.2" rx="11.2" ry="10.1" transform="rotate(30 2533.8 1993.2)"/><ellipse cx="2561.7" cy="1990.6" rx="3.2" ry="5.3"/><ellipse cx="2557.7" cy="2021.2" rx="4.0" ry="3.2"/></g><use href="#p26" y="-162.3"/><use href="#p26" y="162.3"/><use href="#p26" y="324.6"/><g id="p27"><ellipse cx="2598.8" cy="1881.9" rx="18.6" ry="9.3" transform="rotate(8 2598.8 1881.9)"/><ellipse cx="2594.1" cy="1916.1" rx="12.4" ry="9.3" transform="rotate(-10 2594.1 1916.1)"/></g><use href="#p27" y="-162.0"/><use href="#p27" y="162.0"/><use href="#p27" y="324.1"/></g>
<g clip-path="url(#c61)" fill="#cdd022"><g id="p28"><ellipse cx="2989.3" cy="1852.4" rx="11.2" ry="7.5" transform="rotate(-30 2989.3 1852.4)"/><ellipse cx="2985.3" cy="1926.9" rx="6.8" ry="8.1" transform="rotate(20 2985.3 1926.9)"/><ellipse cx="3017.9" cy="1913.0" rx="5.3" ry="6.2"/><ellipse cx="3033.4" cy="1939.3" rx="5.3" ry="5.6"/><ellipse cx="3048.9" cy="1961.1" rx="5.6" ry="3.4"/><ellipse cx="3042.7" cy="1979.7" rx="5.6" ry="2.8"/><ellipse cx="3086.2" cy="1971.9" rx="6.8" ry="4.0"/><ellipse cx="3125.6" cy="1974.4" rx="6.2" ry="4.3"/><ellipse cx="3218.1" cy="1962.6" rx="4.3" ry="6.2"/><ellipse cx="3042.7" cy="1816.7" rx="5.6" ry="2.8"/><ellipse cx="3086.2" cy="1810.5" rx="6.8" ry="3.4"/><ellipse cx="3125.6" cy="1812.1" rx="6.2" ry="4.0"/></g><use href="#p28" y="-162.0"/><use href="#p28" y="162.0"/><use href="#p28" y="324.1"/></g>
<g clip-path="url(#c65)" fill="#fff"><g id="p31"><ellipse cx="2517.2" cy="2127.8" rx="6.8" ry="4.7"/><ellipse cx="2580.8" cy="2154.1" rx="24.8" ry="18.0"/><ellipse cx="2551.3" cy="2171.2" rx="6.2" ry="7.8"/><ellipse cx="2604.1" cy="2180.5" rx="22.4" ry="15.5" transform="rotate(-10 2604.1 2180.5)"/><ellipse cx="2633.6" cy="2154.1" rx="6.8" ry="6.8"/><ellipse cx="2647.5" cy="2161.9" rx="4.7" ry="6.2"/><ellipse cx="2537.3" cy="2194.5" rx="5.6" ry="3.1"/><ellipse cx="2521.8" cy="2231.8" rx="3.1" ry="4.7"/><ellipse cx="2672.4" cy="2203.8" rx="27.9" ry="19.2"/><ellipse cx="2642.9" cy="2227.1" rx="15.5" ry="11.8"/><ellipse cx="2607.2" cy="2225.5" rx="4.7" ry="7.8"/><ellipse cx="2697.2" cy="2224.0" rx="15.5" ry="7.8"/><ellipse cx="2563.7" cy="2269.0" rx="18.0" ry="14.0" transform="rotate(20 2563.7 2269.0)"/><ellipse cx="2590.1" cy="2256.6" rx="12.4" ry="10.9"/><ellipse cx="2543.5" cy="2284.5" rx="11.8" ry="12.4"/><ellipse cx="2646.0" cy="2253.5" rx="15.5" ry="12.4"/><ellipse cx="2628.9" cy="2272.1" rx="14.0" ry="12.4"/><ellipse cx="2602.5" cy="2290.7" rx="8.7" ry="6.8"/><ellipse cx="2736.0" cy="2256.6" rx="34.1" ry="18.6"/><ellipse cx="2697.2" cy="2287.6" rx="29.5" ry="19.2"/><ellipse cx="2655.3" cy="2301.6" rx="6.8" ry="10.9"/><ellipse cx="2773.3" cy="2149.5" rx="15.5" ry="8.7"/><ellipse cx="2795.0" cy="2141.7" rx="11.8" ry="7.8"/><ellipse cx="2767.0" cy="2191.4" rx="21.7" ry="21.7"/><ellipse cx="2757.7" cy="2169.7" rx="12.4" ry="9.3"/><ellipse cx="2810.5" cy="2213.1" rx="17.1" ry="14.9"/><ellipse cx="2712.7" cy="2182.1" rx="10.9" ry="7.8"/><ellipse cx="2723.6" cy="2203.8" rx="3.7" ry="4.7"/><ellipse cx="2779.5" cy="2233.3" rx="9.3" ry="7.8"/><ellipse cx="2810.5" cy="2253.5" rx="10.9" ry="8.7"/><ellipse cx="2832.2" cy="2169.7" rx="15.5" ry="12.4"/><ellipse cx="2779.5" cy="2275.2" rx="10.9" ry="6.2"/><ellipse cx="2795.0" cy="2300.0" rx="11.8" ry="9.3"/><ellipse cx="2767.0" cy="2307.8" rx="8.7" ry="6.2"/><ellipse cx="2242.4" cy="2247.3" rx="31.0" ry="10.9"/><ellipse cx="2298.3" cy="2265.9" rx="18.6" ry="20.2"/><ellipse cx="2245.5" cy="2292.3" rx="43.5" ry="21.7"/><ellipse cx="2209.8" cy="2337.3" rx="14.0" ry="10.9"/><ellipse cx="2258.0" cy="2331.1" rx="17.1" ry="9.3"/><ellipse cx="2306.1" cy="2331.1" rx="14.9" ry="13.0"/><ellipse cx="2203.6" cy="2363.7" rx="8.7" ry="6.8"/><ellipse cx="2259.5" cy="2369.9" rx="26.4" ry="17.1"/><ellipse cx="2301.4" cy="2357.5" rx="6.8" ry="5.6"/><ellipse cx="2203.6" cy="2393.2" rx="17.1" ry="17.1"/><ellipse cx="2230.0" cy="2407.1" rx="10.9" ry="10.9" transform="rotate(-30 2230.0 2407.1)"/></g><use href="#p31" y="-161.4"/><use href="#p31" y="161.4"/><use href="#p31" y="322.8"/><g id="p32"><ellipse cx="2851.5" cy="2190.8" rx="16.9" ry="12.4"/><ellipse cx="2883.8" cy="2182.1" rx="16.1" ry="15.4"/><ellipse cx="2890.0" cy="2147.3" rx="18.6" ry="13.7"/><ellipse cx="2906.1" cy="2122.5" rx="26.1" ry="18.6"/><ellipse cx="2934.7" cy="2142.4" rx="7.0" ry="9.9"/><ellipse cx="2887.5" cy="2220.6" rx="21.9" ry="16.1"/><ellipse cx="2871.4" cy="2265.3" rx="2.0" ry="2.0"/></g><use href="#p32" y="-161.9"/><use href="#p32" y="161.9"/><use href="#p32" y="323.8"/></g>
<rect x="2152" y="2131" width="1078.5" height="2" fill="#3a4fe0" opacity="0.5"/>
<path d="M3216,2132 V2456.5" stroke="#e6e6ee" stroke-width="1.5"/>
<rect x="2167" y="1820" width="194" height="89.5" fill="#fff"/><rect x="2163.3" y="2152.6" width="252.4" height="84.7" fill="#fff"/>
<text x="2171" y="1889.5" font-size="66.5">Cu-He</text><text x="2182.5" y="2214" font-size="66.5">Pure Cu</text>
</svg></body></html>
